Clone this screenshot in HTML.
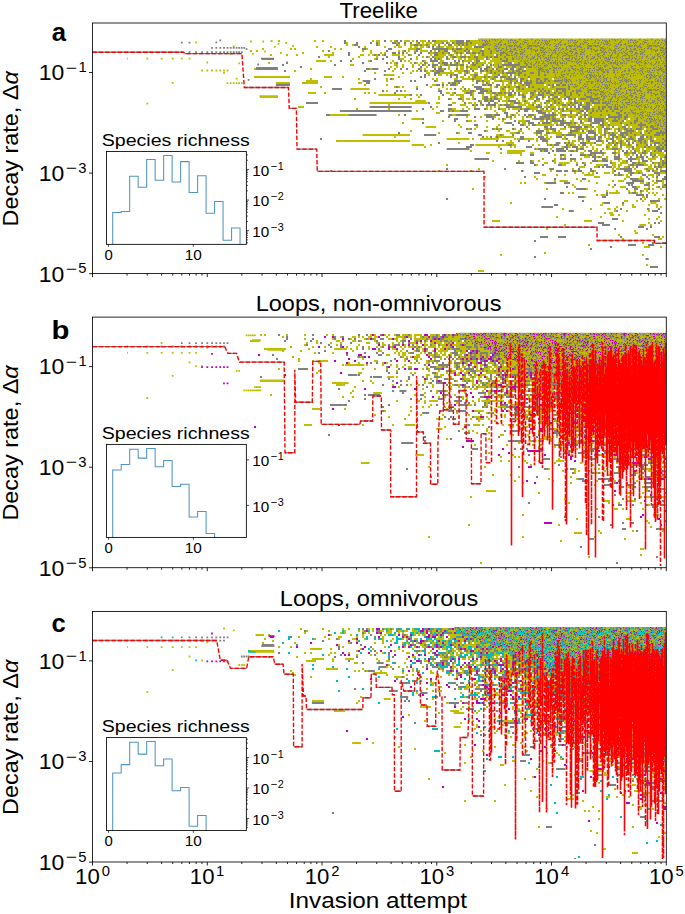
<!DOCTYPE html><html><head><meta charset="utf-8"><style>html,body{margin:0;padding:0;background:#fff}svg{display:block}</style></head><body><svg width="685" height="914" viewBox="0 0 685 914" font-family="Liberation Sans, sans-serif">
<rect width="685" height="914" fill="#fff"/>
<text x="339.50" y="17.90" font-size="22.2" textLength="78.48" lengthAdjust="spacingAndGlyphs">Treelike</text>
<text x="255.67" y="311.30" font-size="22.2" textLength="245.78" lengthAdjust="spacingAndGlyphs">Loops, non-omnivorous</text>
<text x="279.88" y="605.50" font-size="22.2" textLength="198.27" lengthAdjust="spacingAndGlyphs">Loops, omnivorous</text>
<text x="51.85" y="41.40" font-size="25.5" textLength="14.29" lengthAdjust="spacingAndGlyphs" font-weight="bold">a</text>
<text x="51.56" y="339.00" font-size="25.5" textLength="17.94" lengthAdjust="spacingAndGlyphs" font-weight="bold">b</text>
<text x="51.60" y="631.60" font-size="25.5" textLength="14.25" lengthAdjust="spacingAndGlyphs" font-weight="bold">c</text>
<text x="288.86" y="907.70" font-size="22.2" textLength="178.22" lengthAdjust="spacingAndGlyphs">Invasion attempt</text>
<defs><filter id="soft" x="0" y="0" width="1" height="1"><feGaussianBlur stdDeviation="0.45"/></filter><pattern id="pat0" width="60" height="44" patternUnits="userSpaceOnUse" x="0" y="0">
<rect width="60" height="44" fill="#bfbf00"/>
<path d="M0 0h0m4 0h0m2 0h0m1 0h0m3 0h0m6 0h0m2 0h0m2 0h0m1 0h0m3 0h0m1 0h0m10 0h0m5 0h0m3 0h0m4 0h0m-38 1h0m6 0h0m5 0h0m8 0h0m1 0h0m1 0h0m2 0h0m2 0h0m2 0h0m3 0h0m9 0h0m1 0h0m1 0h0m1 0h0m2 0h0m1 0h0m1 0h0m2 0h0m1 0h0m-55 1h0m11 0h0m2 0h0m1 0h0m9 0h0m3 0h0m1 0h0m1 0h0m3 0h0m3 0h0m1 0h0m1 0h0m1 0h0m7 0h0m2 0h0m1 0h0m1 0h0m4 0h0m1 0h0m3 0h0m-59 1h0m1 0h0m1 0h0m5 0h0m12 0h0m7 0h0m11 0h0m3 0h0m1 0h0m7 0h0m-47 1h0m1 0h0m1 0h0m2 0h0m4 0h0m6 0h0m1 0h0m2 0h0m4 0h0m1 0h0m3 0h0m4 0h0m4 0h0m1 0h0m9 0h0m3 0h0m1 0h0m2 0h0m1 0h0m-51 1h0m4 0h0m6 0h0m4 0h0m7 0h0m5 0h0m1 0h0m4 0h0m2 0h0m1 0h0m1 0h0m4 0h0m2 0h0m1 0h0m9 0h0m2 0h0m1 0h0m3 0h0m-57 1h0m1 0h0m2 0h0m5 0h0m3 0h0m2 0h0m1 0h0m1 0h0m3 0h0m2 0h0m5 0h0m5 0h0m6 0h0m8 0h0m11 0h0m1 0h0m1 0h0m-55 1h0m3 0h0m10 0h0m8 0h0m6 0h0m1 0h0m1 0h0m1 0h0m8 0h0m1 0h0m3 0h0m7 0h0m4 0h0m-54 1h0m2 0h0m1 0h0m2 0h0m3 0h0m3 0h0m2 0h0m1 0h0m4 0h0m2 0h0m3 0h0m3 0h0m5 0h0m3 0h0m1 0h0m6 0h0m1 0h0m-39 1h0m8 0h0m3 0h0m3 0h0m4 0h0m3 0h0m1 0h0m5 0h0m4 0h0m1 0h0m1 0h0m3 0h0m1 0h0m16 0h0m2 0h0m-56 1h0m1 0h0m7 0h0m6 0h0m9 0h0m1 0h0m7 0h0m6 0h0m2 0h0m2 0h0m6 0h0m5 0h0m2 0h0m1 0h0m-58 1h0m2 0h0m6 0h0m2 0h0m1 0h0m7 0h0m5 0h0m1 0h0m1 0h0m3 0h0m1 0h0m2 0h0m1 0h0m4 0h0m11 0h0m10 0h0m-54 1h0m7 0h0m7 0h0m5 0h0m7 0h0m7 0h0m3 0h0m3 0h0m4 0h0m1 0h0m5 0h0m2 0h0m4 0h0m1 0h0m-59 1h0m5 0h0m1 0h0m2 0h0m2 0h0m2 0h0m2 0h0m2 0h0m4 0h0m9 0h0m3 0h0m2 0h0m7 0h0m5 0h0m7 0h0m1 0h0m-54 1h0m4 0h0m2 0h0m2 0h0m2 0h0m7 0h0m5 0h0m3 0h0m1 0h0m1 0h0m1 0h0m1 0h0m3 0h0m3 0h0m1 0h0m3 0h0m3 0h0m6 0h0m3 0h0m1 0h0m1 0h0m4 0h0m-50 1h0m1 0h0m1 0h0m13 0h0m4 0h0m5 0h0m4 0h0m3 0h0m12 0h0m5 0h0m2 0h0m-56 1h0m4 0h0m1 0h0m3 0h0m3 0h0m3 0h0m2 0h0m6 0h0m4 0h0m1 0h0m1 0h0m8 0h0m4 0h0m4 0h0m2 0h0m-44 1h0m4 0h0m1 0h0m7 0h0m4 0h0m5 0h0m7 0h0m1 0h0m2 0h0m2 0h0m3 0h0m1 0h0m4 0h0m12 0h0m2 0h0m-55 1h0m7 0h0m1 0h0m2 0h0m1 0h0m1 0h0m2 0h0m3 0h0m2 0h0m4 0h0m10 0h0m2 0h0m3 0h0m4 0h0m3 0h0m3 0h0m5 0h0m3 0h0m-57 1h0m2 0h0m4 0h0m2 0h0m1 0h0m2 0h0m2 0h0m2 0h0m3 0h0m1 0h0m1 0h0m2 0h0m2 0h0m11 0h0m7 0h0m1 0h0m1 0h0m4 0h0m5 0h0m3 0h0m-52 1h0m10 0h0m1 0h0m22 0h0m12 0h0m3 0h0m-54 1h0m4 0h0m1 0h0m2 0h0m5 0h0m6 0h0m4 0h0m8 0h0m4 0h0m1 0h0m4 0h0m2 0h0m3 0h0m9 0h0m5 0h0m-54 1h0m1 0h0m7 0h0m19 0h0m1 0h0m24 0h0m-56 1h0m2 0h0m11 0h0m1 0h0m2 0h0m3 0h0m1 0h0m11 0h0m11 0h0m3 0h0m9 0h0m4 0h0m-58 1h0m1 0h0m8 0h0m1 0h0m4 0h0m1 0h0m1 0h0m2 0h0m2 0h0m5 0h0m3 0h0m4 0h0m1 0h0m2 0h0m5 0h0m1 0h0m2 0h0m4 0h0m2 0h0m1 0h0m3 0h0m1 0h0m5 0h0m-59 1h0m2 0h0m1 0h0m2 0h0m2 0h0m6 0h0m16 0h0m4 0h0m1 0h0m3 0h0m1 0h0m4 0h0m14 0h0m2 0h0m1 0h0m-58 1h0m5 0h0m2 0h0m5 0h0m1 0h0m3 0h0m7 0h0m1 0h0m3 0h0m1 0h0m6 0h0m5 0h0m1 0h0m6 0h0m2 0h0m3 0h0m2 0h0m3 0h0m1 0h0m-56 1h0m1 0h0m1 0h0m3 0h0m7 0h0m8 0h0m2 0h0m5 0h0m10 0h0m3 0h0m3 0h0m2 0h0m2 0h0m-46 1h0m1 0h0m3 0h0m1 0h0m5 0h0m1 0h0m3 0h0m4 0h0m13 0h0m8 0h0m6 0h0m2 0h0m1 0h0m2 0h0m4 0h0m-31 1h0m2 0h0m3 0h0m2 0h0m4 0h0m3 0h0m3 0h0m15 0h0m-56 1h0m5 0h0m8 0h0m6 0h0m2 0h0m1 0h0m3 0h0m14 0h0m6 0h0m2 0h0m1 0h0m1 0h0m3 0h0m-54 1h0m4 0h0m17 0h0m1 0h0m8 0h0m3 0h0m2 0h0m11 0h0m3 0h0m2 0h0m1 0h0m2 0h0m2 0h0m2 0h0m-58 1h0m3 0h0m12 0h0m4 0h0m4 0h0m7 0h0m14 0h0m2 0h0m4 0h0m3 0h0m2 0h0m4 0h0m-56 1h0m4 0h0m7 0h0m2 0h0m4 0h0m2 0h0m4 0h0m20 0h0m1 0h0m3 0h0m1 0h0m3 0h0m5 0h0m-59 1h0m4 0h0m1 0h0m1 0h0m4 0h0m8 0h0m6 0h0m25 0h0m1 0h0m6 0h0m-53 1h0m3 0h0m16 0h0m3 0h0m1 0h0m2 0h0m1 0h0m10 0h0m2 0h0m3 0h0m4 0h0m7 0h0m3 0h0m-58 1h0m4 0h0m2 0h0m4 0h0m9 0h0m1 0h0m1 0h0m3 0h0m2 0h0m1 0h0m3 0h0m6 0h0m4 0h0m17 0h0m1 0h0m-58 1h0m3 0h0m4 0h0m1 0h0m2 0h0m4 0h0m8 0h0m3 0h0m1 0h0m2 0h0m3 0h0m8 0h0m7 0h0m2 0h0m1 0h0m2 0h0m1 0h0m3 0h0m2 0h0m1 0h0m-57 1h0m1 0h0m3 0h0m4 0h0m2 0h0m4 0h0m4 0h0m1 0h0m6 0h0m14 0h0m7 0h0m4 0h0m1 0h0m-40 1h0m2 0h0m3 0h0m6 0h0m8 0h0m8 0h0m5 0h0m7 0h0m6 0h0m-55 1h0m2 0h0m2 0h0m3 0h0m6 0h0m6 0h0m7 0h0m2 0h0m2 0h0m2 0h0m1 0h0m10 0h0m2 0h0m8 0h0m4 0h0m-54 1h0m2 0h0m2 0h0m11 0h0m8 0h0m9 0h0m6 0h0m12 0h0m-54 1h0m4 0h0m2 0h0m12 0h0m1 0h0m10 0h0m3 0h0m2 0h0m1 0h0m8 0h0m1 0h0m1 0h0m8 0h0m4 0h0m-55 1h0m3 0h0m2 0h0m6 0h0m4 0h0m7 0h0m3 0h0m6 0h0m6 0h0m2 0h0m6 0h0m4 0h0m5 0h0m1 0h0" stroke="#808080" stroke-width="1.25" stroke-linecap="square" fill="none" transform="translate(.5 .5)"/>
</pattern>
<pattern id="pat1" width="60" height="44" patternUnits="userSpaceOnUse" x="0" y="0">
<rect width="60" height="44" fill="#bfbf00"/>
<path d="M2 0h0m4 0h0m4 0h0m1 0h0m7 0h0m6 0h0m1 0h0m1 0h0m3 0h0m4 0h0m5 0h0m9 0h0m6 0h0m2 0h0m-55 1h0m5 0h0m1 0h0m1 0h0m6 0h0m3 0h0m11 0h0m3 0h0m3 0h0m8 0h0m11 0h0m5 0h0m-54 1h0m4 0h0m4 0h0m10 0h0m5 0h0m1 0h0m3 0h0m1 0h0m3 0h0m5 0h0m1 0h0m5 0h0m5 0h0m4 0h0m5 0h0m-58 1h0m2 0h0m1 0h0m5 0h0m6 0h0m8 0h0m15 0h0m2 0h0m6 0h0m2 0h0m1 0h0m9 0h0m-55 1h0m2 0h0m4 0h0m10 0h0m16 0h0m3 0h0m2 0h0m6 0h0m6 0h0m1 0h0m3 0h0m-56 1h0m1 0h0m5 0h0m1 0h0m4 0h0m5 0h0m2 0h0m11 0h0m9 0h0m4 0h0m7 0h0m3 0h0m4 0h0m-55 1h0m4 0h0m5 0h0m1 0h0m11 0h0m2 0h0m5 0h0m2 0h0m3 0h0m10 0h0m7 0h0m5 0h0m1 0h0m2 0h0m-56 1h0m4 0h0m2 0h0m2 0h0m8 0h0m3 0h0m3 0h0m4 0h0m1 0h0m5 0h0m1 0h0m12 0h0m1 0h0m1 0h0m2 0h0m2 0h0m1 0h0m-48 1h0m5 0h0m3 0h0m7 0h0m1 0h0m4 0h0m2 0h0m6 0h0m9 0h0m9 0h0m3 0h0m-54 1h0m2 0h0m7 0h0m6 0h0m2 0h0m10 0h0m7 0h0m2 0h0m1 0h0m3 0h0m6 0h0m2 0h0m2 0h0m3 0h0m3 0h0m1 0h0m-58 1h0m4 0h0m7 0h0m5 0h0m2 0h0m12 0h0m2 0h0m9 0h0m17 0h0m-59 1h0m5 0h0m4 0h0m2 0h0m1 0h0m3 0h0m4 0h0m1 0h0m1 0h0m5 0h0m1 0h0m2 0h0m6 0h0m7 0h0m2 0h0m1 0h0m2 0h0m2 0h0m1 0h0m8 0h0m-57 1h0m1 0h0m4 0h0m7 0h0m4 0h0m1 0h0m5 0h0m3 0h0m2 0h0m9 0h0m5 0h0m6 0h0m3 0h0m1 0h0m1 0h0m3 0h0m-53 1h0m1 0h0m5 0h0m1 0h0m3 0h0m3 0h0m13 0h0m6 0h0m1 0h0m2 0h0m16 0h0m-54 1h0m1 0h0m1 0h0m2 0h0m1 0h0m9 0h0m3 0h0m4 0h0m2 0h0m2 0h0m4 0h0m1 0h0m1 0h0m2 0h0m6 0h0m7 0h0m7 0h0m4 0h0m-55 1h0m4 0h0m3 0h0m4 0h0m3 0h0m5 0h0m4 0h0m4 0h0m3 0h0m3 0h0m9 0h0m7 0h0m3 0h0m2 0h0m-54 1h0m10 0h0m5 0h0m1 0h0m1 0h0m6 0h0m2 0h0m7 0h0m2 0h0m2 0h0m1 0h0m2 0h0m2 0h0m3 0h0m8 0h0m4 0h0m-50 1h0m4 0h0m11 0h0m4 0h0m5 0h0m4 0h0m15 0h0m2 0h0m3 0h0m2 0h0m-57 1h0m1 0h0m3 0h0m4 0h0m2 0h0m1 0h0m4 0h0m7 0h0m2 0h0m13 0h0m9 0h0m3 0h0m4 0h0m2 0h0m1 0h0m-56 1h0m4 0h0m4 0h0m2 0h0m4 0h0m13 0h0m1 0h0m3 0h0m1 0h0m8 0h0m6 0h0m6 0h0m-44 1h0m3 0h0m3 0h0m7 0h0m4 0h0m3 0h0m2 0h0m5 0h0m10 0h0m1 0h0m1 0h0m8 0h0m1 0h0m2 0h0m-54 1h0m5 0h0m8 0h0m6 0h0m1 0h0m3 0h0m3 0h0m13 0h0m1 0h0m2 0h0m5 0h0m1 0h0m1 0h0m-53 1h0m9 0h0m1 0h0m2 0h0m6 0h0m1 0h0m1 0h0m12 0h0m1 0h0m1 0h0m2 0h0m5 0h0m6 0h0m3 0h0m1 0h0m1 0h0m4 0h0m-53 1h0m9 0h0m9 0h0m1 0h0m4 0h0m2 0h0m8 0h0m1 0h0m6 0h0m1 0h0m2 0h0m6 0h0m5 0h0m-58 1h0m1 0h0m7 0h0m2 0h0m2 0h0m3 0h0m3 0h0m1 0h0m8 0h0m3 0h0m2 0h0m2 0h0m6 0h0m2 0h0m4 0h0m5 0h0m4 0h0m-55 1h0m1 0h0m3 0h0m2 0h0m2 0h0m2 0h0m3 0h0m1 0h0m8 0h0m1 0h0m3 0h0m3 0h0m1 0h0m9 0h0m5 0h0m4 0h0m6 0h0m3 0h0m1 0h0m-55 1h0m1 0h0m1 0h0m3 0h0m3 0h0m2 0h0m2 0h0m5 0h0m1 0h0m5 0h0m5 0h0m9 0h0m2 0h0m1 0h0m2 0h0m5 0h0m1 0h0m1 0h0m5 0h0m1 0h0m-55 1h0m2 0h0m1 0h0m3 0h0m1 0h0m2 0h0m4 0h0m9 0h0m4 0h0m5 0h0m2 0h0m1 0h0m6 0h0m14 0h0m1 0h0m-56 1h0m5 0h0m2 0h0m1 0h0m1 0h0m1 0h0m10 0h0m2 0h0m1 0h0m4 0h0m7 0h0m2 0h0m1 0h0m12 0h0m-49 1h0m2 0h0m1 0h0m5 0h0m1 0h0m4 0h0m3 0h0m6 0h0m5 0h0m1 0h0m1 0h0m4 0h0m2 0h0m8 0h0m1 0h0m4 0h0m5 0h0m-50 1h0m2 0h0m7 0h0m5 0h0m2 0h0m1 0h0m1 0h0m1 0h0m2 0h0m4 0h0m1 0h0m2 0h0m5 0h0m1 0h0m3 0h0m2 0h0m2 0h0m2 0h0m1 0h0m4 0h0m2 0h0m2 0h0m-51 1h0m1 0h0m4 0h0m5 0h0m10 0h0m13 0h0m1 0h0m3 0h0m2 0h0m1 0h0m1 0h0m3 0h0m2 0h0m4 0h0m-51 1h0m8 0h0m2 0h0m9 0h0m12 0h0m4 0h0m3 0h0m2 0h0m2 0h0m4 0h0m4 0h0m2 0h0m-49 1h0m6 0h0m11 0h0m2 0h0m5 0h0m5 0h0m1 0h0m1 0h0m12 0h0m5 0h0m1 0h0m1 0h0m-58 1h0m8 0h0m11 0h0m2 0h0m1 0h0m8 0h0m1 0h0m2 0h0m4 0h0m2 0h0m1 0h0m3 0h0m1 0h0m2 0h0m4 0h0m2 0h0m2 0h0m1 0h0m2 0h0m-56 1h0m2 0h0m1 0h0m1 0h0m9 0h0m2 0h0m5 0h0m5 0h0m1 0h0m3 0h0m1 0h0m3 0h0m2 0h0m1 0h0m8 0h0m12 0h0m-55 1h0m7 0h0m5 0h0m6 0h0m14 0h0m1 0h0m7 0h0m6 0h0m3 0h0m4 0h0m4 0h0m-54 1h0m6 0h0m2 0h0m11 0h0m5 0h0m1 0h0m2 0h0m6 0h0m1 0h0m3 0h0m5 0h0m3 0h0m2 0h0m2 0h0m2 0h0m-56 1h0m4 0h0m1 0h0m2 0h0m5 0h0m3 0h0m8 0h0m1 0h0m10 0h0m4 0h0m2 0h0m3 0h0m1 0h0m1 0h0m2 0h0m2 0h0m2 0h0m2 0h0m4 0h0m1 0h0m-55 1h0m3 0h0m2 0h0m1 0h0m10 0h0m6 0h0m4 0h0m3 0h0m11 0h0m1 0h0m7 0h0m6 0h0m1 0h0m-53 1h0m1 0h0m1 0h0m6 0h0m1 0h0m4 0h0m4 0h0m1 0h0m5 0h0m1 0h0m10 0h0m4 0h0m7 0h0m5 0h0m1 0h0m-56 1h0m7 0h0m1 0h0m2 0h0m1 0h0m3 0h0m3 0h0m1 0h0m3 0h0m1 0h0m3 0h0m4 0h0m1 0h0m3 0h0m2 0h0m2 0h0m2 0h0m-32 1h0m3 0h0m3 0h0m1 0h0m5 0h0m3 0h0m2 0h0m9 0h0m3 0h0m3 0h0m4 0h0m2 0h0m2 0h0m5 0h0m5 0h0m-56 1h0m6 0h0m5 0h0m2 0h0m1 0h0m4 0h0m2 0h0m1 0h0m16 0h0m3 0h0m1 0h0m4 0h0m5 0h0m5 0h0m1 0h0" stroke="#808080" stroke-width="1.25" stroke-linecap="square" fill="none" transform="translate(.5 .5)"/>
<path d="M0 0h0m5 0h0m3 0h0m6 0h0m14 0h0m4 0h0m5 0h0m14 0h0m5 0h0m2 0h0m-54 1h0m7 0h0m4 0h0m2 0h0m2 0h0m5 0h0m14 0h0m12 0h0m-50 1h0m10 0h0m5 0h0m1 0h0m1 0h0m12 0h0m6 0h0m16 0h0m-38 1h0m4 0h0m1 0h0m6 0h0m2 0h0m3 0h0m1 0h0m6 0h0m6 0h0m11 0h0m2 0h0m-53 1h0m2 0h0m3 0h0m18 0h0m3 0h0m9 0h0m2 0h0m-15 1h0m2 0h0m8 0h0m2 0h0m5 0h0m3 0h0m-42 1h0m5 0h0m5 0h0m4 0h0m19 0h0m3 0h0m5 0h0m-27 1h0m7 0h0m3 0h0m6 0h0m1 0h0m1 0h0m3 0h0m2 0h0m5 0h0m7 0h0m-51 1h0m10 0h0m1 0h0m8 0h0m6 0h0m12 0h0m2 0h0m7 0h0m5 0h0m1 0h0m6 0h0m-55 1h0m4 0h0m7 0h0m9 0h0m8 0h0m1 0h0m14 0h0m8 0h0m2 0h0m-53 1h0m8 0h0m2 0h0m1 0h0m10 0h0m4 0h0m28 0h0m-53 1h0m1 0h0m32 0h0m-32 1h0m1 0h0m5 0h0m17 0h0m2 0h0m3 0h0m15 0h0m7 0h0m3 0h0m-56 1h0m39 0h0m8 0h0m1 0h0m4 0h0m3 0h0m1 0h0m2 0h0m-56 1h0m4 0h0m2 0h0m4 0h0m6 0h0m5 0h0m14 0h0m3 0h0m8 0h0m-48 1h0m9 0h0m1 0h0m3 0h0m1 0h0m22 0h0m3 0h0m2 0h0m-31 1h0m19 0h0m2 0h0m8 0h0m5 0h0m6 0h0m4 0h0m1 0h0m-37 1h0m1 0h0m1 0h0m8 0h0m8 0h0m10 0h0m-29 1h0m8 0h0m3 0h0m2 0h0m1 0h0m8 0h0m6 0h0m2 0h0m4 0h0m-50 1h0m5 0h0m9 0h0m2 0h0m1 0h0m5 0h0m3 0h0m13 0h0m6 0h0m2 0h0m-28 1h0m4 0h0m3 0h0m13 0h0m1 0h0m4 0h0m4 0h0m2 0h0m-39 1h0m3 0h0m5 0h0m19 0h0m-15 1h0m2 0h0m5 0h0m7 0h0m1 0h0m16 0h0m-49 1h0m4 0h0m4 0h0m1 0h0m3 0h0m2 0h0m4 0h0m6 0h0m11 0h0m10 0h0m6 0h0m-40 1h0m4 0h0m3 0h0m-21 1h0m2 0h0m6 0h0m5 0h0m8 0h0m1 0h0m10 0h0m1 0h0m14 0h0m3 0h0m-51 1h0m21 0h0m1 0h0m4 0h0m9 0h0m17 0h0m2 0h0m3 0h0m-58 1h0m23 0h0m8 0h0m3 0h0m11 0h0m1 0h0m1 0h0m-44 1h0m9 0h0m8 0h0m12 0h0m20 0h0m1 0h0m-38 1h0m1 0h0m4 0h0m11 0h0m6 0h0m11 0h0m10 0h0m-58 1h0m5 0h0m2 0h0m1 0h0m18 0h0m18 0h0m9 0h0m-50 1h0m23 0h0m3 0h0m5 0h0m-25 1h0m2 0h0m17 0h0m4 0h0m4 0h0m2 0h0m3 0h0m-41 1h0m3 0h0m11 0h0m26 0h0m3 0h0m3 0h0m1 0h0m7 0h0m-54 1h0m5 0h0m6 0h0m2 0h0m2 0h0m11 0h0m18 0h0m2 0h0m12 0h0m-50 1h0m3 0h0m3 0h0m3 0h0m6 0h0m5 0h0m14 0h0m4 0h0m5 0h0m4 0h0m-56 1h0m7 0h0m8 0h0m8 0h0m2 0h0m21 0h0m-38 1h0m7 0h0m2 0h0m9 0h0m2 0h0m7 0h0m6 0h0m2 0h0m1 0h0m2 0h0m5 0h0m-50 1h0m8 0h0m1 0h0m9 0h0m1 0h0m1 0h0m9 0h0m1 0h0m11 0h0m8 0h0m-49 1h0m3 0h0m1 0h0m5 0h0m4 0h0m1 0h0m1 0h0m10 0h0m4 0h0m5 0h0m10 0h0m3 0h0m7 0h0m4 0h0m-56 1h0m5 0h0m2 0h0m6 0h0m3 0h0m7 0h0m4 0h0m3 0h0m5 0h0m19 0h0m-55 1h0m13 0h0m9 0h0m7 0h0m1 0h0m8 0h0m2 0h0m5 0h0m3 0h0m-47 1h0m12 0h0m1 0h0m1 0h0m4 0h0m2 0h0m23 0h0m9 0h0m-47 1h0m10 0h0m2 0h0m6 0h0m5 0h0m1 0h0m1 0h0m1 0h0m1 0h0m1 0h0m17 0h0m2 0h0m4 0h0" stroke="#bf00bf" stroke-width="1.25" stroke-linecap="square" fill="none" transform="translate(.5 .5)"/>
</pattern>
<pattern id="pat2" width="60" height="44" patternUnits="userSpaceOnUse" x="0" y="0">
<rect width="60" height="44" fill="#bfbf00"/>
<path d="M1 0h0m4 0h0m2 0h0m6 0h0m5 0h0m4 0h0m3 0h0m3 0h0m1 0h0m1 0h0m9 0h0m7 0h0m3 0h0m3 0h0m-49 1h0m12 0h0m2 0h0m5 0h0m9 0h0m12 0h0m4 0h0m1 0h0m3 0h0m2 0h0m1 0h0m1 0h0m2 0h0m-57 1h0m6 0h0m2 0h0m4 0h0m9 0h0m1 0h0m3 0h0m1 0h0m14 0h0m1 0h0m2 0h0m1 0h0m4 0h0m7 0h0m-52 1h0m8 0h0m2 0h0m3 0h0m2 0h0m3 0h0m5 0h0m5 0h0m1 0h0m2 0h0m6 0h0m2 0h0m10 0h0m-52 1h0m1 0h0m1 0h0m3 0h0m2 0h0m10 0h0m1 0h0m10 0h0m4 0h0m1 0h0m2 0h0m4 0h0m1 0h0m3 0h0m2 0h0m14 0h0m-56 1h0m9 0h0m5 0h0m2 0h0m1 0h0m1 0h0m2 0h0m2 0h0m1 0h0m6 0h0m5 0h0m-28 1h0m4 0h0m3 0h0m14 0h0m3 0h0m1 0h0m2 0h0m1 0h0m1 0h0m8 0h0m8 0h0m-54 1h0m4 0h0m1 0h0m2 0h0m1 0h0m1 0h0m4 0h0m5 0h0m12 0h0m1 0h0m10 0h0m4 0h0m12 0h0m-51 1h0m3 0h0m1 0h0m1 0h0m6 0h0m6 0h0m2 0h0m2 0h0m5 0h0m1 0h0m3 0h0m7 0h0m7 0h0m9 0h0m-56 1h0m3 0h0m6 0h0m3 0h0m1 0h0m6 0h0m9 0h0m5 0h0m3 0h0m4 0h0m6 0h0m1 0h0m6 0h0m3 0h0m-47 1h0m15 0h0m9 0h0m5 0h0m3 0h0m1 0h0m3 0h0m2 0h0m7 0h0m-57 1h0m13 0h0m3 0h0m1 0h0m2 0h0m1 0h0m6 0h0m22 0h0m10 0h0m-58 1h0m10 0h0m7 0h0m8 0h0m8 0h0m2 0h0m2 0h0m1 0h0m5 0h0m1 0h0m9 0h0m2 0h0m3 0h0m1 0h0m-58 1h0m4 0h0m5 0h0m10 0h0m4 0h0m4 0h0m17 0h0m9 0h0m1 0h0m3 0h0m-53 1h0m7 0h0m12 0h0m2 0h0m12 0h0m15 0h0m2 0h0m3 0h0m-58 1h0m1 0h0m2 0h0m5 0h0m4 0h0m1 0h0m1 0h0m2 0h0m3 0h0m3 0h0m3 0h0m2 0h0m4 0h0m14 0h0m3 0h0m-45 1h0m6 0h0m2 0h0m1 0h0m8 0h0m3 0h0m8 0h0m4 0h0m15 0h0m3 0h0m1 0h0m1 0h0m-54 1h0m11 0h0m4 0h0m1 0h0m2 0h0m9 0h0m1 0h0m7 0h0m5 0h0m-40 1h0m1 0h0m10 0h0m5 0h0m2 0h0m1 0h0m4 0h0m4 0h0m6 0h0m4 0h0m18 0h0m-52 1h0m2 0h0m2 0h0m1 0h0m1 0h0m5 0h0m8 0h0m1 0h0m7 0h0m4 0h0m2 0h0m7 0h0m5 0h0m6 0h0m2 0h0m-47 1h0m9 0h0m1 0h0m1 0h0m1 0h0m1 0h0m6 0h0m1 0h0m1 0h0m15 0h0m3 0h0m1 0h0m6 0h0m-54 1h0m5 0h0m2 0h0m11 0h0m3 0h0m6 0h0m10 0h0m1 0h0m11 0h0m-46 1h0m5 0h0m8 0h0m3 0h0m4 0h0m1 0h0m2 0h0m5 0h0m7 0h0m1 0h0m1 0h0m2 0h0m5 0h0m5 0h0m4 0h0m1 0h0m-53 1h0m5 0h0m3 0h0m31 0h0m9 0h0m2 0h0m-45 1h0m3 0h0m2 0h0m6 0h0m6 0h0m6 0h0m3 0h0m7 0h0m3 0h0m4 0h0m-50 1h0m8 0h0m1 0h0m3 0h0m4 0h0m13 0h0m7 0h0m7 0h0m-43 1h0m3 0h0m3 0h0m3 0h0m1 0h0m1 0h0m5 0h0m3 0h0m11 0h0m1 0h0m8 0h0m1 0h0m14 0h0m1 0h0m-46 1h0m3 0h0m1 0h0m5 0h0m3 0h0m11 0h0m7 0h0m1 0h0m11 0h0m5 0h0m-57 1h0m4 0h0m4 0h0m3 0h0m1 0h0m3 0h0m8 0h0m9 0h0m24 0h0m-50 1h0m2 0h0m1 0h0m6 0h0m3 0h0m5 0h0m9 0h0m2 0h0m1 0h0m5 0h0m3 0h0m1 0h0m2 0h0m3 0h0m1 0h0m5 0h0m-55 1h0m15 0h0m6 0h0m5 0h0m15 0h0m4 0h0m4 0h0m4 0h0m1 0h0m2 0h0m2 0h0m-55 1h0m1 0h0m6 0h0m1 0h0m1 0h0m1 0h0m5 0h0m4 0h0m6 0h0m3 0h0m6 0h0m1 0h0m13 0h0m2 0h0m5 0h0m1 0h0m-50 1h0m5 0h0m7 0h0m3 0h0m2 0h0m7 0h0m4 0h0m19 0h0m-55 1h0m1 0h0m4 0h0m2 0h0m3 0h0m14 0h0m11 0h0m1 0h0m1 0h0m4 0h0m6 0h0m5 0h0m-44 1h0m5 0h0m11 0h0m4 0h0m1 0h0m1 0h0m7 0h0m10 0h0m10 0h0m-58 1h0m4 0h0m1 0h0m4 0h0m4 0h0m7 0h0m9 0h0m5 0h0m9 0h0m16 0h0m-53 1h0m2 0h0m4 0h0m1 0h0m2 0h0m4 0h0m3 0h0m8 0h0m4 0h0m10 0h0m11 0h0m-54 1h0m2 0h0m3 0h0m1 0h0m6 0h0m11 0h0m1 0h0m5 0h0m1 0h0m3 0h0m9 0h0m8 0h0m-43 1h0m6 0h0m2 0h0m6 0h0m3 0h0m4 0h0m5 0h0m3 0h0m5 0h0m17 0h0m-54 1h0m4 0h0m16 0h0m6 0h0m6 0h0m6 0h0m2 0h0m-41 1h0m6 0h0m1 0h0m16 0h0m1 0h0m2 0h0m3 0h0m6 0h0m-35 1h0m2 0h0m17 0h0m2 0h0m12 0h0m3 0h0m10 0h0m-47 1h0m3 0h0m3 0h0m14 0h0m2 0h0m4 0h0m6 0h0m4 0h0m1 0h0m6 0h0m3 0h0m1 0h0m2 0h0m-48 1h0m6 0h0m9 0h0m2 0h0m3 0h0m4 0h0m3 0h0m1 0h0m4 0h0m3 0h0m5 0h0" stroke="#808080" stroke-width="1.25" stroke-linecap="square" fill="none" transform="translate(.5 .5)"/>
<path d="M4 0h0m15 0h0m5 0h0m16 0h0m10 0h0m-44 1h0m8 0h0m10 0h0m5 0h0m-28 1h0m6 0h0m7 0h0m4 0h0m35 0h0m-46 1h0m3 0h0m9 0h0m4 0h0m14 0h0m1 0h0m13 0h0m-41 1h0m14 0h0m3 0h0m26 0h0m-44 1h0m4 0h0m1 0h0m28 0h0m6 0h0m2 0h0m1 0h0m2 0h0m-51 1h0m3 0h0m6 0h0m8 0h0m8 0h0m4 0h0m8 0h0m1 0h0m4 0h0m-19 1h0m28 0h0m6 0h0m-47 1h0m1 0h0m7 0h0m4 0h0m28 0h0m-50 1h0m7 0h0m1 0h0m3 0h0m1 0h0m3 0h0m8 0h0m16 0h0m7 0h0m-44 1h0m11 0h0m1 0h0m13 0h0m3 0h0m19 0h0m-50 1h0m22 0h0m15 0h0m12 0h0m6 0h0m-36 1h0m6 0h0m3 0h0m23 0h0m4 0h0m-54 1h0m2 0h0m5 0h0m7 0h0m23 0h0m1 0h0m10 0h0m-49 1h0m12 0h0m1 0h0m1 0h0m1 0h0m9 0h0m2 0h0m19 0h0m1 0h0m4 0h0m8 0h0m-48 1h0m9 0h0m13 0h0m1 0h0m7 0h0m16 0h0m2 0h0m-46 1h0m17 0h0m6 0h0m15 0h0m6 0h0m2 0h0m-45 1h0m7 0h0m1 0h0m9 0h0m3 0h0m10 0h0m3 0h0m9 0h0m2 0h0m-51 1h0m8 0h0m6 0h0m14 0h0m12 0h0m1 0h0m-41 1h0m9 0h0m2 0h0m3 0h0m18 0h0m1 0h0m2 0h0m10 0h0m2 0h0m-53 1h0m8 0h0m15 0h0m29 0h0m-47 1h0m2 0h0m6 0h0m4 0h0m8 0h0m2 0h0m13 0h0m13 0h0m1 0h0m-53 1h0m14 0h0m3 0h0m1 0h0m26 0h0m4 0h0m-50 1h0m13 0h0m2 0h0m7 0h0m10 0h0m8 0h0m1 0h0m2 0h0m3 0h0m13 0h0m-55 1h0m15 0h0m6 0h0m5 0h0m19 0h0m9 0h0m-58 1h0m23 0h0m13 0h0m3 0h0m7 0h0m5 0h0m-37 1h0m30 0h0m-44 1h0m17 0h0m3 0h0m9 0h0m2 0h0m7 0h0m1 0h0m9 0h0m3 0h0m-44 1h0m2 0h0m5 0h0m10 0h0m25 0h0m1 0h0m8 0h0m1 0h0m-57 1h0m8 0h0m10 0h0m1 0h0m5 0h0m1 0h0m10 0h0m-34 1h0m4 0h0m11 0h0m1 0h0m9 0h0m1 0h0m2 0h0m7 0h0m-22 1h0m23 0h0m6 0h0m10 0h0m-53 1h0m3 0h0m6 0h0m30 0h0m-28 1h0m8 0h0m2 0h0m3 0h0m3 0h0m21 0h0m2 0h0m3 0h0m-55 1h0m21 0h0m12 0h0m10 0h0m4 0h0m5 0h0m-51 1h0m11 0h0m20 0h0m7 0h0m5 0h0m9 0h0m3 0h0m2 0h0m-55 1h0m6 0h0m1 0h0m11 0h0m14 0h0m1 0h0m2 0h0m8 0h0m-46 1h0m2 0h0m12 0h0m4 0h0m4 0h0m6 0h0m10 0h0m2 0h0m9 0h0m9 0h0m-52 1h0m4 0h0m13 0h0m5 0h0m11 0h0m11 0h0m4 0h0m-36 1h0m1 0h0m1 0h0m10 0h0m23 0h0m3 0h0m1 0h0m-56 1h0m2 0h0m4 0h0m7 0h0m4 0h0m1 0h0m4 0h0m9 0h0m6 0h0m4 0h0m8 0h0m9 0h0m-50 1h0m3 0h0m20 0h0m4 0h0m15 0h0m1 0h0m2 0h0m4 0h0m-58 1h0m5 0h0m13 0h0m10 0h0m30 0h0m-31 1h0m20 0h0m1 0h0m4 0h0m2 0h0" stroke="#bf00bf" stroke-width="1.25" stroke-linecap="square" fill="none" transform="translate(.5 .5)"/>
<path d="M2 0h0m4 0h0m2 0h0m4 0h0m2 0h0m1 0h0m1 0h0m4 0h0m11 0h0m1 0h0m4 0h0m11 0h0m6 0h0m1 0h0m2 0h0m2 0h0m-58 1h0m9 0h0m3 0h0m1 0h0m3 0h0m5 0h0m4 0h0m2 0h0m8 0h0m1 0h0m1 0h0m15 0h0m7 0h0m-49 1h0m1 0h0m12 0h0m11 0h0m2 0h0m1 0h0m2 0h0m3 0h0m5 0h0m3 0h0m1 0h0m3 0h0m2 0h0m-55 1h0m5 0h0m3 0h0m3 0h0m13 0h0m5 0h0m11 0h0m7 0h0m1 0h0m1 0h0m3 0h0m3 0h0m3 0h0m-53 1h0m2 0h0m1 0h0m3 0h0m1 0h0m1 0h0m2 0h0m4 0h0m1 0h0m8 0h0m2 0h0m6 0h0m4 0h0m1 0h0m2 0h0m5 0h0m1 0h0m1 0h0m1 0h0m4 0h0m1 0h0m1 0h0m-58 1h0m5 0h0m1 0h0m1 0h0m15 0h0m2 0h0m4 0h0m6 0h0m6 0h0m1 0h0m5 0h0m6 0h0m6 0h0m-57 1h0m2 0h0m4 0h0m1 0h0m2 0h0m4 0h0m7 0h0m2 0h0m3 0h0m2 0h0m13 0h0m1 0h0m3 0h0m3 0h0m1 0h0m-48 1h0m1 0h0m8 0h0m5 0h0m1 0h0m3 0h0m2 0h0m3 0h0m4 0h0m5 0h0m1 0h0m1 0h0m2 0h0m1 0h0m1 0h0m1 0h0m6 0h0m1 0h0m2 0h0m3 0h0m3 0h0m1 0h0m-53 1h0m11 0h0m8 0h0m4 0h0m2 0h0m1 0h0m5 0h0m7 0h0m1 0h0m5 0h0m2 0h0m2 0h0m3 0h0m1 0h0m-55 1h0m1 0h0m7 0h0m10 0h0m3 0h0m6 0h0m1 0h0m2 0h0m2 0h0m5 0h0m3 0h0m7 0h0m4 0h0m6 0h0m-57 1h0m1 0h0m2 0h0m5 0h0m1 0h0m1 0h0m1 0h0m2 0h0m4 0h0m1 0h0m1 0h0m4 0h0m2 0h0m1 0h0m2 0h0m3 0h0m2 0h0m4 0h0m1 0h0m8 0h0m1 0h0m5 0h0m7 0h0m-57 1h0m3 0h0m5 0h0m1 0h0m4 0h0m3 0h0m7 0h0m3 0h0m3 0h0m1 0h0m3 0h0m1 0h0m1 0h0m5 0h0m1 0h0m3 0h0m1 0h0m4 0h0m2 0h0m6 0h0m-57 1h0m3 0h0m8 0h0m3 0h0m5 0h0m6 0h0m1 0h0m3 0h0m1 0h0m7 0h0m6 0h0m2 0h0m1 0h0m1 0h0m2 0h0m6 0h0m-57 1h0m3 0h0m5 0h0m3 0h0m1 0h0m1 0h0m1 0h0m3 0h0m6 0h0m2 0h0m2 0h0m2 0h0m6 0h0m7 0h0m5 0h0m9 0h0m1 0h0m-51 1h0m3 0h0m1 0h0m12 0h0m6 0h0m1 0h0m4 0h0m7 0h0m4 0h0m1 0h0m7 0h0m-43 1h0m9 0h0m8 0h0m11 0h0m2 0h0m4 0h0m6 0h0m3 0h0m2 0h0m4 0h0m-58 1h0m1 0h0m1 0h0m3 0h0m1 0h0m2 0h0m6 0h0m1 0h0m13 0h0m5 0h0m1 0h0m4 0h0m2 0h0m2 0h0m1 0h0m1 0h0m3 0h0m5 0h0m6 0h0m-55 1h0m1 0h0m1 0h0m1 0h0m9 0h0m12 0h0m3 0h0m7 0h0m1 0h0m1 0h0m4 0h0m2 0h0m1 0h0m2 0h0m1 0h0m3 0h0m5 0h0m-57 1h0m5 0h0m5 0h0m3 0h0m10 0h0m2 0h0m8 0h0m4 0h0m3 0h0m2 0h0m4 0h0m4 0h0m1 0h0m2 0h0m4 0h0m1 0h0m-47 1h0m8 0h0m7 0h0m4 0h0m15 0h0m5 0h0m1 0h0m2 0h0m6 0h0m-56 1h0m4 0h0m5 0h0m1 0h0m20 0h0m2 0h0m1 0h0m11 0h0m7 0h0m-54 1h0m3 0h0m2 0h0m5 0h0m6 0h0m5 0h0m4 0h0m6 0h0m2 0h0m1 0h0m1 0h0m9 0h0m2 0h0m1 0h0m1 0h0m5 0h0m-52 1h0m5 0h0m1 0h0m2 0h0m2 0h0m3 0h0m1 0h0m8 0h0m1 0h0m5 0h0m1 0h0m1 0h0m17 0h0m3 0h0m2 0h0m4 0h0m-55 1h0m1 0h0m1 0h0m16 0h0m3 0h0m2 0h0m3 0h0m5 0h0m1 0h0m2 0h0m2 0h0m9 0h0m-41 1h0m6 0h0m9 0h0m8 0h0m2 0h0m4 0h0m1 0h0m3 0h0m6 0h0m3 0h0m7 0h0m1 0h0m1 0h0m2 0h0m-57 1h0m3 0h0m2 0h0m1 0h0m4 0h0m4 0h0m5 0h0m1 0h0m2 0h0m4 0h0m1 0h0m2 0h0m3 0h0m8 0h0m5 0h0m1 0h0m6 0h0m-51 1h0m2 0h0m3 0h0m1 0h0m7 0h0m5 0h0m1 0h0m1 0h0m2 0h0m14 0h0m6 0h0m3 0h0m1 0h0m4 0h0m4 0h0m-55 1h0m1 0h0m3 0h0m5 0h0m1 0h0m3 0h0m3 0h0m5 0h0m2 0h0m1 0h0m1 0h0m3 0h0m6 0h0m1 0h0m5 0h0m5 0h0m8 0h0m-54 1h0m2 0h0m3 0h0m7 0h0m3 0h0m2 0h0m1 0h0m3 0h0m3 0h0m2 0h0m2 0h0m1 0h0m3 0h0m2 0h0m4 0h0m1 0h0m2 0h0m4 0h0m2 0h0m4 0h0m1 0h0m2 0h0m-55 1h0m4 0h0m3 0h0m6 0h0m4 0h0m5 0h0m9 0h0m5 0h0m6 0h0m3 0h0m2 0h0m9 0h0m1 0h0m2 0h0m-57 1h0m4 0h0m4 0h0m12 0h0m2 0h0m1 0h0m2 0h0m7 0h0m12 0h0m6 0h0m3 0h0m-54 1h0m4 0h0m1 0h0m1 0h0m12 0h0m6 0h0m7 0h0m8 0h0m4 0h0m4 0h0m4 0h0m4 0h0m1 0h0m-57 1h0m6 0h0m1 0h0m1 0h0m2 0h0m2 0h0m4 0h0m1 0h0m12 0h0m6 0h0m5 0h0m2 0h0m1 0h0m3 0h0m8 0h0m4 0h0m-58 1h0m9 0h0m1 0h0m6 0h0m11 0h0m3 0h0m5 0h0m5 0h0m5 0h0m2 0h0m2 0h0m7 0h0m2 0h0m-54 1h0m1 0h0m1 0h0m9 0h0m4 0h0m4 0h0m1 0h0m3 0h0m12 0h0m5 0h0m7 0h0m2 0h0m-46 1h0m3 0h0m5 0h0m1 0h0m9 0h0m1 0h0m11 0h0m5 0h0m5 0h0m3 0h0m-50 1h0m1 0h0m1 0h0m2 0h0m3 0h0m4 0h0m12 0h0m4 0h0m1 0h0m3 0h0m1 0h0m1 0h0m9 0h0m1 0h0m10 0h0m5 0h0m1 0h0m-55 1h0m1 0h0m4 0h0m3 0h0m3 0h0m1 0h0m1 0h0m3 0h0m3 0h0m6 0h0m3 0h0m3 0h0m2 0h0m2 0h0m5 0h0m2 0h0m6 0h0m3 0h0m1 0h0m-55 1h0m8 0h0m6 0h0m3 0h0m2 0h0m1 0h0m5 0h0m4 0h0m1 0h0m13 0h0m5 0h0m4 0h0m2 0h0m1 0h0m2 0h0m-55 1h0m1 0h0m2 0h0m1 0h0m1 0h0m2 0h0m1 0h0m2 0h0m1 0h0m1 0h0m7 0h0m5 0h0m6 0h0m1 0h0m1 0h0m7 0h0m4 0h0m2 0h0m3 0h0m1 0h0m3 0h0m3 0h0m-58 1h0m6 0h0m2 0h0m1 0h0m6 0h0m7 0h0m4 0h0m8 0h0m10 0h0m12 0h0m-54 1h0m6 0h0m3 0h0m6 0h0m1 0h0m1 0h0m5 0h0m18 0h0m2 0h0m2 0h0m1 0h0m1 0h0m1 0h0m6 0h0m-53 1h0m2 0h0m6 0h0m1 0h0m1 0h0m3 0h0m5 0h0m4 0h0m2 0h0m7 0h0m8 0h0m1 0h0m5 0h0m7 0h0m5 0h0m-51 1h0m3 0h0m6 0h0m5 0h0m1 0h0m6 0h0m1 0h0m7 0h0m5 0h0m11 0h0m2 0h0m3 0h0m1 0h0" stroke="#00bfbf" stroke-width="1.25" stroke-linecap="square" fill="none" transform="translate(.5 .5)"/>
</pattern></defs>
<g filter="url(#soft)">
<path d="M478.1 38.6 478.1 41.9 481.9 41.9 482.1 43.9 485.9 43.9 486.1 45.9 489.9 45.9 490.1 47.9 493.9 47.9 494.1 49.9 497.9 49.9 498.1 51.9 503.9 51.9 504.1 53.9 507.9 53.9 508.1 55.9 511.9 55.9 512.1 57.9 515.9 57.9 516.1 59.9 519.9 59.9 520.1 61.9 523.9 61.9 524.1 63.9 527.9 63.9 528.1 65.9 531.9 65.9 532.1 67.9 535.9 67.9 536.1 69.9 539.9 69.9 540.1 71.9 543.9 71.9 544.1 73.9 547.9 73.9 548.1 75.9 551.9 75.9 552.1 77.9 555.9 77.9 556.1 79.9 559.9 79.9 560.1 81.9 563.9 81.9 564.1 83.9 567.9 83.9 568.1 85.9 571.9 85.9 572.1 87.9 575.9 87.9 576.1 89.9 579.9 89.9 580.1 91.9 583.9 91.9 584.1 93.9 589.9 93.9 590.1 95.9 593.9 95.9 594.1 97.9 597.9 97.9 598.1 99.9 601.9 99.9 602.1 101.9 605.9 101.9 606.1 103.9 609.9 103.9 610.1 105.9 613.9 105.9 614.1 107.9 617.9 107.9 618.1 109.9 621.9 109.9 622.1 111.9 625.9 111.9 626.1 113.9 629.9 113.9 630.1 115.9 633.9 115.9 634.1 117.9 637.9 117.9 638.1 119.9 641.9 119.9 642.1 121.9 645.9 121.9 646.1 123.9 649.9 123.9 650.1 125.9 653.9 125.9 654.1 127.9 657.9 127.9 658.1 129.9 661.9 129.9 662.1 131.9 665.9 131.9 666.0 38.6Z" fill="url(#pat0)"/>
<path d="M534.3 149H543.4M539.5 117H548.1M545.7 183H556.2M664.9 187H665.5M555.7 143H560.4M630.9 185H632.9M637.3 173H642.7M505.8 107H520.9M549.2 169H554.0M614.2 229H616.0M645.6 259H648.7M546.9 145H559.2M541.3 207H553.0M546.5 139H548.8M568.8 211H573.7M492.7 65H499.6M499.2 81H514.5M500.9 87H510.0M576.1 189H584.6M628.4 193H634.1M521.0 171H523.5M474.4 159H489.0M645.7 185H649.9M647.0 209H649.5M369.6 107H411.7M342.2 111H411.7M342.2 115H376.6M411.7 119H424.0M424.0 135H436.2M446.7 149H469.5M448.5 115H469.5M362.6 81H370.3M368.0 69H378.4M383.7 75H394.2" stroke="#808080" stroke-width="1.8" fill="none"/>
<path d="M580.1 153H583.7M609.1 193H619.8M639.3 225H646.0M600.6 195H605.7M612.8 167H615.3M561.5 147H570.6M634.8 233H638.1M487.1 93H496.1M641.2 159H642.6M558.8 163H563.2M546.6 133H554.0M600.2 205H602.8M570.4 143H573.1M563.5 163H569.6M557.7 135H566.0M494.8 73H503.2M607.2 209H610.6M609.2 213H613.0M481.7 145H510.0M650.4 203H656.4M516.7 139H534.1M559.5 181H566.1M495.1 137H512.4M507.1 153H521.4M486.3 77H496.6M507.0 107H514.4M533.5 133H537.9M542.0 125H553.7M507.1 151H525.2M475.4 145H487.2M642.0 197H644.9M619.9 187H625.1M579.0 167H585.1M652.5 211H655.2M545.8 131H549.1M480.5 139H499.0M350.4 89H369.6M369.6 103H427.5M342.2 115H348.6M378.4 95H410.0M342.2 141H410.0M362.6 135H410.0M411.7 145H424.0M415.2 101H425.7M425.7 127H436.2M446.7 139H469.5M448.5 111H467.8M385.4 75H394.2M411.7 119H422.2" stroke="#bfbf00" stroke-width="1.8" fill="none"/>
<path d="M198 20h0m2 0h0m8 0h0m6 0h0m14 0h0m1 0h0m2 0h0m-59 1h0m6 0h0m10 0h0m8 0h0m1 0h0m2 0h0m10 0h0m12 0h0m7 0h0m2 0h0m1 0h0m4 0h0m-57 1h0m10 0h0m22 0h0m3 0h0m6 0h0m5 0h0m9 0h0m8 0h0m-22 1h0m19 0h0m2 0h0m-46 1h0m14 0h0m10 0h0m3 0h0m1 0h0m6 0h0m1 0h0m-65 1h0m38 0h0m17 0h0m4 0h0m4 0h0m7 0h0m6 0h0m1 0h0m7 0h0m-74 1h0m25 0h0m2 0h0m9 0h0m14 0h0m6 0h0m3 0h0m1 0h0m3 0h0m4 0h0m10 0h0m-64 1h0m17 0h0m14 0h0m7 0h0m25 0h0m3 0h0m-60 1h0m6 0h0m14 0h0m3 0h0m10 0h0m4 0h0m1 0h0m1 0h0m2 0h0m4 0h0m5 0h0m2 0h0m7 0h0m-119 1h0m3 0h0m52 0h0m11 0h0m18 0h0m2 0h0m1 0h0m3 0h0m-61 1h0m8 0h0m30 0h0m11 0h0m4 0h0m3 0h0m11 0h0m9 0h0m1 0h0m14 0h0m-60 1h0m5 0h0m9 0h0m14 0h0m1 0h0m3 0h0m3 0h0m8 0h0m2 0h0m21 0h0m-92 1h0m49 0h0m1 0h0m6 0h0m1 0h0m2 0h0m1 0h0m3 0h0m7 0h0m4 0h0m10 0h0m3 0h0m1 0h0m2 0h0m1 0h0m-48 1h0m6 0h0m4 0h0m13 0h0m11 0h0m13 0h0m4 0h0m1 0h0m2 0h0m1 0h0m-137 1h0m3 0h0m1 0h0m3 0h0m3 0h0m45 0h0m11 0h0m6 0h0m21 0h0m1 0h0m6 0h0m7 0h0m7 0h0m1 0h0m3 0h0m6 0h0m1 0h0m3 0h0m3 0h0m1 0h0m-78 1h0m10 0h0m18 0h0m6 0h0m1 0h0m1 0h0m2 0h0m10 0h0m1 0h0m3 0h0m7 0h0m2 0h0m2 0h0m4 0h0m2 0h0m5 0h0m3 0h0m3 0h0m-45 1h0m2 0h0m1 0h0m13 0h0m14 0h0m4 0h0m3 0h0m1 0h0m2 0h0m8 0h0m4 0h0m-44 1h0m3 0h0m4 0h0m6 0h0m11 0h0m10 0h0m-34 1h0m3 0h0m14 0h0m8 0h0m2 0h0m-57 1h0m39 0h0m20 0h0m1 0h0m2 0h0m4 0h0m7 0h0m1 0h0m3 0h0m-67 1h0m22 0h0m2 0h0m1 0h0m10 0h0m1 0h0m9 0h0m8 0h0m7 0h0m3 0h0m4 0h0m6 0h0m1 0h0m-96 1h0m1 0h0m44 0h0m1 0h0m9 0h0m5 0h0m17 0h0m3 0h0m7 0h0m10 0h0m-140 1h0m3 0h0m1 0h0m69 0h0m4 0h0m1 0h0m8 0h0m1 0h0m14 0h0m4 0h0m3 0h0m1 0h0m25 0h0m2 0h0m5 0h0m-44 1h0m3 0h0m8 0h0m6 0h0m4 0h0m6 0h0m-98 1h0m3 0h0m1 0h0m38 0h0m24 0h0m6 0h0m1 0h0m20 0h0m19 0h0m2 0h0m1 0h0m3 0h0m-86 1h0m2 0h0m32 0h0m3 0h0m1 0h0m6 0h0m1 0h0m2 0h0m11 0h0m11 0h0m3 0h0m4 0h0m7 0h0m7 0h0m-68 1h0m7 0h0m6 0h0m1 0h0m6 0h0m1 0h0m6 0h0m1 0h0m3 0h0m3 0h0m1 0h0m2 0h0m8 0h0m4 0h0m2 0h0m8 0h0m3 0h0m3 0h0m-80 1h0m43 0h0m2 0h0m4 0h0m7 0h0m8 0h0m2 0h0m4 0h0m7 0h0m3 0h0m4 0h0m3 0h0m-50 1h0m1 0h0m31 0h0m3 0h0m6 0h0m1 0h0m10 0h0m1 0h0m-71 1h0m6 0h0m7 0h0m7 0h0m1 0h0m2 0h0m1 0h0m21 0h0m7 0h0m3 0h0m8 0h0m3 0h0m1 0h0m4 0h0m2 0h0m1 0h0m-54 1h0m10 0h0m1 0h0m2 0h0m5 0h0m34 0h0m3 0h0m-146 1h0m2 0h0m1 0h0m58 0h0m18 0h0m27 0h0m1 0h0m17 0h0m8 0h0m2 0h0m1 0h0m9 0h0m1 0h0m1 0h0m2 0h0m1 0h0m-77 1h0m11 0h0m2 0h0m5 0h0m2 0h0m1 0h0m4 0h0m2 0h0m1 0h0m3 0h0m10 0h0m15 0h0m3 0h0m6 0h0m4 0h0m-40 1h0m1 0h0m2 0h0m1 0h0m10 0h0m1 0h0m16 0h0m4 0h0m3 0h0m1 0h0m6 0h0m-88 1h0m14 0h0m12 0h0m13 0h0m11 0h0m3 0h0m7 0h0m8 0h0m10 0h0m3 0h0m1 0h0m3 0h0m3 0h0m8 0h0m-137 1h0m51 0h0m4 0h0m6 0h0m1 0h0m27 0h0m4 0h0m7 0h0m3 0h0m1 0h0m7 0h0m9 0h0m1 0h0m7 0h0m-46 1h0m17 0h0m3 0h0m4 0h0m32 0h0m4 0h0m-149 1h0m1 0h0m3 0h0m1 0h0m2 0h0m32 0h0m42 0h0m3 0h0m1 0h0m14 0h0m2 0h0m1 0h0m7 0h0m3 0h0m7 0h0m10 0h0m1 0h0m7 0h0m9 0h0m1 0h0m3 0h0m-70 1h0m2 0h0m1 0h0m7 0h0m10 0h0m4 0h0m3 0h0m4 0h0m2 0h0m9 0h0m10 0h0m9 0h0m1 0h0m1 0h0m2 0h0m2 0h0m2 0h0m-84 1h0m18 0h0m6 0h0m15 0h0m3 0h0m3 0h0m1 0h0m2 0h0m1 0h0m4 0h0m13 0h0m1 0h0m2 0h0m1 0h0m3 0h0m11 0h0m6 0h0m-91 1h0m6 0h0m1 0h0m23 0h0m7 0h0m14 0h0m1 0h0m3 0h0m17 0h0m1 0h0m6 0h0m1 0h0m10 0h0m-106 1h0m43 0h0m10 0h0m1 0h0m4 0h0m2 0h0m11 0h0m3 0h0m11 0h0m3 0h0m11 0h0m7 0h0m3 0h0m-82 1h0m18 0h0m4 0h0m6 0h0m1 0h0m13 0h0m1 0h0m3 0h0m3 0h0m8 0h0m6 0h0m3 0h0m15 0h0m2 0h0m1 0h0m-50 1h0m1 0h0m2 0h0m11 0h0m1 0h0m3 0h0m6 0h0m15 0h0m1 0h0m13 0h0m-92 1h0m1 0h0m13 0h0m1 0h0m9 0h0m18 0h0m14 0h0m4 0h0m9 0h0m1 0h0m6 0h0m4 0h0m7 0h0m7 0h0m-85 1h0m28 0h0m7 0h0m8 0h0m2 0h0m1 0h0m3 0h0m3 0h0m1 0h0m7 0h0m13 0h0m1 0h0m7 0h0m2 0h0m-126 1h0m29 0h0m6 0h0m1 0h0m24 0h0m11 0h0m3 0h0m1 0h0m6 0h0m10 0h0m1 0h0m3 0h0m1 0h0m2 0h0m7 0h0m7 0h0m1 0h0m3 0h0m13 0h0m1 0h0m3 0h0m-92 1h0m45 0h0m1 0h0m7 0h0m9 0h0m4 0h0m1 0h0m3 0h0m3 0h0m4 0h0m10 0h0m4 0h0m-70 1h0m10 0h0m7 0h0m11 0h0m4 0h0m6 0h0m1 0h0m6 0h0m14 0h0m3 0h0m-163 1h0m100 0h0m10 0h0m3 0h0m10 0h0m7 0h0m1 0h0m3 0h0m1 0h0m2 0h0m8 0h0m10 0h0m4 0h0m2 0h0m4 0h0m-77 1h0m3 0h0m20 0h0m1 0h0m1 0h0m21 0h0m4 0h0m2 0h0m17 0h0m2 0h0m6 0h0m7 0h0m-113 1h0m63 0h0m10 0h0m14 0h0m4 0h0m4 0h0m2 0h0m4 0h0m7 0h0m4 0h0m-96 1h0m1 0h0m47 0h0m1 0h0m7 0h0m27 0h0m5 0h0m2 0h0m2 0h0m-93 1h0m1 0h0m28 0h0m20 0h0m1 0h0m3 0h0m1 0h0m34 0h0m6 0h0m1 0h0m-58 1h0m1 0h0m6 0h0m1 0h0m10 0h0m17 0h0m1 0h0m2 0h0m7 0h0m14 0h0m1 0h0m-61 1h0m1 0h0m7 0h0m2 0h0m2 0h0m3 0h0m1 0h0m2 0h0m7 0h0m18 0h0m4 0h0m10 0h0m3 0h0m-56 1h0m21 0h0m2 0h0m1 0h0m3 0h0m7 0h0m4 0h0m3 0h0m6 0h0m1 0h0m3 0h0m-60 1h0m25 0h0m2 0h0m2 0h0m2 0h0m29 0h0m-29 1h0m3 0h0m8 0h0m2 0h0m11 0h0m3 0h0m-43 1h0m1 0h0m6 0h0m10 0h0m4 0h0m1 0h0m6 0h0m7 0h0m6 0h0m-45 1h0m21 0h0m1 0h0m3 0h0m14 0h0m6 0h0m1 0h0m-64 1h0m3 0h0m4 0h0m41 0h0m10 0h0m1 0h0m14 0h0m-64 1h0m13 0h0m8 0h0m4 0h0m9 0h0m1 0h0m1 0h0m13 0h0m4 0h0m3 0h0m8 0h0m-30 1h0m3 0h0m1 0h0m13 0h0m10 0h0m1 0h0m-106 1h0m66 0h0m22 0h0m2 0h0m1 0h0m1 0h0m9 0h0m1 0h0m3 0h0m-50 1h0m1 0h0m3 0h0m4 0h0m3 0h0m7 0h0m11 0h0m6 0h0m1 0h0m10 0h0m3 0h0m3 0h0m1 0h0m-64 1h0m31 0h0m17 0h0m13 0h0m1 0h0m-18 1h0m4 0h0m6 0h0m1 0h0m7 0h0m-67 1h0m61 0h0m-32 1h0m25 0h0m8 0h0m7 0h0m-13 1h0m1 0h0m2 0h0m7 0h0m1 0h0m-47 1h0m31 0h0m1 0h0m10 0h0m-17 1h0m7 0h0m9 0h0m-40 1h0m35 0h0m1 0h0m10 0h0m3 0h0m-41 1h0m27 0h0m2 1h0m-40 1h0m1 0h0m37 1h0m1 0h0m2 0h0m-32 1h0m3 0h0m-69 1h0m97 0h0m-29 1h0m34 0h0m1 0h0m2 0h0m1 0h0m-25 1h0m7 0h0m-33 1h0m51 2h0m-2 1h0m1 0h0m2 1h0m-24 3h0m1 0h0m-6 2h0m28 0h0m-27 1h0m1 0h0m17 1h0m-50 5h0m3 0h0m7 0h0m1 0h0m47 0h0m1 0h0m-62 2h0m59 1h0m6 0h0m-17 1h0m2 0h0m7 0h0m1 0h0m-30 2h0m-28 4h0m60 5h0" stroke="#808080" stroke-width="1.05" stroke-linecap="square" fill="none" transform="translate(1 1) scale(2)"/>
<path d="M139 20h0m47 0h0m11 0h0m7 0h0m7 0h0m7 0h0m3 0h0m1 0h0m3 0h0m10 0h0m1 0h0m2 0h0m-49 1h0m22 0h0m2 0h0m1 0h0m3 0h0m1 0h0m2 0h0m4 0h0m8 0h0m2 0h0m2 0h0m2 0h0m1 0h0m-50 1h0m10 0h0m3 0h0m4 0h0m3 0h0m3 0h0m4 0h0m1 0h0m10 0h0m3 0h0m4 0h0m3 0h0m3 0h0m-43 1h0m3 0h0m5 0h0m2 0h0m1 0h0m3 0h0m7 0h0m3 0h0m4 0h0m3 0h0m4 0h0m10 0h0m1 0h0m1 0h0m-113 1h0m14 0h0m25 0h0m13 0h0m21 0h0m1 0h0m2 0h0m18 0h0m6 0h0m1 0h0m3 0h0m1 0h0m2 0h0m1 0h0m3 0h0m1 0h0m2 0h0m1 0h0m-85 1h0m20 0h0m4 0h0m14 0h0m11 0h0m2 0h0m1 0h0m4 0h0m3 0h0m6 0h0m4 0h0m3 0h0m4 0h0m7 0h0m3 0h0m-81 1h0m19 0h0m18 0h0m13 0h0m3 0h0m1 0h0m3 0h0m4 0h0m13 0h0m4 0h0m3 0h0m1 0h0m-113 1h0m13 0h0m14 0h0m1 0h0m3 0h0m14 0h0m4 0h0m2 0h0m5 0h0m6 0h0m1 0h0m3 0h0m4 0h0m10 0h0m6 0h0m1 0h0m6 0h0m4 0h0m3 0h0m1 0h0m3 0h0m3 0h0m1 0h0m2 0h0m1 0h0m3 0h0m3 0h0m-88 1h0m15 0h0m9 0h0m23 0h0m3 0h0m3 0h0m1 0h0m2 0h0m8 0h0m7 0h0m4 0h0m2 0h0m1 0h0m7 0h0m2 0h0m2 0h0m2 0h0m-35 1h0m4 0h0m2 0h0m4 0h0m4 0h0m3 0h0m3 0h0m1 0h0m3 0h0m3 0h0m1 0h0m3 0h0m3 0h0m1 0h0m2 0h0m-98 1h0m1 0h0m2 0h0m22 0h0m20 0h0m17 0h0m11 0h0m10 0h0m4 0h0m3 0h0m1 0h0m7 0h0m2 0h0m-125 1h0m63 0h0m11 0h0m21 0h0m2 0h0m8 0h0m3 0h0m3 0h0m4 0h0m1 0h0m2 0h0m1 0h0m7 0h0m-85 1h0m31 0h0m3 0h0m3 0h0m8 0h0m4 0h0m9 0h0m7 0h0m7 0h0m1 0h0m13 0h0m1 0h0m-67 1h0m3 0h0m3 0h0m5 0h0m13 0h0m5 0h0m6 0h0m7 0h0m3 0h0m7 0h0m1 0h0m3 0h0m3 0h0m1 0h0m3 0h0m-103 1h0m42 0h0m24 0h0m10 0h0m5 0h0m2 0h0m7 0h0m4 0h0m1 0h0m13 0h0m3 0h0m1 0h0m-120 1h0m49 0h0m10 0h0m7 0h0m4 0h0m10 0h0m1 0h0m2 0h0m1 0h0m3 0h0m13 0h0m8 0h0m5 0h0m3 0h0m3 0h0m-53 1h0m7 0h0m3 0h0m1 0h0m2 0h0m4 0h0m4 0h0m3 0h0m3 0h0m4 0h0m4 0h0m10 0h0m3 0h0m1 0h0m2 0h0m4 0h0m3 0h0m-78 1h0m21 0h0m21 0h0m1 0h0m6 0h0m1 0h0m3 0h0m7 0h0m4 0h0m3 0h0m1 0h0m2 0h0m1 0h0m3 0h0m1 0h0m2 0h0m-143 1h0m2 0h0m1 0h0m1 0h0m2 0h0m1 0h0m3 0h0m3 0h0m1 0h0m3 0h0m18 0h0m3 0h0m66 0h0m5 0h0m2 0h0m1 0h0m4 0h0m10 0h0m6 0h0m1 0h0m3 0h0m3 0h0m1 0h0m3 0h0m3 0h0m1 0h0m-95 1h0m17 0h0m20 0h0m11 0h0m6 0h0m1 0h0m3 0h0m3 0h0m7 0h0m11 0h0m4 0h0m3 0h0m6 0h0m4 0h0m-122 1h0m2 0h0m1 0h0m84 0h0m4 0h0m3 0h0m1 0h0m3 0h0m3 0h0m3 0h0m4 0h0m1 0h0m2 0h0m5 0h0m2 0h0m4 0h0m-137 1h0m1 0h0m2 0h0m1 0h0m10 0h0m1 0h0m2 0h0m1 0h0m24 0h0m41 0h0m4 0h0m3 0h0m18 0h0m13 0h0m7 0h0m1 0h0m6 0h0m1 0h0m2 0h0m1 0h0m4 0h0m-99 1h0m11 0h0m23 0h0m1 0h0m34 0h0m4 0h0m4 0h0m1 0h0m2 0h0m4 0h0m4 0h0m3 0h0m7 0h0m3 0h0m-84 1h0m48 0h0m4 0h0m4 0h0m2 0h0m4 0h0m1 0h0m3 0h0m3 0h0m1 0h0m2 0h0m1 0h0m3 0h0m3 0h0m1 0h0m3 0h0m3 0h0m-60 1h0m17 0h0m1 0h0m2 0h0m5 0h0m6 0h0m4 0h0m3 0h0m1 0h0m2 0h0m1 0h0m1 0h0m2 0h0m4 0h0m2 0h0m9 0h0m2 0h0m-94 1h0m38 0h0m1 0h0m18 0h0m2 0h0m7 0h0m1 0h0m3 0h0m3 0h0m7 0h0m4 0h0m3 0h0m3 0h0m1 0h0m3 0h0m-133 1h0m3 0h0m25 0h0m41 0h0m1 0h0m2 0h0m22 0h0m3 0h0m10 0h0m1 0h0m10 0h0m3 0h0m3 0h0m8 0h0m3 0h0m-81 1h0m17 0h0m1 0h0m3 0h0m12 0h0m6 0h0m3 0h0m7 0h0m5 0h0m3 0h0m3 0h0m4 0h0m6 0h0m1 0h0m7 0h0m7 0h0m-163 1h0m1 0h0m1 0h0m2 0h0m1 0h0m3 0h0m93 0h0m5 0h0m9 0h0m1 0h0m4 0h0m2 0h0m1 0h0m3 0h0m10 0h0m1 0h0m9 0h0m4 0h0m1 0h0m6 0h0m1 0h0m2 0h0m1 0h0m-92 1h0m32 0h0m2 0h0m1 0h0m7 0h0m3 0h0m10 0h0m4 0h0m4 0h0m4 0h0m11 0h0m3 0h0m14 0h0m-54 1h0m4 0h0m7 0h0m10 0h0m7 0h0m1 0h0m6 0h0m3 0h0m1 0h0m6 0h0m4 0h0m3 0h0m1 0h0m7 0h0m-89 1h0m7 0h0m17 0h0m18 0h0m3 0h0m4 0h0m3 0h0m1 0h0m2 0h0m1 0h0m3 0h0m4 0h0m2 0h0m2 0h0m2 0h0m1 0h0m2 0h0m1 0h0m5 0h0m6 0h0m-101 1h0m37 0h0m1 0h0m17 0h0m7 0h0m3 0h0m1 0h0m10 0h0m3 0h0m3 0h0m4 0h0m3 0h0m4 0h0m4 0h0m4 0h0m2 0h0m1 0h0m3 0h0m3 0h0m-154 1h0m1 0h0m82 0h0m4 0h0m10 0h0m17 0h0m1 0h0m7 0h0m3 0h0m4 0h0m3 0h0m14 0h0m4 0h0m3 0h0m3 0h0m-112 1h0m33 0h0m23 0h0m4 0h0m3 0h0m1 0h0m3 0h0m4 0h0m2 0h0m1 0h0m7 0h0m10 0h0m1 0h0m14 0h0m2 0h0m1 0h0m3 0h0m-98 1h0m17 0h0m27 0h0m14 0h0m7 0h0m1 0h0m3 0h0m3 0h0m3 0h0m1 0h0m3 0h0m1 0h0m6 0h0m1 0h0m2 0h0m4 0h0m3 0h0m1 0h0m3 0h0m-89 1h0m29 0h0m10 0h0m19 0h0m2 0h0m11 0h0m4 0h0m3 0h0m1 0h0m2 0h0m4 0h0m7 0h0m-144 1h0m1 0h0m2 0h0m29 0h0m27 0h0m1 0h0m7 0h0m21 0h0m2 0h0m14 0h0m7 0h0m7 0h0m1 0h0m10 0h0m3 0h0m3 0h0m1 0h0m3 0h0m1 0h0m7 0h0m-50 1h0m13 0h0m3 0h0m1 0h0m3 0h0m3 0h0m2 0h0m5 0h0m3 0h0m1 0h0m3 0h0m1 0h0m14 0h0m-67 1h0m3 0h0m14 0h0m24 0h0m1 0h0m13 0h0m1 0h0m3 0h0m3 0h0m4 0h0m-81 1h0m3 0h0m14 0h0m10 0h0m1 0h0m9 0h0m4 0h0m7 0h0m3 0h0m1 0h0m6 0h0m1 0h0m9 0h0m7 0h0m1 0h0m3 0h0m1 0h0m2 0h0m4 0h0m-119 1h0m60 0h0m14 0h0m3 0h0m8 0h0m2 0h0m14 0h0m1 0h0m3 0h0m1 0h0m2 0h0m4 0h0m1 0h0m2 0h0m-87 1h0m20 0h0m21 0h0m4 0h0m2 0h0m7 0h0m4 0h0m4 0h0m3 0h0m11 0h0m3 0h0m4 0h0m3 0h0m3 0h0m-88 1h0m18 0h0m46 0h0m4 0h0m2 0h0m4 0h0m13 0h0m1 0h0m1 0h0m2 0h0m-87 1h0m3 0h0m10 0h0m10 0h0m7 0h0m5 0h0m3 0h0m10 0h0m3 0h0m7 0h0m1 0h0m6 0h0m1 0h0m7 0h0m3 0h0m4 0h0m2 0h0m1 0h0m6 0h0m1 0h0m-119 1h0m38 0h0m6 0h0m4 0h0m6 0h0m1 0h0m13 0h0m3 0h0m21 0h0m15 0h0m7 0h0m3 0h0m4 0h0m1 0h0m2 0h0m-74 1h0m1 0h0m11 0h0m9 0h0m1 0h0m3 0h0m4 0h0m3 0h0m1 0h0m2 0h0m1 0h0m14 0h0m3 0h0m10 0h0m1 0h0m3 0h0m3 0h0m1 0h0m-78 1h0m3 0h0m17 0h0m4 0h0m6 0h0m4 0h0m7 0h0m11 0h0m9 0h0m5 0h0m2 0h0m4 0h0m3 0h0m1 0h0m6 0h0m-133 1h0m46 0h0m7 0h0m3 0h0m22 0h0m7 0h0m14 0h0m6 0h0m5 0h0m2 0h0m1 0h0m4 0h0m2 0h0m1 0h0m7 0h0m3 0h0m3 0h0m1 0h0m-95 1h0m27 0h0m10 0h0m1 0h0m7 0h0m23 0h0m4 0h0m4 0h0m10 0h0m4 0h0m2 0h0m1 0h0m3 0h0m-164 1h0m87 0h0m31 0h0m21 0h0m4 0h0m10 0h0m7 0h0m1 0h0m-75 1h0m1 0h0m31 0h0m7 0h0m3 0h0m11 0h0m2 0h0m14 0h0m7 0h0m-115 1h0m41 0h0m10 0h0m8 0h0m2 0h0m8 0h0m3 0h0m8 0h0m3 0h0m6 0h0m1 0h0m3 0h0m3 0h0m1 0h0m3 0h0m4 0h0m2 0h0m1 0h0m7 0h0m-80 1h0m6 0h0m21 0h0m8 0h0m6 0h0m1 0h0m13 0h0m4 0h0m7 0h0m3 0h0m1 0h0m2 0h0m4 0h0m1 0h0m6 0h0m-64 1h0m7 0h0m14 0h0m7 0h0m7 0h0m6 0h0m1 0h0m4 0h0m3 0h0m6 0h0m1 0h0m3 0h0m-56 1h0m13 0h0m8 0h0m15 0h0m2 0h0m14 0h0m1 0h0m-81 1h0m7 0h0m10 0h0m6 0h0m25 0h0m17 0h0m7 0h0m4 0h0m7 0h0m2 0h0m1 0h0m-47 1h0m11 0h0m3 0h0m11 0h0m6 0h0m19 0h0m-50 1h0m10 0h0m1 0h0m7 0h0m3 0h0m10 0h0m14 0h0m3 0h0m1 0h0m-54 1h0m13 0h0m28 0h0m1 0h0m6 0h0m1 0h0m6 0h0m-73 1h0m7 0h0m11 0h0m10 0h0m18 0h0m6 0h0m1 0h0m7 0h0m6 0h0m7 0h0m-60 1h0m20 0h0m14 0h0m1 0h0m3 0h0m3 0h0m7 0h0m7 0h0m3 0h0m-62 1h0m13 0h0m1 0h0m17 0h0m2 0h0m5 0h0m1 0h0m2 0h0m1 0h0m4 0h0m3 0h0m6 0h0m4 0h0m3 0h0m-33 1h0m1 0h0m14 0h0m13 0h0m3 0h0m4 0h0m-46 1h0m23 0h0m8 0h0m7 0h0m1 0h0m5 0h0m-111 1h0m56 0h0m31 0h0m14 0h0m3 0h0m4 0h0m-40 1h0m4 0h0m3 0h0m10 0h0m14 0h0m14 0h0m-60 1h0m22 0h0m1 0h0m13 0h0m3 0h0m14 0h0m1 0h0m2 0h0m-29 1h0m14 0h0m1 0h0m6 0h0m-52 1h0m20 0h0m24 0h0m8 0h0m-43 1h0m4 0h0m2 0h0m7 0h0m4 0h0m17 0h0m15 0h0m-64 1h0m10 0h0m48 0h0m1 0h0m7 0h0m-42 1h0m45 0h0m-44 1h0m25 0h0m6 0h0m1 0h0m9 0h0m4 0h0m-59 1h0m49 0h0m4 0h0m-23 1h0m11 0h0m3 0h0m6 0h0m-39 1h0m34 0h0m2 0h0m4 0h0m2 0h0m-28 1h0m-6 1h0m20 2h0m6 0h0m3 0h0m-66 1h0m61 1h0m8 0h0m-16 1h0m8 0h0m14 0h0m-49 1h0m14 0h0m12 1h0m6 0h0m11 0h0m-22 1h0m3 1h0m17 0h0m-22 1h0m29 0h0m-5 1h0m-78 1h0m3 0h0m45 0h0m1 0h0m-13 2h0m-9 2h0m44 1h0m9 2h0m4 2h0m-9 2h0m-27 1h0m29 1h0m1 0h0m6 0h0m-58 3h0m-22 1h0m-11 8h0" stroke="#bfbf00" stroke-width="1.05" stroke-linecap="square" fill="none" transform="translate(1 1) scale(2)"/>
<path d="M172 20h0m20 0h0m24 0h0m1 0h0m13 0h0m3 0h0m1 0h0m-49 1h0m17 0h0m3 0h0m18 0h0m3 0h0m3 0h0m4 0h0m-56 1h0m21 0h0m9 0h0m1 0h0m17 0h0m4 0h0m2 0h0m11 0h0m-63 1h0m35 0h0m2 0h0m21 0h0m2 0h0m2 0h0m-60 1h0m1 0h0m13 0h0m14 0h0m7 0h0m1 0h0m2 0h0m1 0h0m3 0h0m3 0h0m4 0h0m3 0h0m11 0h0m-51 1h0m15 0h0m7 0h0m7 0h0m10 0h0m13 0h0m-49 1h0m1 0h0m10 0h0m7 0h0m3 0h0m1 0h0m3 0h0m7 0h0m8 0h0m3 0h0m6 0h0m5 0h0m-76 1h0m15 0h0m3 0h0m17 0h0m8 0h0m2 0h0m22 0h0m7 0h0m-89 1h0m64 0h0m4 0h0m10 0h0m10 0h0m1 0h0m-117 1h0m1 0h0m2 0h0m1 0h0m56 0h0m14 0h0m10 0h0m3 0h0m20 0h0m5 0h0m7 0h0m3 0h0m3 0h0m-81 1h0m10 0h0m31 0h0m1 0h0m10 0h0m4 0h0m20 0h0m1 0h0m-109 1h0m38 0h0m31 0h0m7 0h0m4 0h0m11 0h0m20 0h0m1 0h0m-114 1h0m70 0h0m3 0h0m4 0h0m4 0h0m3 0h0m3 0h0m1 0h0m2 0h0m5 0h0m9 0h0m7 0h0m1 0h0m3 0h0m3 0h0m4 0h0m-113 1h0m89 0h0m4 0h0m6 0h0m1 0h0m6 0h0m4 0h0m-131 1h0m1 0h0m3 0h0m1 0h0m2 0h0m1 0h0m66 0h0m6 0h0m8 0h0m2 0h0m1 0h0m20 0h0m8 0h0m7 0h0m-113 1h0m70 0h0m7 0h0m2 0h0m11 0h0m1 0h0m3 0h0m4 0h0m18 0h0m3 0h0m8 0h0m-51 1h0m27 0h0m8 0h0m3 0h0m3 0h0m1 0h0m6 0h0m-54 1h0m5 0h0m9 0h0m1 0h0m10 0h0m18 0h0m7 0h0m7 0h0m3 0h0m-62 1h0m2 0h0m25 0h0m7 0h0m3 0h0m1 0h0m3 0h0m3 0h0m3 0h0m7 0h0m-77 1h0m48 0h0m1 0h0m10 0h0m7 0h0m3 0h0m4 0h0m13 0h0m-66 1h0m10 0h0m11 0h0m10 0h0m1 0h0m16 0h0m5 0h0m3 0h0m7 0h0m4 0h0m3 0h0m-53 1h0m2 0h0m1 0h0m28 0h0m2 0h0m5 0h0m2 0h0m1 0h0m3 0h0m1 0h0m2 0h0m-133 1h0m1 0h0m2 0h0m1 0h0m77 0h0m2 0h0m4 0h0m17 0h0m2 0h0m17 0h0m2 0h0m1 0h0m14 0h0m1 0h0m3 0h0m-84 1h0m40 0h0m1 0h0m13 0h0m7 0h0m7 0h0m10 0h0m8 0h0m-117 1h0m1 0h0m59 0h0m13 0h0m1 0h0m10 0h0m10 0h0m8 0h0m2 0h0m8 0h0m3 0h0m-91 1h0m28 0h0m1 0h0m14 0h0m6 0h0m1 0h0m10 0h0m21 0h0m6 0h0m4 0h0m4 0h0m3 0h0m-92 1h0m38 0h0m1 0h0m3 0h0m7 0h0m3 0h0m1 0h0m2 0h0m1 0h0m6 0h0m7 0h0m7 0h0m1 0h0m3 0h0m3 0h0m8 0h0m-78 1h0m11 0h0m14 0h0m14 0h0m2 0h0m4 0h0m1 0h0m3 0h0m7 0h0m4 0h0m6 0h0m-29 1h0m14 0h0m1 0h0m3 0h0m3 0h0m3 0h0m7 0h0m15 0h0m-64 1h0m13 0h0m1 0h0m3 0h0m22 0h0m14 0h0m2 0h0m1 0h0m7 0h0m4 0h0m-57 1h0m3 0h0m1 0h0m2 0h0m1 0h0m3 0h0m7 0h0m11 0h0m6 0h0m1 0h0m3 0h0m10 0h0m8 0h0m-141 1h0m3 0h0m1 0h0m82 0h0m4 0h0m3 0h0m10 0h0m1 0h0m14 0h0m7 0h0m11 0h0m3 0h0m1 0h0m2 0h0m-72 1h0m13 0h0m4 0h0m3 0h0m3 0h0m4 0h0m3 0h0m1 0h0m14 0h0m6 0h0m7 0h0m4 0h0m3 0h0m4 0h0m10 0h0m-88 1h0m38 0h0m3 0h0m3 0h0m1 0h0m10 0h0m4 0h0m13 0h0m4 0h0m3 0h0m7 0h0m1 0h0m2 0h0m1 0h0m-81 1h0m14 0h0m1 0h0m3 0h0m7 0h0m2 0h0m1 0h0m8 0h0m2 0h0m1 0h0m10 0h0m3 0h0m5 0h0m2 0h0m5 0h0m6 0h0m7 0h0m4 0h0m3 0h0m-88 1h0m4 0h0m2 0h0m4 0h0m3 0h0m29 0h0m6 0h0m1 0h0m2 0h0m1 0h0m13 0h0m8 0h0m3 0h0m4 0h0m3 0h0m3 0h0m4 0h0m-57 1h0m17 0h0m1 0h0m14 0h0m4 0h0m3 0h0m3 0h0m14 0h0m-144 1h0m1 0h0m3 0h0m74 0h0m2 0h0m1 0h0m3 0h0m4 0h0m3 0h0m10 0h0m1 0h0m6 0h0m1 0h0m2 0h0m1 0h0m4 0h0m7 0h0m16 0h0m-80 1h0m13 0h0m7 0h0m10 0h0m1 0h0m16 0h0m1 0h0m3 0h0m15 0h0m2 0h0m15 0h0m2 0h0m4 0h0m-86 1h0m24 0h0m17 0h0m1 0h0m2 0h0m1 0h0m17 0h0m10 0h0m1 0h0m3 0h0m4 0h0m2 0h0m-74 1h0m28 0h0m10 0h0m3 0h0m1 0h0m3 0h0m1 0h0m9 0h0m4 0h0m1 0h0m2 0h0m1 0h0m3 0h0m7 0h0m3 0h0m7 0h0m-65 1h0m2 0h0m4 0h0m7 0h0m6 0h0m1 0h0m1 0h0m6 0h0m1 0h0m2 0h0m1 0h0m3 0h0m3 0h0m7 0h0m1 0h0m3 0h0m14 0h0m-78 1h0m24 0h0m7 0h0m1 0h0m9 0h0m1 0h0m6 0h0m1 0h0m14 0h0m13 0h0m7 0h0m-57 1h0m19 0h0m3 0h0m3 0h0m1 0h0m3 0h0m1 0h0m8 0h0m5 0h0m14 0h0m3 0h0m3 0h0m-91 1h0m11 0h0m3 0h0m1 0h0m6 0h0m4 0h0m13 0h0m1 0h0m2 0h0m1 0h0m4 0h0m7 0h0m2 0h0m14 0h0m8 0h0m3 0h0m3 0h0m1 0h0m7 0h0m2 0h0m-60 1h0m1 0h0m2 0h0m15 0h0m10 0h0m13 0h0m4 0h0m1 0h0m16 0h0m-72 1h0m10 0h0m1 0h0m16 0h0m11 0h0m6 0h0m4 0h0m4 0h0m3 0h0m7 0h0m4 0h0m6 0h0m1 0h0m-92 1h0m11 0h0m6 0h0m25 0h0m2 0h0m1 0h0m3 0h0m3 0h0m7 0h0m8 0h0m6 0h0m10 0h0m7 0h0m1 0h0m-88 1h0m4 0h0m3 0h0m12 0h0m9 0h0m1 0h0m9 0h0m1 0h0m10 0h0m4 0h0m1 0h0m2 0h0m11 0h0m3 0h0m1 0h0m3 0h0m6 0h0m4 0h0m-64 1h0m10 0h0m1 0h0m17 0h0m4 0h0m3 0h0m3 0h0m7 0h0m8 0h0m2 0h0m4 0h0m11 0h0m-72 1h0m5 0h0m35 0h0m2 0h0m2 0h0m3 0h0m4 0h0m3 0h0m7 0h0m2 0h0m4 0h0m-42 1h0m6 0h0m1 0h0m6 0h0m7 0h0m1 0h0m3 0h0m14 0h0m6 0h0m1 0h0m-75 1h0m1 0h0m30 0h0m7 0h0m15 0h0m3 0h0m4 0h0m16 0h0m2 0h0m-99 1h0m31 0h0m1 0h0m17 0h0m4 0h0m17 0h0m7 0h0m6 0h0m8 0h0m7 0h0m-81 1h0m23 0h0m7 0h0m1 0h0m2 0h0m5 0h0m2 0h0m1 0h0m17 0h0m20 0h0m1 0h0m-57 1h0m1 0h0m3 0h0m3 0h0m2 0h0m6 0h0m7 0h0m6 0h0m11 0h0m11 0h0m7 0h0m3 0h0m-36 1h0m3 0h0m1 0h0m2 0h0m4 0h0m1 0h0m6 0h0m3 0h0m1 0h0m-51 1h0m14 0h0m1 0h0m4 0h0m6 0h0m4 0h0m2 0h0m12 0h0m9 0h0m2 0h0m7 0h0m-30 1h0m1 0h0m10 0h0m7 0h0m3 0h0m3 0h0m5 0h0m6 0h0m-50 1h0m3 0h0m1 0h0m17 0h0m4 0h0m2 0h0m1 0h0m4 0h0m2 0h0m1 0h0m13 0h0m-65 1h0m31 0h0m3 0h0m3 0h0m1 0h0m10 0h0m10 0h0m8 0h0m-72 1h0m1 0h0m6 0h0m25 0h0m14 0h0m13 0h0m1 0h0m7 0h0m3 0h0m3 0h0m-61 1h0m8 0h0m21 0h0m15 0h0m3 0h0m1 0h0m2 0h0m1 0h0m7 0h0m-30 1h0m4 0h0m11 0h0m13 0h0m3 0h0m-78 1h0m43 0h0m15 0h0m2 0h0m11 0h0m-158 1h0m115 0h0m3 0h0m4 0h0m1 0h0m2 0h0m5 0h0m2 0h0m15 0h0m3 0h0m11 0h0m2 0h0m4 0h0m-64 1h0m1 0h0m40 0h0m7 0h0m1 0h0m10 0h0m3 0h0m-23 1h0m2 0h0m1 0h0m18 1h0m4 0h0m-55 1h0m15 0h0m23 0h0m2 0h0m1 0h0m14 0h0m-16 1h0m1 0h0m3 0h0m10 0h0m-47 1h0m1 0h0m31 0h0m1 0h0m6 1h0m10 0h0m-16 1h0m1 0h0m14 0h0m-39 1h0m1 0h0m20 0h0m4 0h0m7 0h0m-3 1h0m-18 1h0m14 0h0m-14 1h0m17 0h0m3 0h0m-33 1h0m1 0h0m10 0h0m1 0h0m21 0h0m-51 1h0m55 1h0m-25 1h0m1 0h0m-26 1h0m33 2h0m-2 1h0m18 0h0m-18 4h0m-9 2h0m1 0h0m27 0h0m-26 1h0m3 0h0m15 1h0m2 0h0m4 0h0m-2 1h0m-52 4h0m1 0h0m7 0h0m3 0h0m28 0h0m17 0h0m4 3h0m-17 1h0m2 0h0m10 0h0m-21 1h0m20 10h0m1 0h0m2 0h0" stroke="#808080" stroke-width="1.05" stroke-linecap="square" fill="none" transform="translate(1 1) scale(2)"/>
<path d="M157 20h0m4 0h0m27 0h0m1 0h0m6 0h0m7 0h0m1 0h0m3 0h0m4 0h0m2 0h0m7 0h0m1 0h0m3 0h0m3 0h0m1 0h0m10 0h0m-64 1h0m25 0h0m10 0h0m7 0h0m4 0h0m8 0h0m10 0h0m3 0h0m-67 1h0m3 0h0m29 0h0m6 0h0m3 0h0m8 0h0m6 0h0m4 0h0m3 0h0m1 0h0m3 0h0m-81 1h0m7 0h0m17 0h0m10 0h0m7 0h0m11 0h0m3 0h0m7 0h0m3 0h0m1 0h0m2 0h0m4 0h0m3 0h0m1 0h0m1 0h0m-88 1h0m20 0h0m39 0h0m4 0h0m14 0h0m3 0h0m7 0h0m3 0h0m3 0h0m-115 1h0m3 0h0m73 0h0m3 0h0m3 0h0m4 0h0m10 0h0m7 0h0m1 0h0m2 0h0m5 0h0m2 0h0m1 0h0m3 0h0m1 0h0m3 0h0m-95 1h0m39 0h0m2 0h0m23 0h0m7 0h0m7 0h0m2 0h0m4 0h0m3 0h0m4 0h0m1 0h0m3 0h0m3 0h0m-106 1h0m21 0h0m1 0h0m16 0h0m7 0h0m8 0h0m3 0h0m20 0h0m1 0h0m4 0h0m2 0h0m4 0h0m7 0h0m3 0h0m4 0h0m7 0h0m-49 1h0m6 0h0m11 0h0m2 0h0m4 0h0m4 0h0m4 0h0m3 0h0m4 0h0m4 0h0m2 0h0m4 0h0m4 0h0m-78 1h0m11 0h0m13 0h0m1 0h0m7 0h0m10 0h0m11 0h0m3 0h0m3 0h0m1 0h0m3 0h0m7 0h0m3 0h0m3 0h0m-94 1h0m3 0h0m4 0h0m31 0h0m6 0h0m10 0h0m8 0h0m13 0h0m1 0h0m1 0h0m2 0h0m8 0h0m2 0h0m1 0h0m6 0h0m1 0h0m1 0h0m2 0h0m-63 1h0m10 0h0m5 0h0m3 0h0m3 0h0m4 0h0m7 0h0m10 0h0m3 0h0m1 0h0m3 0h0m3 0h0m1 0h0m9 0h0m1 0h0m3 0h0m-85 1h0m21 0h0m1 0h0m3 0h0m20 0h0m8 0h0m6 0h0m3 0h0m1 0h0m4 0h0m7 0h0m10 0h0m-47 1h0m4 0h0m11 0h0m3 0h0m3 0h0m1 0h0m1 0h0m2 0h0m7 0h0m8 0h0m6 0h0m4 0h0m-136 1h0m58 0h0m25 0h0m2 0h0m12 0h0m6 0h0m3 0h0m4 0h0m7 0h0m7 0h0m7 0h0m3 0h0m3 0h0m1 0h0m-57 1h0m7 0h0m10 0h0m4 0h0m13 0h0m2 0h0m2 0h0m2 0h0m2 0h0m4 0h0m3 0h0m7 0h0m1 0h0m2 0h0m1 0h0m-81 1h0m14 0h0m4 0h0m9 0h0m7 0h0m1 0h0m3 0h0m4 0h0m3 0h0m6 0h0m5 0h0m3 0h0m3 0h0m1 0h0m2 0h0m11 0h0m4 0h0m3 0h0m-75 1h0m24 0h0m1 0h0m3 0h0m3 0h0m21 0h0m1 0h0m3 0h0m1 0h0m6 0h0m7 0h0m1 0h0m5 0h0m2 0h0m-145 1h0m4 0h0m3 0h0m1 0h0m2 0h0m1 0h0m3 0h0m1 0h0m20 0h0m1 0h0m7 0h0m28 0h0m31 0h0m4 0h0m6 0h0m1 0h0m14 0h0m6 0h0m1 0h0m3 0h0m3 0h0m1 0h0m2 0h0m1 0h0m3 0h0m-120 1h0m38 0h0m25 0h0m10 0h0m3 0h0m1 0h0m3 0h0m3 0h0m1 0h0m3 0h0m1 0h0m2 0h0m5 0h0m2 0h0m11 0h0m3 0h0m1 0h0m3 0h0m4 0h0m3 0h0m-123 1h0m3 0h0m1 0h0m35 0h0m25 0h0m18 0h0m6 0h0m1 0h0m6 0h0m3 0h0m1 0h0m3 0h0m10 0h0m1 0h0m6 0h0m3 0h0m-136 1h0m3 0h0m1 0h0m7 0h0m3 0h0m3 0h0m1 0h0m21 0h0m62 0h0m3 0h0m7 0h0m3 0h0m4 0h0m14 0h0m3 0h0m3 0h0m1 0h0m-56 1h0m5 0h0m8 0h0m7 0h0m10 0h0m1 0h0m3 0h0m8 0h0m2 0h0m1 0h0m1 0h0m2 0h0m4 0h0m-115 1h0m37 0h0m4 0h0m7 0h0m7 0h0m6 0h0m10 0h0m14 0h0m5 0h0m3 0h0m3 0h0m4 0h0m7 0h0m3 0h0m3 0h0m4 0h0m3 0h0m1 0h0m2 0h0m-64 1h0m4 0h0m7 0h0m4 0h0m10 0h0m8 0h0m2 0h0m1 0h0m3 0h0m4 0h0m3 0h0m7 0h0m1 0h0m2 0h0m2 0h0m6 0h0m3 0h0m-84 1h0m31 0h0m1 0h0m3 0h0m7 0h0m7 0h0m3 0h0m4 0h0m3 0h0m1 0h0m2 0h0m1 0h0m3 0h0m1 0h0m2 0h0m4 0h0m4 0h0m6 0h0m-130 1h0m1 0h0m6 0h0m22 0h0m3 0h0m45 0h0m4 0h0m7 0h0m10 0h0m10 0h0m4 0h0m3 0h0m6 0h0m5 0h0m2 0h0m1 0h0m3 0h0m3 0h0m1 0h0m-63 1h0m2 0h0m1 0h0m5 0h0m9 0h0m4 0h0m2 0h0m1 0h0m4 0h0m4 0h0m7 0h0m6 0h0m1 0h0m3 0h0m3 0h0m1 0h0m2 0h0m1 0h0m3 0h0m1 0h0m2 0h0m1 0h0m3 0h0m-161 1h0m3 0h0m1 0h0m65 0h0m7 0h0m10 0h0m11 0h0m11 0h0m7 0h0m6 0h0m1 0h0m17 0h0m10 0h0m3 0h0m1 0h0m3 0h0m3 0h0m4 0h0m-119 1h0m28 0h0m14 0h0m6 0h0m11 0h0m10 0h0m3 0h0m1 0h0m3 0h0m8 0h0m3 0h0m1 0h0m6 0h0m3 0h0m1 0h0m3 0h0m8 0h0m3 0h0m4 0h0m-62 1h0m21 0h0m1 0h0m6 0h0m4 0h0m13 0h0m4 0h0m4 0h0m4 0h0m2 0h0m1 0h0m3 0h0m3 0h0m1 0h0m-109 1h0m23 0h0m7 0h0m7 0h0m1 0h0m7 0h0m3 0h0m11 0h0m7 0h0m7 0h0m11 0h0m13 0h0m6 0h0m8 0h0m-70 1h0m7 0h0m3 0h0m11 0h0m4 0h0m6 0h0m1 0h0m2 0h0m1 0h0m3 0h0m10 0h0m1 0h0m6 0h0m7 0h0m7 0h0m1 0h0m2 0h0m-153 1h0m69 0h0m25 0h0m2 0h0m4 0h0m14 0h0m3 0h0m1 0h0m6 0h0m3 0h0m1 0h0m4 0h0m2 0h0m14 0h0m1 0h0m-120 1h0m38 0h0m10 0h0m5 0h0m3 0h0m9 0h0m2 0h0m6 0h0m1 0h0m4 0h0m3 0h0m7 0h0m4 0h0m7 0h0m3 0h0m4 0h0m3 0h0m3 0h0m1 0h0m4 0h0m2 0h0m1 0h0m6 0h0m-57 1h0m4 0h0m20 0h0m1 0h0m3 0h0m3 0h0m4 0h0m4 0h0m3 0h0m10 0h0m3 0h0m5 0h0m2 0h0m-91 1h0m56 0h0m6 0h0m8 0h0m8 0h0m3 0h0m2 0h0m1 0h0m1 0h0m2 0h0m1 0h0m1 0h0m3 0h0m-145 1h0m1 0h0m3 0h0m73 0h0m4 0h0m13 0h0m8 0h0m13 0h0m3 0h0m1 0h0m3 0h0m3 0h0m1 0h0m3 0h0m1 0h0m2 0h0m1 0h0m3 0h0m4 0h0m3 0h0m3 0h0m1 0h0m-79 1h0m7 0h0m7 0h0m7 0h0m3 0h0m4 0h0m4 0h0m10 0h0m7 0h0m4 0h0m10 0h0m3 0h0m1 0h0m11 0h0m3 0h0m1 0h0m-60 1h0m6 0h0m11 0h0m3 0h0m3 0h0m1 0h0m7 0h0m6 0h0m1 0h0m9 0h0m4 0h0m4 0h0m3 0h0m3 0h0m1 0h0m-96 1h0m14 0h0m8 0h0m16 0h0m1 0h0m10 0h0m34 0h0m1 0h0m10 0h0m4 0h0m-67 1h0m10 0h0m15 0h0m14 0h0m4 0h0m10 0h0m3 0h0m3 0h0m1 0h0m6 0h0m1 0h0m2 0h0m1 0h0m-60 1h0m2 0h0m4 0h0m1 0h0m2 0h0m8 0h0m6 0h0m1 0h0m3 0h0m3 0h0m1 0h0m6 0h0m3 0h0m1 0h0m3 0h0m1 0h0m2 0h0m1 0h0m4 0h0m2 0h0m1 0h0m6 0h0m1 0h0m-86 1h0m5 0h0m41 0h0m11 0h0m4 0h0m4 0h0m6 0h0m1 0h0m4 0h0m2 0h0m6 0h0m2 0h0m-75 1h0m25 0h0m6 0h0m1 0h0m6 0h0m3 0h0m1 0h0m4 0h0m2 0h0m8 0h0m3 0h0m3 0h0m10 0h0m4 0h0m-71 1h0m25 0h0m10 0h0m4 0h0m6 0h0m1 0h0m3 0h0m4 0h0m3 0h0m7 0h0m3 0h0m4 0h0m4 0h0m-109 1h0m10 0h0m28 0h0m4 0h0m14 0h0m3 0h0m1 0h0m7 0h0m3 0h0m3 0h0m7 0h0m1 0h0m3 0h0m4 0h0m7 0h0m2 0h0m1 0h0m6 0h0m4 0h0m-78 1h0m21 0h0m3 0h0m7 0h0m18 0h0m3 0h0m3 0h0m8 0h0m3 0h0m3 0h0m1 0h0m3 0h0m3 0h0m1 0h0m6 0h0m-76 1h0m17 0h0m14 0h0m8 0h0m9 0h0m22 0h0m2 0h0m1 0h0m3 0h0m-92 1h0m17 0h0m11 0h0m14 0h0m18 0h0m3 0h0m6 0h0m1 0h0m3 0h0m4 0h0m6 0h0m1 0h0m6 0h0m-161 1h0m1 0h0m98 0h0m16 0h0m3 0h0m2 0h0m2 0h0m2 0h0m8 0h0m8 0h0m5 0h0m2 0h0m2 0h0m5 0h0m4 0h0m3 0h0m1 0h0m-102 1h0m24 0h0m3 0h0m17 0h0m10 0h0m11 0h0m1 0h0m6 0h0m4 0h0m6 0h0m1 0h0m6 0h0m1 0h0m2 0h0m4 0h0m1 0h0m6 0h0m-92 1h0m17 0h0m12 0h0m17 0h0m3 0h0m10 0h0m1 0h0m3 0h0m10 0h0m7 0h0m11 0h0m-119 1h0m45 0h0m36 0h0m3 0h0m10 0h0m1 0h0m6 0h0m1 0h0m6 0h0m3 0h0m4 0h0m3 0h0m-32 1h0m3 0h0m3 0h0m1 0h0m13 0h0m1 0h0m2 0h0m4 0h0m1 0h0m6 0h0m-97 1h0m52 0h0m10 0h0m1 0h0m17 0h0m3 0h0m1 0h0m2 0h0m5 0h0m2 0h0m-84 1h0m21 0h0m37 0h0m7 0h0m5 0h0m6 0h0m3 0h0m4 0h0m3 0h0m1 0h0m-71 1h0m17 0h0m24 0h0m11 0h0m2 0h0m2 0h0m6 0h0m4 0h0m3 0h0m1 0h0m1 0h0m-51 1h0m14 0h0m4 0h0m21 0h0m9 0h0m-57 1h0m32 0h0m7 0h0m14 0h0m3 0h0m-81 1h0m23 0h0m16 0h0m14 0h0m1 0h0m9 0h0m21 0h0m-57 1h0m4 0h0m11 0h0m7 0h0m16 0h0m1 0h0m6 0h0m3 0h0m1 0h0m6 0h0m-105 1h0m75 0h0m2 0h0m22 0h0m3 0h0m7 0h0m-25 1h0m2 0h0m4 0h0m3 0h0m8 0h0m7 0h0m-92 1h0m67 0h0m2 0h0m14 0h0m4 0h0m-91 1h0m53 0h0m9 0h0m21 0h0m1 0h0m9 0h0m-32 1h0m6 0h0m1 0h0m3 0h0m8 0h0m3 0h0m3 0h0m10 0h0m1 0h0m-60 1h0m7 0h0m4 0h0m10 0h0m1 0h0m3 0h0m17 0h0m11 0h0m-82 1h0m25 0h0m30 0h0m1 0h0m28 0h0m-7 1h0m2 0h0m7 0h0m-46 1h0m24 0h0m3 0h0m1 0h0m21 0h0m-71 1h0m38 0h0m25 0h0m4 0h0m4 0h0m-27 1h0m22 0h0m-20 1h0m18 0h0m-88 1h0m57 0h0m30 0h0m7 0h0m-33 1h0m11 0h0m13 0h0m-35 1h0m29 0h0m13 0h0m-1 1h0m4 0h0m-9 2h0m7 0h0m3 0h0m-19 1h0m-12 1h0m10 1h0m17 0h0m-11 1h0m11 0h0m-21 1h0m-1 3h0m3 0h0m-31 1h0m50 1h0m-81 1h0m1 0h0m44 0h0m1 0h0m18 0h0m19 0h0m-6 1h0m1 1h0m-16 5h0m22 1h0m-20 1h0m18 0h0m-7 4h0m-1 4h0m2 5h0m-83 3h0m1 0h0" stroke="#bfbf00" stroke-width="1.05" stroke-linecap="square" fill="none" transform="translate(1 1) scale(2)"/>
<path d="M254.0 76.8H290.0M259.4 96.2H277.8M277.8 82.8H290.0" stroke="#bfbf00" stroke-width="1.8" fill="none"/>
<path d="M256.0 68.0H277.8M261.0 58.7H274.0M277.8 84.6H290.0" stroke="#808080" stroke-width="1.8" fill="none"/>
<path d="M127.0 58.6h0M147.3 58.6h0M161.6 58.6h0M172.7 58.6h0M181.8 58.6h0M189.5 58.6h0M196.1 42.3h0M207.3 62.5h0M202.0 70.5h0M207.3 70.5h0M212.0 70.5h0M216.3 70.5h0M220.3 70.5h0M224.0 70.5h0M227.5 70.5h0M227.5 83.2h0M230.7 83.2h0M233.7 83.2h0M236.6 83.2h0M239.2 83.2h0M241.8 83.2h0M172.7 82.9h0M147.3 103.6h0M224.0 72.9h0M236.6 78.7h0M239.2 63.4h0M230.7 53.8h0M233.7 46.4h0M250.9 41.5h0M252.9 53.8h0M265.0 51.5h0M263.2 41.5h0M271.6 41.0h0M274.7 46.9h0M278.5 43.8h0M280.8 53.0h0M286.2 43.0h0M293.0 46.0h0" stroke="#bfbf00" stroke-width="1.8" stroke-linecap="square" fill="none"/>
<path d="M181.8 42.7h0M189.5 42.7h0M127.0 52.2h0M147.3 52.2h0M161.6 52.2h0M172.7 52.2h0M181.8 52.2h0M189.5 52.2h0M196.1 52.2h0M202.0 52.2h0M207.3 52.2h0M212.0 52.2h0M216.3 52.2h0M220.3 52.2h0M224.0 52.2h0M227.5 52.2h0M230.7 52.2h0M233.7 52.2h0M236.6 52.2h0M239.2 52.2h0M241.8 52.2h0M212.0 47.8h0M216.3 47.8h0M220.3 47.8h0M224.0 47.8h0M227.5 47.8h0M230.7 47.8h0M233.7 47.8h0M236.6 47.8h0M239.2 47.8h0M241.8 47.8h0M244.2 47.8h0M216.3 42.3h0M220.3 40.3h0M246.6 49.2h0M248.6 79.8h0M258.2 64.5h0M287.0 62.5h0" stroke="#808080" stroke-width="1.8" stroke-linecap="square" fill="none"/>
<path d="M456.1 332.7 456.1 335.9 459.9 335.9 460.1 337.9 463.9 337.9 464.1 339.9 467.9 339.9 468.1 341.9 471.9 341.9 472.1 343.9 475.9 343.9 476.1 345.9 481.9 345.9 482.1 347.9 485.9 347.9 486.1 349.9 489.9 349.9 490.1 351.9 495.9 351.9 496.1 353.9 499.9 353.9 500.1 355.9 503.9 355.9 504.1 357.9 509.9 357.9 510.1 359.9 513.9 359.9 514.1 361.9 517.9 361.9 518.1 363.9 523.9 363.9 524.1 365.9 527.9 365.9 528.1 367.9 531.9 367.9 532.1 369.9 537.9 369.9 538.1 371.9 541.9 371.9 542.1 373.9 545.9 373.9 546.1 375.9 551.9 375.9 552.1 377.9 555.9 377.9 556.1 379.9 559.9 379.9 560.1 381.9 565.9 381.9 566.1 383.9 569.9 383.9 570.1 385.9 573.9 385.9 574.1 387.9 577.9 387.9 578.1 389.9 583.9 389.9 584.1 391.9 587.9 391.9 588.1 393.9 591.9 393.9 592.1 395.9 597.9 395.9 598.1 397.9 601.9 397.9 602.1 399.9 605.9 399.9 606.1 401.9 609.9 401.9 610.1 403.9 615.9 403.9 616.1 405.9 619.9 405.9 620.1 407.9 623.9 407.9 624.1 409.9 629.9 409.9 630.1 411.9 633.9 411.9 634.1 413.9 637.9 413.9 638.1 415.9 641.9 415.9 642.1 417.9 647.9 417.9 648.1 419.9 651.9 419.9 652.1 421.9 655.9 421.9 656.1 423.9 659.9 423.9 660.1 425.9 663.9 425.9 664.1 427.9 665.9 427.9 666.0 332.7Z" fill="url(#pat1)"/>
<path d="M656.2 489H665.5M649.7 483H655.4M502.0 381H524.9M649.5 497H658.4M542.5 421H548.3M598.0 465H600.3M483.9 403H490.1M534.0 407H542.3M342.2 405H346.9M348.6 375H357.4M367.9 395H380.2M401.2 443H413.4M373.1 377H381.9M357.4 357H366.1M399.4 391H406.4M422.2 413H429.2" stroke="#808080" stroke-width="1.8" fill="none"/>
<path d="M659.4 473H662.5M527.1 451H539.3" stroke="#bf00bf" stroke-width="1.8" fill="none"/>
<path d="M569.7 439H573.8M506.5 385H516.3M639.7 503H641.8M542.6 437H551.0M528.3 441H536.5M471.8 411H483.8M487.1 391H503.2M594.4 447H596.9M481.5 401H503.2M652.9 515H658.8M592.1 473H600.6M655.4 475H658.0M656.9 467H659.7M634.5 473H638.4M527.2 435H529.3M345.0 365H359.0M342.2 383H348.6M342.2 385H345.1M342.2 349H346.9M373.1 393H381.9M404.7 425H415.2M387.2 377H394.2M353.9 365H364.4M360.9 463H369.6M415.2 455H424.0M429.2 401H438.0M436.2 419H443.2M436.2 429H442.5M473.0 425H480.0" stroke="#bfbf00" stroke-width="1.8" fill="none"/>
<path d="M179 167h0m20 0h0m25 0h0m3 0h0m-84 1h0m59 0h0m14 0h0m4 0h0m3 0h0m3 0h0m-70 1h0m21 0h0m6 0h0m3 0h0m4 0h0m1 0h0m14 0h0m13 0h0m3 0h0m10 0h0m-52 1h0m9 0h0m24 0h0m8 0h0m-45 1h0m14 0h0m35 0h0m9 0h0m-80 1h0m17 0h0m24 0h0m3 0h0m1 0h0m17 0h0m17 0h0m-67 1h0m31 0h0m11 0h0m18 0h0m10 0h0m3 0h0m-57 1h0m8 0h0m24 0h0m11 0h0m2 0h0m1 0h0m7 0h0m-72 1h0m46 0h0m19 0h0m10 0h0m-78 1h0m32 0h0m14 0h0m9 0h0m1 0h0m13 0h0m8 0h0m6 0h0m1 0h0m2 0h0m1 0h0m-110 1h0m53 0h0m28 0h0m10 0h0m8 0h0m2 0h0m10 0h0m1 0h0m1 0h0m-32 1h0m2 0h0m18 0h0m3 0h0m7 0h0m-109 1h0m59 0h0m25 0h0m6 0h0m8 0h0m6 0h0m4 0h0m4 0h0m3 0h0m-45 1h0m6 0h0m3 0h0m1 0h0m13 0h0m7 0h0m7 0h0m-60 1h0m3 0h0m28 0h0m11 0h0m20 0h0m4 0h0m-39 1h0m7 0h0m4 0h0m24 0h0m3 0h0m8 0h0m-65 1h0m22 0h0m3 0h0m3 0h0m1 0h0m6 0h0m1 0h0m13 0h0m1 0h0m6 0h0m-99 1h0m1 0h0m48 0h0m14 0h0m4 0h0m3 0h0m13 0h0m1 0h0m1 0h0m6 0h0m19 0h0m2 0h0m-39 1h0m1 0h0m2 0h0m11 0h0m4 0h0m6 0h0m14 0h0m3 0h0m1 0h0m3 0h0m-74 1h0m4 0h0m20 0h0m32 0h0m2 0h0m8 0h0m4 0h0m2 0h0m-87 1h0m53 0h0m3 0h0m10 0h0m7 0h0m4 0h0m4 0h0m10 0h0m-140 1h0m55 0h0m32 0h0m2 0h0m32 0h0m24 0h0m-81 1h0m10 0h0m19 0h0m2 0h0m40 0h0m3 0h0m7 0h0m-75 1h0m18 0h0m14 0h0m3 0h0m11 0h0m6 0h0m11 0h0m-44 1h0m1 0h0m13 0h0m8 0h0m6 0h0m8 0h0m7 0h0m10 0h0m1 0h0m2 0h0m1 0h0m1 0h0m4 0h0m-78 1h0m20 0h0m4 0h0m3 0h0m11 0h0m14 0h0m2 0h0m7 0h0m5 0h0m9 0h0m1 0h0m3 0h0m-51 1h0m1 0h0m4 0h0m2 0h0m4 0h0m1 0h0m2 0h0m1 0h0m4 0h0m10 0h0m7 0h0m7 0h0m7 0h0m-112 1h0m84 0h0m3 0h0m11 0h0m9 0h0m5 0h0m2 0h0m-87 1h0m23 0h0m1 0h0m10 0h0m21 0h0m4 0h0m6 0h0m25 0h0m-85 1h0m39 0h0m2 0h0m19 0h0m6 0h0m18 0h0m4 0h0m-78 1h0m10 0h0m1 0h0m27 0h0m3 0h0m4 0h0m7 0h0m11 0h0m7 0h0m6 0h0m4 0h0m3 0h0m-64 1h0m1 0h0m9 0h0m1 0h0m6 0h0m1 0h0m6 0h0m1 0h0m17 0h0m5 0h0m2 0h0m7 0h0m1 0h0m3 0h0m-108 1h0m23 0h0m5 0h0m9 0h0m1 0h0m41 0h0m17 0h0m15 0h0m6 0h0m-71 1h0m1 0h0m47 0h0m4 0h0m1 0h0m3 0h0m3 0h0m1 0h0m3 0h0m-59 1h0m2 0h0m25 0h0m1 0h0m3 0h0m4 0h0m16 0h0m4 0h0m7 0h0m1 0h0m2 0h0m-132 1h0m2 0h0m1 0h0m62 0h0m3 0h0m4 0h0m14 0h0m6 0h0m1 0h0m10 0h0m4 0h0m13 0h0m7 0h0m1 0h0m7 0h0m2 0h0m4 0h0m-115 1h0m51 0h0m1 0h0m10 0h0m4 0h0m4 0h0m2 0h0m1 0h0m1 0h0m6 0h0m3 0h0m1 0h0m9 0h0m1 0h0m11 0h0m-71 1h0m27 0h0m18 0h0m27 0h0m7 0h0m-80 1h0m2 0h0m4 0h0m28 0h0m11 0h0m2 0h0m8 0h0m4 0h0m3 0h0m10 0h0m2 0h0m6 0h0m4 0h0m3 0h0m2 0h0m-80 1h0m11 0h0m11 0h0m2 0h0m1 0h0m10 0h0m1 0h0m2 0h0m29 0h0m2 0h0m4 0h0m-50 1h0m7 0h0m10 0h0m4 0h0m7 0h0m7 0h0m10 0h0m1 0h0m16 0h0m-96 1h0m16 0h0m25 0h0m21 0h0m17 0h0m3 0h0m4 0h0m4 0h0m-88 1h0m2 0h0m1 0h0m13 0h0m17 0h0m1 0h0m35 0h0m3 0h0m14 0h0m13 0h0m-59 1h0m1 0h0m28 0h0m9 0h0m5 0h0m10 0h0m7 0h0m-57 1h0m3 0h0m13 0h0m1 0h0m11 0h0m2 0h0m8 0h0m6 0h0m4 0h0m-81 1h0m38 0h0m7 0h0m3 0h0m8 0h0m2 0h0m1 0h0m1 0h0m19 0h0m2 0h0m4 0h0m2 0h0m-77 1h0m38 0h0m4 0h0m13 0h0m15 0h0m16 0h0m-54 1h0m1 0h0m7 0h0m20 0h0m7 0h0m4 0h0m7 0h0m7 0h0m3 0h0m-80 1h0m3 0h0m1 0h0m3 0h0m18 0h0m3 0h0m25 0h0m3 0h0m3 0h0m1 0h0m3 0h0m3 0h0m4 0h0m7 0h0m3 0h0m-99 1h0m1 0h0m44 0h0m1 0h0m24 0h0m3 0h0m14 0h0m3 0h0m7 0h0m-52 1h0m11 0h0m3 0h0m10 0h0m3 0h0m4 0h0m-60 1h0m49 0h0m3 0h0m4 0h0m3 0h0m4 0h0m9 0h0m8 0h0m-58 1h0m1 0h0m10 0h0m4 0h0m7 0h0m14 0h0m8 0h0m-103 1h0m42 0h0m3 0h0m1 0h0m13 0h0m15 0h0m3 0h0m14 0h0m13 0h0m1 0h0m6 0h0m1 0h0m6 0h0m-43 1h0m1 0h0m2 0h0m1 0h0m31 0h0m10 0h0m-55 1h0m3 0h0m4 0h0m3 0h0m4 0h0m10 0h0m11 0h0m16 0h0m-4 1h0m-88 1h0m2 0h0m19 0h0m3 0h0m3 0h0m32 0h0m2 0h0m15 0h0m1 0h0m1 0h0m9 0h0m1 0h0m2 0h0m1 0h0m-57 1h0m14 0h0m7 0h0m3 0h0m10 0h0m1 0h0m7 0h0m3 0h0m-33 1h0m7 0h0m3 0h0m1 0h0m10 0h0m7 0h0m-46 1h0m35 0h0m1 0h0m6 0h0m-26 1h0m11 0h0m3 0h0m1 0h0m17 0h0m3 0h0m10 0h0m3 0h0m-56 1h0m1 0h0m21 0h0m1 0h0m2 0h0m11 0h0m4 0h0m-3 1h0m1 0h0m0 1h0m4 0h0m2 0h0m6 0h0m2 0h0m2 0h0m-14 1h0m6 0h0m1 0h0m2 0h0m1 0h0m6 0h0m-19 1h0m1 0h0m6 0h0m4 0h0m12 0h0m-47 1h0m1 0h0m38 0h0m6 0h0m-36 1h0m28 0h0m6 0h0m4 0h0m-24 1h0m13 0h0m-5 1h0m1 0h0m14 0h0m-116 1h0m108 0h0m3 0h0m-36 1h0m1 0h0m10 0h0m3 0h0m1 0h0m20 0h0m1 0h0m-34 1h0m1 0h0m16 0h0m18 0h0m-20 1h0m6 0h0m4 0h0m6 0h0m1 0h0m-20 1h0m11 0h0m-4 1h0m6 0h0m8 0h0m-9 1h0m16 2h0m-25 1h0m20 1h0m3 0h0m-19 1h0m17 0h0m-15 1h0m2 0h0m-51 1h0m59 1h0m3 0h0m0 1h0m2 0h0m-46 5h0m17 0h0m33 2h0m-16 1h0m-11 1h0m6 2h0m17 0h0m2 0h0m-35 5h0m-5 4h0m38 5h0m-20 3h0" stroke="#808080" stroke-width="1.05" stroke-linecap="square" fill="none" transform="translate(1 1) scale(2)"/>
<path d="M212 167h0m1 0h0m13 0h0m-64 1h0m4 0h0m23 0h0m21 2h0m7 1h0m9 0h0m-25 1h0m3 0h0m7 0h0m14 0h0m-31 1h0m3 0h0m9 1h0m6 0h0m5 0h0m-5 1h0m21 0h0m-60 1h0m62 0h0m3 0h0m-109 1h0m50 0h0m34 0h0m20 0h0m-51 1h0m24 0h0m35 0h0m-26 1h0m16 0h0m4 0h0m3 0h0m7 0h0m4 0h0m-72 1h0m21 0h0m6 0h0m38 0h0m1 0h0m3 0h0m-54 1h0m48 0h0m-46 2h0m56 0h0m9 0h0m-57 1h0m54 0h0m-5 1h0m-81 1h0m93 0h0m5 0h0m-37 1h0m8 0h0m10 0h0m4 0h0m14 0h0m-2 1h0m-53 1h0m57 0h0m-31 1h0m21 0h0m1 0h0m13 0h0m-22 1h0m28 0h0m-17 1h0m10 0h0m-75 1h0m59 0h0m3 0h0m-77 1h0m25 0h0m66 0h0m11 0h0m-37 1h0m7 0h0m10 0h0m14 1h0m-18 1h0m13 0h0m15 0h0m-72 1h0m28 0h0m7 0h0m18 0h0m28 0h0m-29 1h0m14 0h0m19 1h0m-49 1h0m-25 1h0m55 0h0m14 0h0m7 0h0m-14 1h0m10 0h0m3 0h0m4 0h0m3 0h0m-143 1h0m93 0h0m39 0h0m-47 1h0m56 0h0m9 1h0m-49 1h0m14 0h0m7 0h0m6 0h0m18 0h0m-73 1h0m2 0h0m33 0h0m14 0h0m3 0h0m-22 1h0m30 0h0m10 0h0m11 0h0m-55 1h0m27 0h0m7 0h0m-12 1h0m1 0h0m37 0h0m1 0h0m-71 1h0m52 0h0m18 0h0m-54 1h0m21 0h0m10 0h0m4 0h0m7 0h0m11 0h0m-54 1h0m35 0h0m14 0h0m6 0h0m-55 1h0m20 0h0m5 0h0m2 0h0m1 0h0m12 1h0m6 0h0m8 0h0m-44 2h0m39 0h0m6 0h0m5 1h0m-97 1h0m63 0h0m24 0h0m-36 1h0m20 0h0m15 0h0m-1 1h0m-33 1h0m38 0h0m-53 1h0m56 1h0m3 0h0m-75 1h0m18 1h0m35 0h0m15 1h0m4 0h0m-1 1h0m4 0h0m3 0h0m-62 2h0m46 0h0m2 0h0m-54 2h0m1 0h0m46 2h0m18 3h0m2 0h0m-10 1h0m1 0h0m3 0h0m4 0h0m-62 2h0m54 16h0m-1 1h0m9 1h0m-57 2h0m3 0h0m55 1h0" stroke="#bf00bf" stroke-width="1.05" stroke-linecap="square" fill="none" transform="translate(1 1) scale(2)"/>
<path d="M130 167h0m13 0h0m42 0h0m7 0h0m10 0h0m1 0h0m6 0h0m1 0h0m6 0h0m1 0h0m2 0h0m4 0h0m-82 1h0m29 0h0m6 0h0m1 0h0m4 0h0m3 0h0m1 0h0m2 0h0m11 0h0m1 0h0m2 0h0m4 0h0m5 0h0m2 0h0m7 0h0m5 0h0m3 0h0m2 0h0m-77 1h0m14 0h0m18 0h0m3 0h0m7 0h0m3 0h0m1 0h0m3 0h0m6 0h0m1 0h0m3 0h0m3 0h0m1 0h0m7 0h0m3 0h0m3 0h0m1 0h0m-103 1h0m1 0h0m2 0h0m29 0h0m10 0h0m3 0h0m36 0h0m2 0h0m4 0h0m3 0h0m1 0h0m1 0h0m6 0h0m2 0h0m1 0h0m1 0h0m2 0h0m-72 1h0m7 0h0m23 0h0m8 0h0m3 0h0m7 0h0m4 0h0m2 0h0m4 0h0m3 0h0m1 0h0m3 0h0m7 0h0m4 0h0m-82 1h0m39 0h0m17 0h0m13 0h0m1 0h0m6 0h0m1 0h0m6 0h0m1 0h0m-80 1h0m6 0h0m11 0h0m17 0h0m10 0h0m4 0h0m4 0h0m6 0h0m1 0h0m6 0h0m1 0h0m6 0h0m1 0h0m2 0h0m1 0h0m4 0h0m3 0h0m-106 1h0m1 0h0m2 0h0m1 0h0m3 0h0m14 0h0m13 0h0m1 0h0m7 0h0m3 0h0m18 0h0m13 0h0m11 0h0m3 0h0m7 0h0m3 0h0m4 0h0m3 0h0m1 0h0m-100 1h0m35 0h0m22 0h0m18 0h0m3 0h0m1 0h0m3 0h0m6 0h0m11 0h0m1 0h0m3 0h0m-78 1h0m31 0h0m4 0h0m3 0h0m14 0h0m4 0h0m3 0h0m6 0h0m1 0h0m7 0h0m-46 1h0m6 0h0m3 0h0m7 0h0m5 0h0m2 0h0m2 0h0m6 0h0m6 0h0m4 0h0m5 0h0m2 0h0m-95 1h0m57 0h0m6 0h0m7 0h0m4 0h0m3 0h0m4 0h0m3 0h0m3 0h0m1 0h0m10 0h0m4 0h0m3 0h0m-102 1h0m58 0h0m1 0h0m21 0h0m3 0h0m7 0h0m4 0h0m-82 1h0m1 0h0m53 0h0m10 0h0m7 0h0m3 0h0m1 0h0m13 0h0m1 0h0m2 0h0m1 0h0m3 0h0m-82 1h0m5 0h0m30 0h0m4 0h0m11 0h0m6 0h0m3 0h0m4 0h0m7 0h0m10 0h0m1 0h0m2 0h0m1 0h0m-77 1h0m2 0h0m8 0h0m7 0h0m4 0h0m25 0h0m2 0h0m4 0h0m4 0h0m3 0h0m6 0h0m2 0h0m6 0h0m3 0h0m4 0h0m-63 1h0m3 0h0m3 0h0m1 0h0m13 0h0m4 0h0m9 0h0m1 0h0m4 0h0m2 0h0m7 0h0m7 0h0m1 0h0m3 0h0m4 0h0m3 0h0m-82 1h0m33 0h0m16 0h0m14 0h0m4 0h0m3 0h0m1 0h0m2 0h0m4 0h0m-99 1h0m60 0h0m7 0h0m1 0h0m3 0h0m3 0h0m1 0h0m6 0h0m4 0h0m4 0h0m6 0h0m1 0h0m2 0h0m1 0h0m4 0h0m-82 1h0m25 0h0m2 0h0m11 0h0m7 0h0m4 0h0m3 0h0m4 0h0m7 0h0m2 0h0m1 0h0m3 0h0m4 0h0m3 0h0m3 0h0m8 0h0m3 0h0m-57 1h0m1 0h0m3 0h0m1 0h0m3 0h0m7 0h0m1 0h0m9 0h0m4 0h0m8 0h0m9 0h0m4 0h0m3 0h0m-53 1h0m7 0h0m17 0h0m3 0h0m7 0h0m7 0h0m1 0h0m2 0h0m1 0h0m3 0h0m1 0h0m2 0h0m4 0h0m1 0h0m2 0h0m1 0h0m-57 1h0m18 0h0m3 0h0m8 0h0m6 0h0m7 0h0m4 0h0m3 0h0m3 0h0m4 0h0m-141 1h0m1 0h0m1 0h0m2 0h0m1 0h0m3 0h0m1 0h0m2 0h0m87 0h0m3 0h0m4 0h0m1 0h0m3 0h0m6 0h0m4 0h0m4 0h0m13 0h0m1 0h0m3 0h0m4 0h0m2 0h0m1 0h0m-110 1h0m1 0h0m44 0h0m12 0h0m16 0h0m4 0h0m4 0h0m4 0h0m2 0h0m4 0h0m8 0h0m3 0h0m-101 1h0m2 0h0m26 0h0m9 0h0m4 0h0m7 0h0m10 0h0m11 0h0m7 0h0m3 0h0m1 0h0m6 0h0m7 0h0m4 0h0m3 0h0m7 0h0m-98 1h0m48 0h0m4 0h0m10 0h0m3 0h0m4 0h0m3 0h0m3 0h0m1 0h0m10 0h0m3 0h0m4 0h0m6 0h0m1 0h0m3 0h0m3 0h0m2 0h0m-74 1h0m14 0h0m7 0h0m3 0h0m3 0h0m4 0h0m17 0h0m1 0h0m10 0h0m4 0h0m3 0h0m3 0h0m8 0h0m-65 1h0m7 0h0m11 0h0m3 0h0m7 0h0m3 0h0m3 0h0m5 0h0m3 0h0m3 0h0m3 0h0m4 0h0m3 0h0m1 0h0m3 0h0m3 0h0m4 0h0m-57 1h0m12 0h0m10 0h0m14 0h0m1 0h0m2 0h0m4 0h0m4 0h0m3 0h0m4 0h0m2 0h0m5 0h0m-158 1h0m72 0h0m35 0h0m4 0h0m4 0h0m3 0h0m3 0h0m10 0h0m1 0h0m3 0h0m6 0h0m1 0h0m3 0h0m3 0h0m1 0h0m6 0h0m5 0h0m-124 1h0m41 0h0m7 0h0m12 0h0m2 0h0m15 0h0m3 0h0m11 0h0m11 0h0m2 0h0m8 0h0m13 0h0m2 0h0m-65 1h0m11 0h0m14 0h0m4 0h0m2 0h0m1 0h0m7 0h0m3 0h0m10 0h0m1 0h0m3 0h0m3 0h0m4 0h0m4 0h0m-102 1h0m38 0h0m3 0h0m6 0h0m4 0h0m1 0h0m9 0h0m7 0h0m7 0h0m1 0h0m9 0h0m2 0h0m9 0h0m1 0h0m2 0h0m1 0h0m4 0h0m-74 1h0m15 0h0m12 0h0m11 0h0m10 0h0m4 0h0m4 0h0m4 0h0m2 0h0m1 0h0m7 0h0m3 0h0m3 0h0m-70 1h0m21 0h0m2 0h0m1 0h0m3 0h0m14 0h0m3 0h0m8 0h0m13 0h0m8 0h0m-102 1h0m6 0h0m11 0h0m20 0h0m8 0h0m18 0h0m14 0h0m4 0h0m6 0h0m1 0h0m7 0h0m3 0h0m4 0h0m-151 1h0m2 0h0m1 0h0m114 0h0m1 0h0m7 0h0m2 0h0m7 0h0m1 0h0m3 0h0m1 0h0m6 0h0m4 0h0m3 0h0m-116 1h0m28 0h0m27 0h0m1 0h0m6 0h0m11 0h0m6 0h0m1 0h0m3 0h0m15 0h0m4 0h0m6 0h0m-38 1h0m2 0h0m1 0h0m4 0h0m9 0h0m1 0h0m10 0h0m3 0h0m1 0h0m6 0h0m4 0h0m4 0h0m2 0h0m4 0h0m1 0h0m-127 1h0m17 0h0m17 0h0m29 0h0m2 0h0m11 0h0m7 0h0m3 0h0m3 0h0m4 0h0m10 0h0m5 0h0m2 0h0m1 0h0m6 0h0m1 0h0m3 0h0m3 0h0m4 0h0m-77 1h0m1 0h0m4 0h0m9 0h0m18 0h0m11 0h0m9 0h0m5 0h0m3 0h0m7 0h0m6 0h0m4 0h0m3 0h0m1 0h0m-117 1h0m38 0h0m1 0h0m3 0h0m14 0h0m6 0h0m1 0h0m17 0h0m4 0h0m3 0h0m3 0h0m8 0h0m2 0h0m1 0h0m3 0h0m7 0h0m1 0h0m2 0h0m1 0h0m-78 1h0m11 0h0m9 0h0m11 0h0m4 0h0m4 0h0m6 0h0m2 0h0m9 0h0m14 0h0m5 0h0m2 0h0m4 0h0m3 0h0m-63 1h0m10 0h0m3 0h0m1 0h0m7 0h0m20 0h0m7 0h0m4 0h0m6 0h0m1 0h0m2 0h0m-167 1h0m27 0h0m15 0h0m37 0h0m8 0h0m10 0h0m3 0h0m4 0h0m3 0h0m4 0h0m6 0h0m4 0h0m17 0h0m4 0h0m7 0h0m1 0h0m7 0h0m13 0h0m4 0h0m-66 1h0m27 0h0m4 0h0m3 0h0m4 0h0m10 0h0m6 0h0m1 0h0m6 0h0m4 0h0m4 0h0m-100 1h0m12 0h0m34 0h0m3 0h0m1 0h0m6 0h0m1 0h0m2 0h0m4 0h0m1 0h0m7 0h0m10 0h0m9 0h0m2 0h0m3 0h0m-131 1h0m39 0h0m9 0h0m20 0h0m9 0h0m9 0h0m20 0h0m3 0h0m15 0h0m2 0h0m4 0h0m1 0h0m2 0h0m-84 1h0m25 0h0m16 0h0m17 0h0m5 0h0m2 0h0m4 0h0m4 0h0m10 0h0m4 0h0m-81 1h0m35 0h0m3 0h0m7 0h0m11 0h0m4 0h0m3 0h0m3 0h0m1 0h0m6 0h0m1 0h0m2 0h0m1 0h0m3 0h0m1 0h0m-55 1h0m12 0h0m6 0h0m3 0h0m25 0h0m10 0h0m-109 1h0m21 0h0m28 0h0m3 0h0m32 0h0m4 0h0m3 0h0m3 0h0m7 0h0m4 0h0m4 0h0m-63 1h0m6 0h0m17 0h0m15 0h0m2 0h0m18 0h0m-68 1h0m22 0h0m7 0h0m7 0h0m16 0h0m1 0h0m3 0h0m3 0h0m3 0h0m4 0h0m3 0h0m1 0h0m-92 1h0m29 0h0m4 0h0m11 0h0m14 0h0m20 0h0m4 0h0m3 0h0m3 0h0m4 0h0m3 0h0m-63 1h0m10 0h0m13 0h0m1 0h0m14 0h0m6 0h0m1 0h0m2 0h0m1 0h0m3 0h0m7 0h0m3 0h0m1 0h0m-51 1h0m8 0h0m18 0h0m10 0h0m4 0h0m2 0h0m9 0h0m-48 1h0m12 0h0m16 0h0m8 0h0m2 0h0m1 0h0m3 0h0m3 0h0m-84 1h0m63 0h0m4 0h0m2 0h0m4 0h0m3 0h0m4 0h0m4 0h0m-43 1h0m8 0h0m7 0h0m13 0h0m10 0h0m-73 1h0m9 0h0m52 0h0m10 0h0m8 0h0m3 0h0m-53 1h0m19 0h0m28 0h0m2 0h0m-74 1h0m8 0h0m7 0h0m9 0h0m1 0h0m45 0h0m6 0h0m-67 1h0m14 0h0m31 0h0m4 0h0m15 0h0m4 0h0m-30 1h0m10 0h0m4 0h0m10 0h0m4 0h0m3 0h0m-4 1h0m3 0h0m-32 1h0m4 0h0m6 0h0m1 0h0m13 0h0m1 0h0m-43 1h0m6 0h0m38 0h0m-38 1h0m45 0h0m-77 1h0m38 0h0m27 0h0m-61 1h0m26 0h0m34 0h0m7 0h0m3 0h0m1 0h0m1 0h0m-57 1h0m14 0h0m33 0h0m5 0h0m-69 1h0m50 0h0m-46 1h0m24 0h0m12 1h0m24 1h0m2 1h0m7 0h0m-87 1h0m2 0h0m1 0h0m77 0h0m-8 1h0m6 0h0m-7 2h0m6 0h0m3 0h0m1 0h0m7 0h0m-27 2h0m11 0h0m2 0h0m-8 1h0m-2 3h0m-46 3h0m66 1h0m-39 1h0m36 2h0m1 2h0m-26 2h0m17 0h0m15 0h0m-44 1h0m1 0h0m2 0h0m-29 2h0m51 1h0m-32 1h0m41 4h0m-81 7h0" stroke="#bfbf00" stroke-width="1.05" stroke-linecap="square" fill="none" transform="translate(1 1) scale(2)"/>
<path d="M139 167h0m17 0h0m27 0h0m7 0h0m8 0h0m6 0h0m14 0h0m3 0h0m-54 1h0m4 0h0m40 0h0m6 0h0m1 0h0m4 0h0m-79 1h0m24 0h0m7 0h0m39 0h0m3 0h0m4 0h0m10 0h0m-88 1h0m13 0h0m46 0h0m1 0h0m6 0h0m14 0h0m1 0h0m2 0h0m4 0h0m3 0h0m-72 1h0m41 0h0m3 0h0m-40 1h0m35 0h0m7 0h0m13 0h0m11 0h0m7 0h0m-67 1h0m11 0h0m10 0h0m18 0h0m24 0h0m1 0h0m3 0h0m3 0h0m-32 1h0m20 0h0m1 0h0m9 0h0m4 0h0m-39 1h0m6 0h0m21 0h0m5 0h0m4 0h0m-57 1h0m6 0h0m18 0h0m11 0h0m9 0h0m1 0h0m7 0h0m3 0h0m3 0h0m1 0h0m-68 1h0m17 0h0m38 0h0m4 0h0m8 0h0m3 0h0m-43 1h0m18 0h0m7 0h0m4 0h0m3 0h0m3 0h0m1 0h0m7 0h0m3 0h0m3 0h0m-46 1h0m21 0h0m2 0h0m4 0h0m7 0h0m4 0h0m7 0h0m-53 1h0m24 0h0m14 0h0m1 0h0m6 0h0m1 0h0m6 0h0m4 0h0m-30 1h0m7 0h0m1 0h0m3 0h0m6 0h0m4 0h0m-22 1h0m1 0h0m1 0h0m2 0h0m4 0h0m3 0h0m4 0h0m8 0h0m-27 1h0m1 0h0m2 0h0m4 0h0m11 0h0m20 0h0m3 0h0m-108 1h0m3 0h0m1 0h0m51 0h0m1 0h0m13 0h0m1 0h0m9 0h0m1 0h0m3 0h0m4 0h0m21 0h0m6 0h0m1 0h0m1 0h0m-72 1h0m32 0h0m10 0h0m1 0h0m7 0h0m24 0h0m-51 1h0m1 0h0m20 0h0m-63 1h0m32 0h0m42 0h0m9 0h0m1 0h0m6 0h0m-60 1h0m7 0h0m7 0h0m18 0h0m9 0h0m5 0h0m3 0h0m6 0h0m8 0h0m3 0h0m-57 1h0m9 0h0m9 0h0m14 0h0m7 0h0m7 0h0m11 0h0m3 0h0m-77 1h0m20 0h0m4 0h0m7 0h0m6 0h0m1 0h0m6 0h0m4 0h0m20 0h0m8 0h0m3 0h0m4 0h0m-71 1h0m7 0h0m3 0h0m3 0h0m1 0h0m20 0h0m1 0h0m3 0h0m25 0h0m7 0h0m2 0h0m2 0h0m-91 1h0m9 0h0m11 0h0m17 0h0m3 0h0m1 0h0m10 0h0m3 0h0m8 0h0m7 0h0m3 0h0m3 0h0m8 0h0m2 0h0m1 0h0m4 0h0m3 0h0m-71 1h0m20 0h0m1 0h0m7 0h0m3 0h0m3 0h0m7 0h0m1 0h0m3 0h0m3 0h0m1 0h0m9 0h0m-23 1h0m14 0h0m2 0h0m4 0h0m10 0h0m4 0h0m4 0h0m-71 1h0m6 0h0m1 0h0m7 0h0m2 0h0m15 0h0m4 0h0m16 0h0m15 0h0m9 0h0m-51 1h0m2 0h0m4 0h0m2 0h0m5 0h0m14 0h0m7 0h0m3 0h0m11 0h0m3 0h0m-108 1h0m28 0h0m13 0h0m31 0h0m1 0h0m2 0h0m5 0h0m3 0h0m13 0h0m1 0h0m3 0h0m-57 1h0m3 0h0m1 0h0m13 0h0m1 0h0m6 0h0m1 0h0m3 0h0m3 0h0m10 0h0m12 0h0m7 0h0m3 0h0m1 0h0m3 0h0m-84 1h0m13 0h0m22 0h0m17 0h0m10 0h0m7 0h0m3 0h0m4 0h0m3 0h0m8 0h0m3 0h0m-124 1h0m53 0h0m3 0h0m3 0h0m35 0h0m3 0h0m4 0h0m18 0h0m6 0h0m-38 1h0m1 0h0m6 0h0m7 0h0m7 0h0m-116 1h0m3 0h0m1 0h0m24 0h0m24 0h0m7 0h0m6 0h0m1 0h0m10 0h0m8 0h0m2 0h0m1 0h0m6 0h0m1 0h0m16 0h0m15 0h0m4 0h0m2 0h0m1 0h0m6 0h0m-63 1h0m13 0h0m1 0h0m1 0h0m6 0h0m4 0h0m3 0h0m1 0h0m9 0h0m2 0h0m10 0h0m6 0h0m4 0h0m4 0h0m-48 1h0m1 0h0m11 0h0m2 0h0m14 0h0m15 0h0m2 0h0m1 0h0m-112 1h0m34 0h0m3 0h0m1 0h0m2 0h0m1 0h0m38 0h0m10 0h0m7 0h0m2 0h0m17 0h0m4 0h0m-71 1h0m6 0h0m1 0h0m13 0h0m1 0h0m10 0h0m17 0h0m8 0h0m2 0h0m1 0h0m-41 1h0m1 0h0m3 0h0m1 0h0m2 0h0m32 0h0m4 0h0m6 0h0m11 0h0m-92 1h0m11 0h0m1 0h0m34 0h0m18 0h0m20 0h0m7 0h0m4 0h0m-82 1h0m1 0h0m17 0h0m3 0h0m15 0h0m3 0h0m13 0h0m1 0h0m14 0h0m3 0h0m4 0h0m7 0h0m2 0h0m-55 1h0m21 0h0m13 0h0m1 0h0m7 0h0m3 0h0m4 0h0m3 0h0m-49 1h0m2 0h0m1 0h0m10 0h0m17 0h0m3 0h0m18 0h0m3 0h0m-67 1h0m18 0h0m9 0h0m1 0h0m1 0h0m6 0h0m17 0h0m14 0h0m4 0h0m1 0h0m-44 1h0m1 0h0m20 0h0m1 0h0m3 0h0m3 0h0m4 0h0m-40 1h0m3 0h0m21 0h0m1 0h0m3 0h0m4 0h0m6 0h0m3 0h0m11 0h0m-98 1h0m28 0h0m1 0h0m20 0h0m1 0h0m6 0h0m3 0h0m4 0h0m15 0h0m-75 1h0m45 0h0m6 0h0m1 0h0m7 0h0m4 0h0m24 0h0m13 0h0m-168 1h0m105 0h0m35 0h0m7 0h0m4 0h0m6 0h0m11 0h0m-120 1h0m56 0h0m32 0h0m2 0h0m12 0h0m6 0h0m-95 1h0m58 0h0m1 0h0m10 0h0m1 0h0m11 0h0m2 0h0m4 0h0m8 0h0m-65 1h0m1 0h0m3 0h0m1 0h0m6 0h0m1 0h0m3 0h0m14 0h0m3 0h0m1 0h0m2 0h0m7 0h0m1 0h0m6 0h0m1 0h0m10 0h0m10 0h0m4 0h0m-43 1h0m3 0h0m3 0h0m7 0h0m14 0h0m-35 1h0m1 0h0m6 0h0m3 0h0m11 0h0m1 0h0m2 0h0m1 0h0m4 0h0m10 0h0m6 0h0m-29 1h0m25 0h0m2 0h0m-84 1h0m57 0h0m2 0h0m21 0h0m1 0h0m7 0h0m4 0h0m3 0h0m-47 1h0m7 0h0m1 0h0m3 0h0m6 0h0m1 0h0m11 0h0m16 0h0m-47 1h0m1 0h0m6 0h0m1 0h0m3 0h0m8 0h0m2 0h0m21 0h0m1 0h0m5 0h0m-34 1h0m1 0h0m7 0h0m16 0h0m1 0h0m-29 1h0m20 0h0m1 0h0m2 0h0m-45 1h0m3 0h0m22 0h0m11 0h0m2 0h0m1 0h0m4 0h0m16 0h0m-22 1h0m3 0h0m1 0h0m3 1h0m10 0h0m-46 1h0m34 0h0m1 0h0m3 0h0m3 0h0m3 0h0m4 0h0m-68 1h0m49 0h0m3 0h0m4 0h0m6 0h0m-118 1h0m69 0h0m1 0h0m1 0h0m9 0h0m4 0h0m34 0h0m9 1h0m1 0h0m-45 1h0m10 0h0m3 0h0m8 0h0m2 0h0m8 0h0m9 0h0m-11 1h0m13 0h0m-60 1h0m56 0h0m1 0h0m-36 1h0m10 0h0m1 0h0m2 0h0m1 0h0m3 0h0m17 0h0m1 0h0m-33 1h0m13 0h0m1 0h0m24 0h0m-21 1h0m14 0h0m-20 1h0m1 0h0m10 0h0m1 0h0m2 0h0m-6 1h0m12 0h0m1 0h0m1 0h0m0 2h0m-2 3h0m6 0h0m1 0h0m-12 1h0m-3 1h0m17 0h0m-22 2h0m1 0h0m6 0h0m14 0h0m1 0h0m1 0h0m-5 1h0m-16 8h0m4 0h0m-3 3h0m17 0h0m2 0h0m-13 1h0m-24 4h0m2 0h0" stroke="#808080" stroke-width="1.05" stroke-linecap="square" fill="none" transform="translate(1 1) scale(2)"/>
<path d="M186 167h0m5 0h0m31 0h0m-19 1h0m11 0h0m7 0h0m-50 1h0m14 0h0m11 0h0m21 0h0m2 0h0m-15 1h0m11 0h0m-7 1h0m-19 1h0m34 0h0m8 0h0m-72 1h0m12 0h0m55 0h0m-40 1h0m1 0h0m7 0h0m4 0h0m24 0h0m-5 1h0m19 0h0m2 0h0m9 1h0m-67 1h0m66 0h0m-62 1h0m30 0h0m31 0h0m-71 1h0m59 0h0m7 0h0m4 0h0m-77 1h0m81 0h0m-75 1h0m10 0h0m48 0h0m4 0h0m4 0h0m10 0h0m4 0h0m-39 1h0m20 0h0m8 0h0m-5 1h0m-30 1h0m1 0h0m13 0h0m19 0h0m9 0h0m0 1h0m4 0h0m6 0h0m-32 1h0m3 0h0m4 0h0m6 0h0m25 0h0m-123 1h0m85 0h0m24 0h0m11 0h0m3 0h0m-23 1h0m14 0h0m7 0h0m10 0h0m-43 1h0m21 0h0m-32 1h0m43 0h0m-64 1h0m24 0h0m16 0h0m30 0h0m6 0h0m-43 1h0m18 0h0m1 0h0m9 0h0m-63 1h0m55 0h0m6 0h0m0 1h0m14 0h0m14 0h0m-42 1h0m6 0h0m4 0h0m31 0h0m4 0h0m-68 1h0m15 0h0m18 0h0m2 0h0m25 0h0m-47 1h0m35 0h0m4 0h0m-36 1h0m6 0h0m1 0h0m2 0h0m31 0h0m5 0h0m3 0h0m9 0h0m-30 1h0m3 0h0m17 0h0m-1 1h0m-32 1h0m21 0h0m22 0h0m-23 1h0m10 0h0m25 0h0m-47 1h0m15 0h0m22 0h0m3 0h0m6 0h0m-12 1h0m15 0h0m-71 1h0m17 0h0m15 0h0m20 0h0m14 0h0m7 0h0m-26 1h0m22 0h0m-40 1h0m14 0h0m3 0h0m25 0h0m2 0h0m-69 1h0m52 0h0m7 0h0m18 0h0m-41 1h0m39 0h0m-24 1h0m34 0h0m-77 1h0m27 0h0m11 0h0m21 0h0m6 0h0m14 0h0m-158 1h0m114 0h0m19 0h0m10 0h0m6 0h0m5 0h0m-196 1h0m105 0h0m27 0h0m36 0h0m2 0h0m28 0h0m-60 1h0m17 0h0m14 0h0m21 0h0m-21 1h0m24 0h0m-44 1h0m53 1h0m-43 1h0m6 0h0m-5 1h0m32 0h0m3 0h0m3 0h0m-91 1h0m1 0h0m1 0h0m90 0h0m-20 1h0m3 0h0m15 0h0m-11 1h0m7 0h0m11 0h0m-100 1h0m74 0h0m13 0h0m-67 1h0m47 0h0m10 0h0m7 0h0m-16 1h0m-1 1h0m-49 1h0m35 0h0m24 0h0m10 0h0m-33 1h0m32 0h0m-32 1h0m39 0h0m-37 1h0m25 0h0m5 1h0m2 0h0m-2 4h0m-12 2h0m27 1h0m-12 1h0m4 0h0m6 0h0m1 0h0m-68 1h0m45 1h0m-1 4h0m18 2h0m-3 3h0m-16 2h0m26 3h0m-59 6h0m1 0h0" stroke="#bf00bf" stroke-width="1.05" stroke-linecap="square" fill="none" transform="translate(1 1) scale(2)"/>
<path d="M132 167h0m20 0h0m11 0h0m3 0h0m21 0h0m7 0h0m3 0h0m4 0h0m4 0h0m2 0h0m1 0h0m7 0h0m10 0h0m-46 1h0m9 0h0m5 0h0m7 0h0m4 0h0m3 0h0m6 0h0m2 0h0m10 0h0m3 0h0m-53 1h0m7 0h0m13 0h0m7 0h0m7 0h0m1 0h0m2 0h0m11 0h0m1 0h0m2 0h0m1 0h0m-102 1h0m3 0h0m41 0h0m7 0h0m1 0h0m3 0h0m7 0h0m11 0h0m2 0h0m19 0h0m2 0h0m12 0h0m-80 1h0m17 0h0m13 0h0m1 0h0m7 0h0m14 0h0m2 0h0m8 0h0m3 0h0m4 0h0m3 0h0m3 0h0m1 0h0m2 0h0m1 0h0m3 0h0m-67 1h0m11 0h0m13 0h0m4 0h0m6 0h0m10 0h0m1 0h0m3 0h0m1 0h0m3 0h0m4 0h0m2 0h0m1 0h0m6 0h0m1 0h0m-89 1h0m33 0h0m6 0h0m4 0h0m7 0h0m7 0h0m3 0h0m1 0h0m4 0h0m2 0h0m4 0h0m1 0h0m2 0h0m4 0h0m1 0h0m6 0h0m-98 1h0m3 0h0m3 0h0m1 0h0m2 0h0m1 0h0m27 0h0m1 0h0m14 0h0m13 0h0m4 0h0m10 0h0m7 0h0m3 0h0m4 0h0m6 0h0m1 0h0m3 0h0m1 0h0m3 0h0m-89 1h0m39 0h0m1 0h0m10 0h0m7 0h0m4 0h0m2 0h0m8 0h0m1 0h0m6 0h0m3 0h0m1 0h0m10 0h0m1 0h0m-86 1h0m42 0h0m3 0h0m8 0h0m2 0h0m8 0h0m10 0h0m14 0h0m-50 1h0m7 0h0m7 0h0m7 0h0m4 0h0m2 0h0m1 0h0m3 0h0m4 0h0m7 0h0m2 0h0m4 0h0m2 0h0m-64 1h0m21 0h0m4 0h0m2 0h0m1 0h0m23 0h0m7 0h0m1 0h0m3 0h0m8 0h0m-69 1h0m21 0h0m8 0h0m7 0h0m3 0h0m14 0h0m13 0h0m4 0h0m1 0h0m2 0h0m-105 1h0m7 0h0m3 0h0m1 0h0m3 0h0m24 0h0m1 0h0m14 0h0m11 0h0m3 0h0m11 0h0m3 0h0m7 0h0m17 0h0m1 0h0m-96 1h0m32 0h0m2 0h0m12 0h0m2 0h0m7 0h0m4 0h0m7 0h0m11 0h0m9 0h0m1 0h0m4 0h0m2 0h0m4 0h0m-85 1h0m24 0h0m43 0h0m3 0h0m10 0h0m2 0h0m2 0h0m1 0h0m3 0h0m1 0h0m-47 1h0m6 0h0m1 0h0m7 0h0m13 0h0m4 0h0m3 0h0m1 0h0m3 0h0m4 0h0m3 0h0m3 0h0m1 0h0m-123 1h0m48 0h0m6 0h0m18 0h0m14 0h0m4 0h0m9 0h0m4 0h0m1 0h0m3 0h0m4 0h0m3 0h0m6 0h0m2 0h0m-63 1h0m16 0h0m17 0h0m7 0h0m1 0h0m3 0h0m3 0h0m1 0h0m4 0h0m2 0h0m4 0h0m4 0h0m3 0h0m3 0h0m-108 1h0m21 0h0m44 0h0m3 0h0m7 0h0m11 0h0m3 0h0m1 0h0m7 0h0m2 0h0m1 0h0m3 0h0m1 0h0m7 0h0m-49 1h0m4 0h0m10 0h0m3 0h0m3 0h0m1 0h0m13 0h0m1 0h0m6 0h0m7 0h0m1 0h0m2 0h0m1 0h0m-74 1h0m27 0h0m6 0h0m1 0h0m3 0h0m4 0h0m4 0h0m6 0h0m11 0h0m14 0h0m-56 1h0m6 0h0m2 0h0m6 0h0m2 0h0m5 0h0m4 0h0m10 0h0m7 0h0m2 0h0m1 0h0m9 0h0m2 0h0m2 0h0m1 0h0m-144 1h0m3 0h0m1 0h0m3 0h0m41 0h0m4 0h0m18 0h0m9 0h0m21 0h0m14 0h0m1 0h0m6 0h0m1 0h0m2 0h0m4 0h0m4 0h0m3 0h0m1 0h0m9 0h0m-112 1h0m3 0h0m1 0h0m16 0h0m28 0h0m11 0h0m11 0h0m6 0h0m8 0h0m7 0h0m2 0h0m1 0h0m3 0h0m1 0h0m3 0h0m3 0h0m-101 1h0m60 0h0m7 0h0m3 0h0m4 0h0m3 0h0m10 0h0m11 0h0m3 0h0m3 0h0m7 0h0m3 0h0m-84 1h0m17 0h0m8 0h0m9 0h0m7 0h0m1 0h0m3 0h0m4 0h0m20 0h0m1 0h0m3 0h0m3 0h0m3 0h0m1 0h0m3 0h0m4 0h0m-49 1h0m14 0h0m14 0h0m4 0h0m3 0h0m3 0h0m4 0h0m-103 1h0m42 0h0m13 0h0m1 0h0m24 0h0m4 0h0m3 0h0m4 0h0m3 0h0m3 0h0m1 0h0m2 0h0m4 0h0m3 0h0m4 0h0m4 0h0m-116 1h0m37 0h0m6 0h0m6 0h0m35 0h0m1 0h0m12 0h0m5 0h0m4 0h0m2 0h0m1 0h0m7 0h0m-64 1h0m17 0h0m4 0h0m3 0h0m3 0h0m1 0h0m9 0h0m5 0h0m2 0h0m14 0h0m1 0h0m3 0h0m3 0h0m1 0h0m-117 1h0m46 0h0m27 0h0m1 0h0m10 0h0m4 0h0m3 0h0m1 0h0m2 0h0m12 0h0m9 0h0m-60 1h0m8 0h0m11 0h0m9 0h0m8 0h0m6 0h0m1 0h0m7 0h0m9 0h0m1 0h0m3 0h0m3 0h0m-88 1h0m3 0h0m36 0h0m3 0h0m3 0h0m8 0h0m3 0h0m13 0h0m1 0h0m7 0h0m3 0h0m3 0h0m4 0h0m4 0h0m-88 1h0m11 0h0m14 0h0m11 0h0m6 0h0m4 0h0m3 0h0m1 0h0m10 0h0m6 0h0m7 0h0m1 0h0m3 0h0m3 0h0m4 0h0m3 0h0m1 0h0m2 0h0m1 0h0m-88 1h0m20 0h0m8 0h0m13 0h0m17 0h0m4 0h0m6 0h0m1 0h0m6 0h0m4 0h0m7 0h0m-87 1h0m10 0h0m21 0h0m4 0h0m2 0h0m1 0h0m8 0h0m10 0h0m6 0h0m1 0h0m3 0h0m7 0h0m3 0h0m4 0h0m14 0h0m-151 1h0m15 0h0m51 0h0m4 0h0m20 0h0m17 0h0m4 0h0m1 0h0m6 0h0m7 0h0m4 0h0m3 0h0m4 0h0m6 0h0m10 0h0m1 0h0m-105 1h0m34 0h0m24 0h0m1 0h0m2 0h0m1 0h0m3 0h0m4 0h0m3 0h0m4 0h0m14 0h0m4 0h0m2 0h0m4 0h0m7 0h0m2 0h0m-86 1h0m15 0h0m2 0h0m14 0h0m11 0h0m3 0h0m1 0h0m6 0h0m1 0h0m9 0h0m4 0h0m7 0h0m7 0h0m3 0h0m1 0h0m3 0h0m-105 1h0m24 0h0m6 0h0m7 0h0m10 0h0m7 0h0m4 0h0m1 0h0m3 0h0m6 0h0m8 0h0m3 0h0m3 0h0m1 0h0m10 0h0m7 0h0m3 0h0m1 0h0m-120 1h0m35 0h0m8 0h0m24 0h0m1 0h0m3 0h0m20 0h0m1 0h0m10 0h0m4 0h0m2 0h0m1 0h0m3 0h0m4 0h0m4 0h0m-79 1h0m4 0h0m24 0h0m7 0h0m11 0h0m13 0h0m3 0h0m1 0h0m3 0h0m3 0h0m7 0h0m7 0h0m4 0h0m-75 1h0m30 0h0m2 0h0m2 0h0m13 0h0m4 0h0m14 0h0m7 0h0m2 0h0m1 0h0m-51 1h0m7 0h0m14 0h0m1 0h0m3 0h0m7 0h0m3 0h0m3 0h0m1 0h0m6 0h0m1 0h0m7 0h0m-172 1h0m1 0h0m2 0h0m77 0h0m32 0h0m3 0h0m13 0h0m4 0h0m1 0h0m4 0h0m2 0h0m4 0h0m6 0h0m4 0h0m1 0h0m3 0h0m1 0h0m4 0h0m2 0h0m4 0h0m9 0h0m-107 1h0m34 0h0m7 0h0m10 0h0m7 0h0m1 0h0m2 0h0m4 0h0m1 0h0m2 0h0m1 0h0m7 0h0m3 0h0m11 0h0m6 0h0m1 0h0m2 0h0m1 0h0m4 0h0m2 0h0m1 0h0m-58 1h0m7 0h0m11 0h0m17 0h0m3 0h0m1 0h0m4 0h0m10 0h0m6 0h0m1 0h0m-95 1h0m33 0h0m10 0h0m7 0h0m3 0h0m11 0h0m9 0h0m1 0h0m3 0h0m3 0h0m1 0h0m6 0h0m1 0h0m6 0h0m1 0h0m-93 1h0m42 0h0m10 0h0m14 0h0m4 0h0m3 0h0m4 0h0m7 0h0m3 0h0m1 0h0m2 0h0m1 0h0m-78 1h0m5 0h0m27 0h0m7 0h0m6 0h0m22 0h0m1 0h0m3 0h0m-58 1h0m14 0h0m4 0h0m11 0h0m3 0h0m17 0h0m3 0h0m1 0h0m13 0h0m1 0h0m-64 1h0m3 0h0m3 0h0m11 0h0m14 0h0m3 0h0m3 0h0m14 0h0m8 0h0m5 0h0m-51 1h0m8 0h0m3 0h0m3 0h0m17 0h0m10 0h0m1 0h0m6 0h0m-49 1h0m17 0h0m6 0h0m8 0h0m4 0h0m2 0h0m1 0h0m6 0h0m4 0h0m4 0h0m-78 1h0m33 0h0m28 0h0m10 0h0m3 0h0m-50 1h0m3 0h0m14 0h0m1 0h0m16 0h0m4 0h0m7 0h0m6 0h0m-59 1h0m13 0h0m4 0h0m-1 1h0m21 0h0m7 0h0m10 0h0m4 0h0m4 0h0m-37 1h0m10 0h0m25 0h0m-73 1h0m35 0h0m3 0h0m4 0h0m14 0h0m3 0h0m-58 1h0m35 0h0m10 0h0m5 0h0m6 0h0m1 0h0m9 0h0m1 0h0m3 0h0m3 0h0m1 0h0m-70 1h0m45 0h0m-56 1h0m30 0h0m1 0h0m23 0h0m14 0h0m7 0h0m1 0h0m2 0h0m-38 1h0m25 0h0m13 0h0m1 0h0m3 0h0m-67 1h0m27 0h0m4 0h0m18 0h0m2 0h0m-102 1h0m28 0h0m84 0h0m1 0h0m-53 1h0m13 0h0m10 0h0m25 0h0m3 0h0m-36 1h0m13 0h0m7 0h0m11 0h0m4 0h0m3 0h0m-81 2h0m58 0h0m22 0h0m6 0h0m-11 1h0m4 0h0m3 0h0m-12 1h0m-40 1h0m22 0h0m20 0h0m4 0h0m-8 3h0m2 0h0m-72 2h0m3 0h0m22 1h0m44 0h0m1 0h0m2 0h0m12 1h0m1 0h0m-94 1h0m93 0h0m4 0h0m-50 1h0m20 1h0m1 0h0m11 0h0m2 0h0m-32 1h0m20 0h0m20 1h0m4 0h0m4 0h0m-34 2h0m10 0h0m3 0h0m10 0h0m-8 5h0m1 0h0m9 1h0m-89 2h0m45 0h0m10 4h0m11 0h0m-86 2h0m83 0h0m23 6h0m0 3h0m-26 1h0" stroke="#bfbf00" stroke-width="1.05" stroke-linecap="square" fill="none" transform="translate(1 1) scale(2)"/>
<path d="M252.0 340.2H260.8M259.9 380.5H284.7M267.2 349.9H284.7" stroke="#bfbf00" stroke-width="1.8" fill="none"/>
<path d="M127.0 352.9h0M147.3 352.9h0M161.6 352.9h0M172.7 352.9h0M181.8 352.9h0M189.5 352.9h0M196.1 352.9h0M161.6 343.0h0M189.5 362.3h0M196.1 366.2h0M202.0 366.2h0M172.7 375.8h0M147.3 398.0h0M207.3 347.8h0M244.2 390.4h0M246.6 390.4h0M248.8 390.4h0M250.9 390.4h0M252.9 390.4h0M254.9 390.4h0M256.8 390.4h0M258.6 390.4h0M260.3 390.4h0M254.9 387.2h0M256.8 387.2h0M258.6 387.2h0M260.3 387.2h0M236.6 370.9h0M239.2 370.9h0M246.6 335.3h0M248.8 335.3h0M250.9 335.3h0M252.9 335.3h0M254.9 335.3h0" stroke="#bfbf00" stroke-width="1.8" stroke-linecap="square" fill="none"/>
<path d="M181.8 343.1h0M189.5 343.1h0M196.1 343.1h0M202.0 343.1h0M207.3 343.1h0M212.0 343.1h0M216.3 343.1h0M220.3 343.1h0M224.0 343.1h0M227.5 343.1h0M127.0 346.5h0M147.3 346.5h0M161.6 346.5h0M172.7 346.5h0M181.8 346.5h0M189.5 346.5h0M196.1 346.5h0M202.0 346.5h0M207.3 346.5h0M212.0 346.5h0M216.3 346.5h0M220.3 346.5h0M224.0 346.5h0" stroke="#808080" stroke-width="1.8" stroke-linecap="square" fill="none"/>
<path d="M202.0 367.2h0M207.3 367.2h0M212.0 367.2h0M216.3 367.2h0M220.3 367.2h0M224.0 367.2h0M227.5 367.2h0M212.0 353.9h0M224.0 383.4h0M227.5 383.4h0" stroke="#bf00bf" stroke-width="1.8" stroke-linecap="square" fill="none"/>
<path d="M454.1 627.0 454.1 629.9 459.9 629.9 460.1 631.9 463.9 631.9 464.1 633.9 467.9 633.9 468.1 635.9 471.9 635.9 472.1 637.9 475.9 637.9 476.1 639.9 479.9 639.9 480.1 641.9 485.9 641.9 486.1 643.9 489.9 643.9 490.1 645.9 493.9 645.9 494.1 647.9 499.9 647.9 500.1 649.9 503.9 649.9 504.1 651.9 507.9 651.9 508.1 653.9 513.9 653.9 514.1 655.9 517.9 655.9 518.1 657.9 521.9 657.9 522.1 659.9 527.9 659.9 528.1 661.9 531.9 661.9 532.1 663.9 535.9 663.9 536.1 665.9 541.9 665.9 542.1 667.9 545.9 667.9 546.1 669.9 549.9 669.9 550.1 671.9 555.9 671.9 556.1 673.9 559.9 673.9 560.1 675.9 563.9 675.9 564.1 677.9 569.9 677.9 570.1 679.9 573.9 679.9 574.1 681.9 577.9 681.9 578.1 683.9 581.9 683.9 582.1 685.9 587.9 685.9 588.1 687.9 591.9 687.9 592.1 689.9 595.9 689.9 596.1 691.9 601.9 691.9 602.1 693.9 605.9 693.9 606.1 695.9 609.9 695.9 610.1 697.9 613.9 697.9 614.1 699.9 619.9 699.9 620.1 701.9 623.9 701.9 624.1 703.9 627.9 703.9 628.1 705.9 631.9 705.9 632.1 707.9 637.9 707.9 638.1 709.9 641.9 709.9 642.1 711.9 645.9 711.9 646.1 713.9 649.9 713.9 650.1 715.9 655.9 715.9 656.1 717.9 659.9 717.9 660.1 719.9 663.9 719.9 664.1 721.9 665.9 721.9 666.0 627.0Z" fill="url(#pat2)"/>
<path d="M647.5 781H649.4M556.1 769H565.4M474.8 689H483.6M503.7 723H520.7M523.5 717H526.7M364.4 671H374.9M378.4 667H387.2M376.6 663H383.7M448.5 703H459.0M388.9 691H397.7M399.4 683H408.2M401.2 697H408.2M420.4 693H427.5" stroke="#808080" stroke-width="1.8" fill="none"/>
<path d="M627.4 747H633.9M490.0 703H495.3M564.6 711H570.9M486.8 693H491.6" stroke="#bf00bf" stroke-width="1.8" fill="none"/>
<path d="M572.5 733H579.2M496.7 721H506.7M615.9 751H619.1M524.3 715H536.6M656.9 801H661.8" stroke="#00bfbf" stroke-width="1.8" fill="none"/>
<path d="M537.6 727H540.3M593.5 741H604.5M546.1 737H550.9M589.4 771H601.6M641.9 773H643.9M642.1 755H645.7M637.3 783H642.3M554.3 717H561.8M568.3 719H572.2M503.8 721H519.0M499.0 701H505.7M342.2 711H345.1M373.1 673H387.2M345.1 659H353.9M352.1 743H360.9M450.2 711H459.0M453.7 727H460.7M383.7 699H390.7M394.2 677H404.7M422.2 707H431.0M453.7 713H464.2" stroke="#bfbf00" stroke-width="1.8" fill="none"/>
<path d="M183 314h0m8 0h0m34 0h0m-73 1h0m30 0h0m16 0h0m17 0h0m13 0h0m-47 1h0m8 0h0m21 0h0m13 0h0m1 0h0m6 0h0m-29 1h0m1 0h0m14 0h0m17 0h0m-88 1h0m42 0h0m42 0h0m-61 1h0m21 0h0m-28 1h0m42 0h0m2 0h0m7 0h0m1 0h0m11 0h0m-27 1h0m45 0h0m-109 1h0m1 0h0m2 0h0m12 0h0m59 0h0m10 0h0m5 0h0m9 0h0m7 0h0m1 0h0m-54 1h0m24 0h0m4 0h0m6 0h0m8 0h0m-71 1h0m3 0h0m1 0h0m9 0h0m43 0h0m17 0h0m11 0h0m4 0h0m-57 1h0m21 0h0m17 0h0m7 0h0m7 0h0m3 0h0m-26 1h0m1 0h0m7 0h0m6 0h0m7 0h0m4 0h0m-71 1h0m47 0h0m2 0h0m1 0h0m3 0h0m17 0h0m1 0h0m-19 1h0m3 0h0m4 0h0m2 0h0m12 0h0m-26 1h0m35 0h0m4 0h0m3 0h0m-85 1h0m36 0h0m10 0h0m3 0h0m4 0h0m17 0h0m4 0h0m6 0h0m4 0h0m4 0h0m-65 1h0m10 0h0m12 0h0m2 0h0m2 0h0m30 0h0m1 0h0m10 0h0m1 0h0m-50 1h0m16 0h0m14 0h0m1 0h0m7 0h0m14 0h0m-54 1h0m3 0h0m1 0h0m27 0h0m8 0h0m-33 1h0m1 0h0m14 0h0m13 0h0m8 0h0m3 0h0m3 0h0m8 0h0m-61 1h0m17 0h0m7 0h0m3 0h0m1 0h0m3 0h0m6 0h0m7 0h0m8 0h0m-32 1h0m2 0h0m1 0h0m1 0h0m2 0h0m25 0h0m-22 1h0m10 0h0m1 0h0m3 0h0m7 0h0m13 0h0m-70 1h0m41 0h0m1 0h0m7 0h0m3 0h0m6 0h0m-61 1h0m51 0h0m1 0h0m20 0h0m10 0h0m-9 1h0m12 0h0m-59 1h0m2 0h0m1 0h0m3 0h0m4 0h0m23 0h0m25 0h0m3 0h0m-57 1h0m11 0h0m3 0h0m4 0h0m14 0h0m3 0h0m-33 1h0m1 0h0m1 0h0m20 0h0m1 0h0m2 0h0m1 0h0m24 0h0m4 0h0m3 0h0m-60 1h0m14 0h0m3 0h0m24 0h0m11 0h0m10 0h0m-49 1h0m3 0h0m10 0h0m8 0h0m17 0h0m2 0h0m5 0h0m1 0h0m2 0h0m5 0h0m-51 1h0m28 0h0m21 0h0m-82 1h0m60 0h0m25 0h0m2 0h0m-59 1h0m28 0h0m7 0h0m28 0h0m-55 1h0m28 0h0m24 0h0m1 0h0m3 0h0m3 0h0m1 0h0m-52 1h0m21 0h0m2 0h0m1 0h0m20 0h0m7 0h0m-147 1h0m1 0h0m3 0h0m72 0h0m18 0h0m6 0h0m11 0h0m1 0h0m13 0h0m3 0h0m7 0h0m4 0h0m4 0h0m-34 1h0m35 0h0m8 0h0m1 0h0m-44 1h0m1 0h0m7 0h0m2 0h0m1 0h0m35 0h0m-79 1h0m1 0h0m37 0h0m1 0h0m31 0h0m8 0h0m6 0h0m-69 1h0m13 0h0m39 0h0m2 0h0m1 0h0m11 0h0m3 0h0m-50 1h0m3 0h0m20 0h0m1 0h0m20 0h0m-30 1h0m2 0h0m8 0h0m10 0h0m18 0h0m2 0h0m-39 1h0m20 0h0m11 0h0m4 0h0m-72 1h0m11 0h0m29 0h0m18 0h0m7 0h0m12 0h0m1 0h0m-64 1h0m35 0h0m1 0h0m26 0h0m1 0h0m-22 1h0m28 0h0m-53 1h0m11 0h0m23 0h0m7 0h0m-60 1h0m17 0h0m8 0h0m2 0h0m15 0h0m3 0h0m24 0h0m1 0h0m-60 1h0m3 0h0m60 0h0m-47 1h0m14 0h0m13 0h0m1 0h0m4 0h0m13 0h0m-71 1h0m25 0h0m6 0h0m19 0h0m6 0h0m10 0h0m1 0h0m8 0h0m-89 1h0m31 0h0m35 0h0m14 0h0m6 0h0m-8 1h0m10 0h0m-51 1h0m6 0h0m1 0h0m3 0h0m24 0h0m1 0h0m3 0h0m10 0h0m-60 1h0m10 0h0m34 0h0m4 0h0m-28 1h0m3 0h0m-15 1h0m4 0h0m3 0h0m42 0h0m3 0h0m-26 1h0m28 0h0m-28 1h0m3 0h0m1 0h0m6 0h0m1 0h0m17 0h0m-23 1h0m1 0h0m2 0h0m18 0h0m-35 1h0m1 0h0m13 0h0m1 0h0m2 0h0m1 0h0m13 0h0m1 0h0m-61 1h0m38 0h0m3 0h0m1 0h0m-9 1h0m22 0h0m1 0h0m-30 1h0m35 0h0m-64 1h0m30 0h0m11 0h0m1 0h0m2 0h0m2 0h0m21 0h0m2 0h0m-8 1h0m1 0h0m6 0h0m1 0h0m-6 2h0m1 0h0m-3 2h0m-24 2h0m1 0h0m13 0h0m10 0h0m-5 3h0m4 0h0m3 0h0m7 0h0m1 0h0m-27 2h0m3 0h0m17 0h0m1 2h0m1 0h0m-3 3h0m-2 1h0m1 0h0m5 2h0m3 0h0m1 0h0m-10 8h0m1 0h0m-47 5h0m56 7h0m-34 2h0m-10 7h0" stroke="#808080" stroke-width="1.05" stroke-linecap="square" fill="none" transform="translate(1 1) scale(2)"/>
<path d="M211 314h0m3 0h0m-31 1h0m28 0h0m7 0h0m4 0h0m-34 1h0m25 0h0m14 0h0m-22 1h0m-70 1h0m66 0h0m13 0h0m17 0h0m-53 1h0m49 0h0m6 0h0m2 0h0m-61 1h0m36 0h0m9 0h0m-64 1h0m66 0h0m-3 1h0m7 0h0m4 0h0m-47 1h0m38 0h0m-30 2h0m28 0h0m17 0h0m1 0h0m-65 1h0m46 0h0m23 0h0m-68 1h0m2 0h0m32 0h0m3 0h0m3 0h0m-8 1h0m10 1h0m22 0h0m2 0h0m12 0h0m-41 1h0m38 0h0m-26 1h0m11 0h0m16 0h0m9 0h0m-64 1h0m25 0h0m3 0h0m28 0h0m1 0h0m6 0h0m-26 1h0m4 0h0m3 0h0m32 0h0m-56 1h0m38 0h0m11 0h0m10 0h0m-68 1h0m21 0h0m3 0h0m10 0h0m5 0h0m7 0h0m24 0h0m-36 1h0m15 0h0m14 0h0m6 0h0m-64 1h0m21 0h0m35 0h0m-50 2h0m13 0h0m8 0h0m16 0h0m1 0h0m-12 1h0m10 0h0m14 0h0m8 0h0m-60 1h0m73 0h0m-12 1h0m10 0h0m-60 1h0m18 0h0m1 0h0m2 0h0m22 0h0m6 0h0m8 0h0m-37 1h0m7 0h0m3 0h0m18 0h0m20 1h0m-18 1h0m7 0h0m7 0h0m-41 1h0m4 0h0m4 0h0m16 0h0m29 0h0m-4 1h0m3 0h0m-57 1h0m14 0h0m21 0h0m10 0h0m8 0h0m-57 1h0m25 0h0m3 0h0m32 0h0m10 0h0m-68 1h0m1 0h0m58 0h0m8 0h0m3 0h0m-53 1h0m21 0h0m-5 1h0m1 0h0m2 0h0m12 0h0m6 0h0m-40 1h0m35 0h0m11 0h0m-43 1h0m-7 1h0m27 0h0m6 0h0m35 0h0m-45 1h0m38 0h0m1 0h0m3 0h0m7 0h0m-23 1h0m17 0h0m-84 1h0m6 0h0m25 0h0m26 0h0m37 0h0m1 0h0m-88 1h0m31 0h0m3 0h0m1 0h0m13 0h0m42 0h0m-71 1h0m34 0h0m29 0h0m11 0h0m-33 1h0m15 0h0m-75 1h0m38 0h0m24 0h0m11 0h0m-40 1h0m19 0h0m41 0h0m-43 1h0m4 0h0m-19 1h0m21 0h0m2 0h0m11 0h0m6 0h0m12 0h0m4 0h0m-12 1h0m8 0h0m6 0h0m-43 1h0m3 0h0m-109 1h0m123 0h0m16 1h0m4 0h0m-26 1h0m18 0h0m1 0h0m-82 1h0m72 0h0m5 0h0m9 0h0m-18 1h0m15 0h0m7 0h0m3 0h0m-19 1h0m17 1h0m-32 1h0m-53 1h0m68 0h0m-46 2h0m24 0h0m24 0h0m3 0h0m9 1h0m-17 1h0m7 0h0m-33 1h0m3 1h0m13 1h0m3 0h0m17 0h0m14 1h0m-10 2h0m5 0h0m-60 1h0m28 0h0m35 1h0m-9 2h0m1 0h0m-31 4h0m21 0h0m-2 1h0m20 0h0m-10 1h0m5 1h0m-5 1h0m11 4h0" stroke="#bf00bf" stroke-width="1.05" stroke-linecap="square" fill="none" transform="translate(1 1) scale(2)"/>
<path d="M193 314h0m5 0h0m2 0h0m4 0h0m3 0h0m1 0h0m7 0h0m3 0h0m-47 1h0m22 0h0m36 0h0m-62 1h0m4 0h0m35 0h0m11 0h0m2 0h0m-25 1h0m12 0h0m-23 1h0m15 0h0m7 0h0m23 0h0m-84 1h0m55 0h0m11 0h0m3 0h0m1 0h0m3 0h0m9 0h0m8 0h0m-28 1h0m10 0h0m11 0h0m7 0h0m-93 1h0m57 0h0m6 0h0m11 0h0m3 0h0m7 0h0m7 0h0m-18 1h0m7 0h0m-22 1h0m18 0h0m6 0h0m1 0h0m6 0h0m4 0h0m6 0h0m4 0h0m-60 1h0m39 0h0m2 0h0m12 0h0m-113 1h0m83 0h0m4 0h0m-67 1h0m48 0h0m20 0h0m7 0h0m1 0h0m6 0h0m22 0h0m3 0h0m-90 1h0m49 0h0m20 0h0m3 0h0m11 0h0m7 0h0m4 0h0m-61 1h0m21 0h0m3 0h0m14 0h0m4 0h0m3 0h0m6 0h0m8 0h0m3 0h0m-49 1h0m2 0h0m6 0h0m9 0h0m1 0h0m21 0h0m7 0h0m4 1h0m-42 1h0m14 0h0m15 0h0m17 0h0m2 0h0m-107 1h0m49 0h0m23 0h0m1 0h0m7 0h0m7 0h0m16 0h0m-39 1h0m3 0h0m42 0h0m-109 1h0m33 0h0m48 0h0m31 0h0m3 0h0m-70 1h0m45 0h0m7 0h0m10 0h0m3 0h0m-55 1h0m13 0h0m10 0h0m8 0h0m4 0h0m6 0h0m-26 1h0m7 0h0m29 0h0m2 0h0m8 0h0m3 0h0m4 0h0m-39 1h0m23 0h0m2 0h0m3 0h0m10 0h0m-46 1h0m7 0h0m3 0h0m25 0h0m6 0h0m10 0h0m-115 1h0m38 0h0m4 0h0m24 0h0m6 0h0m15 0h0m2 0h0m-38 1h0m43 0h0m7 0h0m6 0h0m3 0h0m-63 1h0m28 0h0m2 0h0m7 0h0m28 0h0m3 0h0m4 0h0m1 0h0m2 0h0m-58 1h0m19 0h0m4 0h0m1 0h0m18 0h0m9 0h0m-102 1h0m4 0h0m45 0h0m18 0h0m7 0h0m14 0h0m6 0h0m10 0h0m7 0h0m-123 1h0m39 0h0m51 0h0m5 0h0m3 0h0m3 0h0m12 0h0m2 0h0m-24 1h0m3 0h0m13 0h0m1 0h0m6 0h0m14 0h0m1 0h0m-92 1h0m31 0h0m4 0h0m3 0h0m17 0h0m14 0h0m17 0h0m-76 1h0m14 0h0m3 0h0m45 0h0m4 0h0m3 0h0m1 0h0m-27 1h0m1 0h0m3 0h0m20 0h0m11 0h0m-24 1h0m2 0h0m9 0h0m2 0h0m8 0h0m4 0h0m-106 1h0m51 0h0m4 0h0m4 0h0m7 0h0m6 0h0m17 0h0m25 0h0m-61 1h0m18 0h0m3 0h0m21 0h0m11 0h0m11 0h0m7 0h0m-26 1h0m18 0h0m-65 1h0m24 0h0m15 0h0m3 0h0m4 0h0m7 0h0m3 0h0m13 0h0m-72 1h0m24 0h0m31 0h0m14 0h0m7 0h0m-47 1h0m21 0h0m7 0h0m3 0h0m7 0h0m4 0h0m4 0h0m3 0h0m4 0h0m2 0h0m1 0h0m-14 1h0m10 0h0m-29 1h0m3 0h0m11 0h0m3 0h0m17 0h0m1 0h0m-65 1h0m7 0h0m12 0h0m2 0h0m1 0h0m18 0h0m6 0h0m9 0h0m-40 1h0m2 0h0m4 0h0m1 0h0m9 0h0m25 0h0m-22 1h0m27 0h0m4 0h0m-53 1h0m18 0h0m7 0h0m4 0h0m2 0h0m15 0h0m3 0h0m4 0h0m-82 1h0m28 0h0m18 0h0m6 0h0m7 0h0m4 0h0m-89 1h0m1 0h0m52 0h0m32 0h0m3 0h0m4 0h0m11 0h0m6 0h0m1 0h0m-82 1h0m10 0h0m28 0h0m35 0h0m-79 1h0m30 0h0m8 0h0m4 0h0m30 0h0m10 0h0m4 0h0m-34 1h0m21 0h0m18 0h0m-26 1h0m4 0h0m25 0h0m-47 1h0m11 0h0m18 0h0m17 0h0m-2 1h0m3 0h0m-42 1h0m18 0h0m21 0h0m3 0h0m-32 1h0m-34 1h0m17 0h0m40 0h0m-25 1h0m24 0h0m3 0h0m1 0h0m6 0h0m-115 1h0m2 0h0m94 0h0m1 0h0m6 0h0m-20 1h0m3 0h0m18 1h0m1 0h0m-15 1h0m-22 1h0m21 0h0m14 0h0m7 0h0m-5 1h0m1 0h0m-11 1h0m17 0h0m-2 1h0m-3 1h0m-3 1h0m-4 1h0m8 0h0m-11 1h0m3 0h0m2 1h0m-29 1h0m1 0h0m35 3h0m-51 1h0m14 4h0m14 3h0m-26 2h0m47 3h0m-46 2h0m45 4h0m5 10h0m-5 1h0m-34 7h0" stroke="#00bfbf" stroke-width="1.05" stroke-linecap="square" fill="none" transform="translate(1 1) scale(2)"/>
<path d="M184 314h0m2 0h0m8 0h0m27 0h0m1 0h0m-43 1h0m7 0h0m4 0h0m4 0h0m6 0h0m7 0h0m1 0h0m6 0h0m3 0h0m4 0h0m4 0h0m-53 1h0m10 0h0m13 0h0m4 0h0m10 0h0m3 0h0m4 0h0m4 0h0m6 0h0m-98 1h0m3 0h0m50 0h0m9 0h0m22 0h0m3 0h0m4 0h0m6 0h0m1 0h0m1 0h0m2 0h0m-80 1h0m13 0h0m7 0h0m1 0h0m21 0h0m13 0h0m11 0h0m6 0h0m4 0h0m7 0h0m3 0h0m-78 1h0m7 0h0m18 0h0m14 0h0m7 0h0m17 0h0m4 0h0m6 0h0m1 0h0m6 0h0m-101 1h0m42 0h0m17 0h0m25 0h0m3 0h0m7 0h0m3 0h0m4 0h0m-106 1h0m56 0h0m4 0h0m10 0h0m7 0h0m3 0h0m11 0h0m6 0h0m1 0h0m6 0h0m3 0h0m1 0h0m-70 1h0m35 0h0m7 0h0m2 0h0m15 0h0m4 0h0m3 0h0m1 0h0m6 0h0m1 0h0m-72 1h0m21 0h0m10 0h0m10 0h0m4 0h0m17 0h0m4 0h0m4 0h0m-86 1h0m1 0h0m3 0h0m1 0h0m20 0h0m6 0h0m33 0h0m2 0h0m12 0h0m9 0h0m4 0h0m2 0h0m-120 1h0m2 0h0m1 0h0m1 0h0m2 0h0m1 0h0m62 0h0m4 0h0m14 0h0m14 0h0m9 0h0m5 0h0m2 0h0m1 0h0m3 0h0m1 0h0m-85 1h0m2 0h0m7 0h0m14 0h0m15 0h0m20 0h0m8 0h0m2 0h0m1 0h0m10 0h0m3 0h0m5 0h0m-88 1h0m14 0h0m7 0h0m35 0h0m6 0h0m21 0h0m1 0h0m6 0h0m-106 1h0m59 0h0m14 0h0m14 0h0m3 0h0m4 0h0m4 0h0m4 0h0m2 0h0m-95 1h0m1 0h0m3 0h0m27 0h0m15 0h0m18 0h0m1 0h0m2 0h0m7 0h0m1 0h0m2 0h0m8 0h0m1 0h0m2 0h0m4 0h0m11 0h0m-106 1h0m3 0h0m32 0h0m23 0h0m1 0h0m3 0h0m21 0h0m3 0h0m1 0h0m10 0h0m4 0h0m6 0h0m-84 1h0m45 0h0m14 0h0m4 0h0m6 0h0m-52 1h0m28 0h0m13 0h0m3 0h0m1 0h0m3 0h0m10 0h0m8 0h0m3 0h0m3 0h0m-71 1h0m4 0h0m4 0h0m16 0h0m7 0h0m1 0h0m6 0h0m7 0h0m7 0h0m1 0h0m6 0h0m1 0h0m6 0h0m1 0h0m-99 1h0m1 0h0m2 0h0m1 0h0m1 0h0m13 0h0m20 0h0m5 0h0m14 0h0m6 0h0m4 0h0m14 0h0m4 0h0m9 0h0m7 0h0m-119 1h0m32 0h0m6 0h0m7 0h0m25 0h0m6 0h0m10 0h0m5 0h0m6 0h0m14 0h0m3 0h0m8 0h0m6 0h0m-85 1h0m42 0h0m1 0h0m14 0h0m4 0h0m6 0h0m1 0h0m4 0h0m3 0h0m3 0h0m4 0h0m4 0h0m2 0h0m1 0h0m-130 1h0m56 0h0m3 0h0m18 0h0m10 0h0m6 0h0m1 0h0m13 0h0m1 0h0m2 0h0m11 0h0m1 0h0m9 0h0m-123 1h0m73 0h0m14 0h0m2 0h0m13 0h0m7 0h0m3 0h0m4 0h0m3 0h0m1 0h0m-40 1h0m28 0h0m3 0h0m10 0h0m1 0h0m4 0h0m3 0h0m-26 1h0m3 0h0m8 0h0m3 0h0m3 0h0m4 0h0m3 0h0m4 0h0m-70 1h0m21 0h0m14 0h0m3 0h0m1 0h0m3 0h0m3 0h0m3 0h0m4 0h0m3 0h0m1 0h0m7 0h0m-12 1h0m3 0h0m6 0h0m1 0h0m4 0h0m-61 1h0m14 0h0m1 0h0m3 0h0m1 0h0m16 0h0m5 0h0m3 0h0m3 0h0m4 0h0m2 0h0m5 0h0m11 0h0m2 0h0m1 0h0m-78 1h0m20 0h0m21 0h0m24 0h0m4 0h0m4 0h0m7 0h0m-51 1h0m8 0h0m13 0h0m8 0h0m3 0h0m15 0h0m6 0h0m1 0h0m-88 1h0m27 0h0m3 0h0m1 0h0m17 0h0m10 0h0m1 0h0m13 0h0m4 0h0m3 0h0m3 0h0m5 0h0m-47 1h0m10 0h0m4 0h0m16 0h0m1 0h0m3 0h0m-102 1h0m61 0h0m23 0h0m5 0h0m6 0h0m4 0h0m14 0h0m9 0h0m1 0h0m-67 1h0m2 0h0m8 0h0m3 0h0m3 0h0m1 0h0m10 0h0m7 0h0m4 0h0m2 0h0m4 0h0m1 0h0m7 0h0m2 0h0m-133 1h0m1 0h0m3 0h0m18 0h0m51 0h0m13 0h0m23 0h0m18 0h0m3 0h0m3 0h0m4 0h0m11 0h0m-127 1h0m45 0h0m24 0h0m28 0h0m11 0h0m3 0h0m4 0h0m9 0h0m4 0h0m3 0h0m-56 1h0m6 0h0m1 0h0m1 0h0m3 0h0m3 0h0m1 0h0m6 0h0m7 0h0m1 0h0m6 0h0m1 0h0m2 0h0m2 0h0m6 0h0m3 0h0m1 0h0m2 0h0m2 0h0m-76 1h0m5 0h0m7 0h0m13 0h0m10 0h0m10 0h0m4 0h0m3 0h0m8 0h0m4 0h0m2 0h0m1 0h0m3 0h0m3 0h0m4 0h0m3 0h0m4 0h0m-85 1h0m28 0h0m11 0h0m6 0h0m3 0h0m12 0h0m9 0h0m8 0h0m6 0h0m1 0h0m1 0h0m-146 1h0m1 0h0m88 0h0m7 0h0m7 0h0m13 0h0m11 0h0m11 0h0m2 0h0m1 0h0m6 0h0m4 0h0m-84 1h0m2 0h0m22 0h0m3 0h0m7 0h0m11 0h0m3 0h0m4 0h0m13 0h0m4 0h0m-47 1h0m12 0h0m10 0h0m7 0h0m7 0h0m3 0h0m1 0h0m7 0h0m-41 1h0m5 0h0m6 0h0m7 0h0m14 0h0m11 0h0m2 0h0m1 0h0m4 0h0m6 0h0m7 0h0m-59 1h0m2 0h0m4 0h0m10 0h0m3 0h0m1 0h0m7 0h0m2 0h0m9 0h0m7 0h0m3 0h0m4 0h0m4 0h0m-88 1h0m52 0h0m6 0h0m1 0h0m2 0h0m7 0h0m1 0h0m3 0h0m4 0h0m7 0h0m6 0h0m1 0h0m2 0h0m-98 1h0m17 0h0m15 0h0m10 0h0m7 0h0m3 0h0m25 0h0m2 0h0m1 0h0m1 0h0m2 0h0m1 0h0m3 0h0m13 0h0m-23 1h0m6 0h0m10 0h0m4 0h0m3 0h0m1 0h0m-93 1h0m8 0h0m4 0h0m26 0h0m11 0h0m3 0h0m18 0h0m7 0h0m3 0h0m1 0h0m2 0h0m1 0h0m6 0h0m1 0h0m-92 1h0m21 0h0m29 0h0m13 0h0m1 0h0m3 0h0m7 0h0m1 0h0m6 0h0m3 0h0m1 0h0m6 0h0m-88 1h0m8 0h0m14 0h0m3 0h0m4 0h0m37 0h0m10 0h0m14 0h0m1 0h0m-68 1h0m14 0h0m28 0h0m4 0h0m9 0h0m9 0h0m-75 1h0m24 0h0m7 0h0m11 0h0m1 0h0m6 0h0m4 0h0m7 0h0m7 0h0m2 0h0m4 0h0m-70 1h0m3 0h0m4 0h0m20 0h0m28 0h0m3 0h0m3 0h0m1 0h0m7 0h0m4 0h0m3 0h0m-28 1h0m4 0h0m9 0h0m4 0h0m3 0h0m1 0h0m6 0h0m-25 1h0m6 0h0m8 0h0m-28 1h0m6 0h0m3 0h0m11 0h0m8 0h0m2 0h0m4 0h0m-68 1h0m35 0h0m11 0h0m3 0h0m1 0h0m3 0h0m3 0h0m3 0h0m-29 1h0m1 0h0m7 0h0m2 0h0m1 0h0m20 0h0m8 0h0m5 0h0m-124 1h0m101 0h0m11 0h0m-78 1h0m48 0h0m14 0h0m13 0h0m8 0h0m-102 1h0m56 0h0m42 0h0m10 0h0m1 0h0m-13 1h0m1 0h0m2 0h0m-13 1h0m3 0h0m8 0h0m9 0h0m1 0h0m-26 1h0m3 0h0m-50 1h0m46 0h0m3 0h0m17 0h0m1 0h0m-91 1h0m42 0h0m47 0h0m1 0h0m-71 1h0m48 0h0m1 0h0m6 0h0m3 1h0m7 0h0m-40 1h0m36 0h0m13 0h0m1 0h0m2 0h0m4 0h0m-30 2h0m11 0h0m14 0h0m3 0h0m-43 1h0m15 0h0m-36 1h0m55 0h0m5 0h0m3 0h0m-67 1h0m54 0h0m-12 2h0m18 0h0m6 0h0m-15 1h0m4 0h0m5 2h0m10 0h0m-14 1h0m1 0h0m4 1h0m1 0h0m-20 2h0m4 0h0m-22 1h0m42 0h0m-81 1h0m85 1h0m-10 1h0m-26 1h0m24 0h0m0 1h0m6 0h0m-32 1h0m-25 8h0m47 0h0m-21 2h0m3 1h0m34 0h0m-3 2h0m2 3h0m-29 3h0m16 2h0" stroke="#bfbf00" stroke-width="1.05" stroke-linecap="square" fill="none" transform="translate(1 1) scale(2)"/>
<path d="M181 314h0m14 0h0m4 0h0m4 0h0m10 0h0m3 0h0m4 0h0m4 0h0m-36 1h0m1 0h0m31 0h0m-5 1h0m10 0h0m6 0h0m-46 1h0m36 0h0m10 0h0m-26 2h0m27 0h0m4 0h0m0 1h0m-61 1h0m34 0h0m18 0h0m7 0h0m6 0h0m-109 1h0m1 0h0m3 0h0m45 0h0m21 0h0m5 0h0m6 0h0m14 0h0m-57 1h0m46 0h0m14 0h0m10 0h0m3 0h0m-85 1h0m1 0h0m73 0h0m14 0h0m-36 1h0m3 0h0m21 0h0m8 0h0m3 0h0m3 0h0m1 0h0m3 0h0m-112 1h0m55 0h0m27 0h0m25 0h0m-59 1h0m7 0h0m27 0h0m22 0h0m13 0h0m-89 1h0m11 0h0m18 0h0m27 0h0m35 0h0m-64 1h0m22 0h0m24 0h0m18 0h0m-37 1h0m1 0h0m13 0h0m21 0h0m4 0h0m-79 1h0m29 0h0m8 0h0m2 0h0m6 0h0m15 0h0m10 0h0m1 0h0m10 0h0m-49 1h0m10 0h0m1 0h0m9 0h0m1 0h0m7 0h0m3 0h0m13 0h0m7 0h0m-46 1h0m28 0h0m17 0h0m-67 1h0m25 0h0m4 0h0m14 0h0m11 0h0m9 0h0m1 0h0m-37 1h0m1 0h0m2 0h0m7 0h0m4 0h0m4 0h0m16 0h0m-28 1h0m4 0h0m11 0h0m13 0h0m5 0h0m3 0h0m3 0h0m4 0h0m-43 1h0m9 0h0m1 0h0m13 0h0m21 0h0m1 0h0m-33 1h0m10 0h0m1 0h0m-49 1h0m55 0h0m3 0h0m7 0h0m1 0h0m-54 1h0m38 0h0m6 0h0m15 0h0m7 0h0m-77 1h0m21 0h0m6 0h0m42 0h0m8 0h0m7 0h0m-51 1h0m3 0h0m1 0h0m6 0h0m1 0h0m6 0h0m18 0h0m-43 1h0m21 0h0m4 0h0m28 0h0m7 0h0m4 0h0m-116 1h0m65 0h0m1 0h0m2 0h0m1 0h0m13 0h0m24 0h0m1 0h0m10 0h0m-42 1h0m2 0h0m1 0h0m1 0h0m6 0h0m32 0h0m-15 1h0m6 0h0m11 0h0m-30 1h0m14 0h0m7 0h0m12 0h0m2 0h0m1 0h0m-80 1h0m28 0h0m23 0h0m17 0h0m4 0h0m7 0h0m-98 1h0m10 0h0m28 0h0m3 0h0m25 0h0m20 0h0m14 0h0m-101 1h0m2 0h0m54 0h0m45 0h0m3 0h0m-150 1h0m3 0h0m1 0h0m72 0h0m18 0h0m2 0h0m1 0h0m3 0h0m11 0h0m3 0h0m7 0h0m13 0h0m-63 1h0m52 0h0m8 0h0m3 0h0m-25 1h0m3 0h0m1 0h0m6 0h0m-40 1h0m38 0h0m1 0h0m3 0h0m25 0h0m3 0h0m11 0h0m2 0h0m-72 1h0m38 0h0m7 0h0m4 0h0m2 0h0m4 0h0m17 0h0m-50 1h0m1 0h0m6 0h0m7 1h0m2 0h0m5 0h0m11 0h0m14 0h0m-34 1h0m1 0h0m2 0h0m15 0h0m23 0h0m-39 1h0m1 0h0m11 0h0m25 0h0m2 0h0m4 0h0m-54 1h0m22 0h0m3 0h0m21 0h0m-110 1h0m83 0h0m28 0h0m7 0h0m4 0h0m-76 1h0m21 0h0m2 0h0m1 0h0m10 0h0m1 0h0m10 0h0m6 0h0m8 0h0m20 0h0m-77 1h0m27 0h0m17 0h0m1 0h0m24 0h0m7 0h0m-64 1h0m1 0h0m42 0h0m3 0h0m10 0h0m7 0h0m-57 1h0m7 0h0m1 0h0m37 0h0m14 0h0m-50 1h0m29 0h0m21 0h0m-92 1h0m31 0h0m1 0h0m44 0h0m4 0h0m4 0h0m3 0h0m-19 1h0m10 0h0m8 0h0m-49 1h0m3 0h0m3 0h0m1 0h0m4 0h0m2 0h0m1 0h0m7 0h0m10 0h0m13 0h0m-53 1h0m25 0h0m16 0h0m1 0h0m4 0h0m2 0h0m4 0h0m-32 1h0m1 0h0m-13 1h0m1 0h0m3 0h0m1 0h0m41 0h0m6 0h0m1 0h0m-64 1h0m24 0h0m36 0h0m-39 1h0m3 0h0m10 0h0m1 0h0m2 0h0m11 0h0m1 0h0m-6 1h0m-35 1h0m21 0h0m3 0h0m14 0h0m1 0h0m9 0h0m1 0h0m7 0h0m-68 1h0m1 0h0m2 0h0m38 0h0m1 0h0m3 0h0m14 1h0m-39 1h0m-20 1h0m1 0h0m27 0h0m39 0h0m2 0h0m-55 1h0m45 0h0m3 0h0m-1 2h0m3 0h0m-5 2h0m2 0h0m1 0h0m-24 2h0m1 0h0m9 0h0m1 0h0m6 0h0m-26 2h0m31 1h0m1 0h0m6 0h0m1 0h0m3 0h0m-27 2h0m1 0h0m16 0h0m1 0h0m2 1h0m1 0h0m1 1h0m-6 3h0m1 0h0m9 1h0m-9 2h0m3 0h0m1 0h0m2 0h0m1 0h0m-6 2h0m-4 1h0m-153 3h0m154 2h0m-47 5h0m1 0h0" stroke="#808080" stroke-width="1.05" stroke-linecap="square" fill="none" transform="translate(1 1) scale(2)"/>
<path d="M188 314h0m1 0h0m37 0h0m-16 1h0m3 0h0m-23 1h0m31 0h0m-57 1h0m35 0h0m15 0h0m4 0h0m2 0h0m-84 1h0m53 0h0m14 0h0m10 0h0m3 0h0m1 0h0m6 0h0m-19 1h0m3 1h0m4 0h0m18 0h0m3 0h0m-54 1h0m32 0h0m-42 1h0m27 0h0m10 0h0m-57 1h0m53 0h0m3 0h0m4 0h0m6 0h0m4 0h0m20 0h0m8 0h0m-65 1h0m35 0h0m14 0h0m2 0h0m9 0h0m2 0h0m-64 1h0m16 0h0m-11 1h0m59 0h0m-46 1h0m21 0h0m22 1h0m-14 1h0m3 0h0m-24 1h0m3 0h0m6 0h0m11 0h0m25 0h0m13 0h0m-29 1h0m22 0h0m-5 1h0m-46 1h0m20 0h0m10 0h0m21 0h0m14 0h0m-24 1h0m7 0h0m17 0h0m-23 1h0m21 0h0m-21 1h0m11 0h0m18 1h0m-46 1h0m46 0h0m3 0h0m2 0h0m-96 1h0m52 0h0m35 0h0m3 0h0m-78 1h0m63 0h0m-4 1h0m20 0h0m1 0h0m-54 1h0m18 0h0m14 0h0m14 0h0m9 0h0m-73 1h0m70 0h0m17 0h0m-40 1h0m1 0h0m7 0h0m13 0h0m8 0h0m-27 1h0m1 0h0m35 0h0m1 0h0m-9 1h0m4 0h0m-75 1h0m42 0h0m11 0h0m13 0h0m-21 1h0m3 0h0m11 0h0m28 0h0m-58 1h0m1 0h0m44 0h0m14 0h0m-35 1h0m1 0h0m34 0h0m-68 1h0m5 0h0m2 0h0m1 0h0m45 0h0m12 1h0m-69 1h0m48 0h0m10 0h0m25 0h0m-27 1h0m2 0h0m9 0h0m-14 1h0m32 0h0m-6 1h0m4 0h0m-39 1h0m38 0h0m-108 1h0m73 0h0m41 0h0m-53 1h0m10 0h0m-15 1h0m15 0h0m-2 1h0m42 0h0m10 0h0m9 0h0m-13 1h0m-29 2h0m18 0h0m-134 1h0m110 0h0m-12 1h0m23 0h0m2 0h0m32 0h0m-59 1h0m41 0h0m-26 1h0m6 0h0m1 0h0m12 3h0m3 0h0m8 0h0m3 0h0m3 0h0m11 0h0m-50 1h0m16 0h0m-25 1h0m41 0h0m-10 1h0m6 0h0m1 0h0m21 0h0m-61 1h0m7 0h0m18 0h0m23 0h0m-27 1h0m6 0h0m34 1h0m-43 2h0m32 1h0m8 0h0m-17 2h0m-7 1h0m8 0h0m-13 1h0m1 0h0m23 7h0m1 0h0m5 1h0m-108 1h0m67 0h0m40 0h0m-1 5h0m-14 3h0m1 0h0m18 2h0m0 1h0m-38 6h0m34 1h0" stroke="#bf00bf" stroke-width="1.05" stroke-linecap="square" fill="none" transform="translate(1 1) scale(2)"/>
<path d="M179 314h0m30 0h0m3 0h0m7 0h0m-80 1h0m45 0h0m17 0h0m8 0h0m14 0h0m-26 1h0m8 0h0m3 0h0m3 0h0m11 0h0m6 0h0m1 0h0m-51 1h0m17 0h0m1 0h0m21 0h0m15 0h0m-88 1h0m68 0h0m8 0h0m10 0h0m4 0h0m-78 1h0m27 0h0m4 0h0m3 0h0m8 0h0m2 0h0m15 0h0m-36 1h0m14 0h0m5 0h0m10 0h0m10 0h0m3 0h0m1 0h0m3 0h0m3 0h0m10 0h0m-36 1h0m22 0h0m17 0h0m-39 1h0m17 0h0m5 0h0m17 0h0m-47 1h0m11 0h0m16 0h0m4 0h0m10 0h0m10 0h0m-11 1h0m1 0h0m12 0h0m-122 1h0m1 0h0m1 0h0m58 0h0m39 0h0m-44 1h0m42 0h0m13 0h0m3 0h0m1 0h0m6 0h0m4 0h0m1 0h0m-18 1h0m3 0h0m4 0h0m3 0h0m3 0h0m1 0h0m-112 1h0m92 0h0m4 0h0m14 0h0m7 0h0m6 0h0m-45 1h0m11 0h0m4 0h0m17 0h0m-15 1h0m7 0h0m7 0h0m2 0h0m8 0h0m6 0h0m-63 1h0m10 0h0m18 0h0m19 0h0m-27 1h0m3 0h0m1 0h0m20 0h0m7 0h0m1 0h0m13 0h0m-95 1h0m55 0h0m1 0h0m16 0h0m12 0h0m3 0h0m6 0h0m5 0h0m2 0h0m2 0h0m-103 1h0m8 0h0m35 0h0m30 0h0m4 0h0m1 0h0m2 0h0m11 0h0m7 0h0m4 0h0m-34 1h0m28 0h0m-38 1h0m31 0h0m21 0h0m2 1h0m-103 1h0m15 0h0m21 0h0m29 0h0m30 0h0m8 0h0m-30 1h0m35 0h0m-78 1h0m35 0h0m28 0h0m13 0h0m4 0h0m-76 1h0m17 0h0m24 0h0m17 0h0m4 0h0m-26 1h0m14 0h0m3 0h0m24 0h0m1 0h0m-32 1h0m3 0h0m22 0h0m7 0h0m-41 1h0m21 0h0m14 0h0m10 0h0m-139 1h0m59 0h0m37 0h0m22 0h0m3 0h0m5 0h0m6 0h0m4 0h0m-81 1h0m31 0h0m24 0h0m1 0h0m2 0h0m14 0h0m14 0h0m1 0h0m-62 1h0m4 0h0m1 0h0m2 0h0m4 0h0m1 0h0m31 0h0m7 0h0m10 0h0m7 0h0m-98 1h0m17 0h0m1 0h0m13 0h0m1 0h0m2 0h0m5 0h0m42 0h0m7 0h0m7 0h0m9 0h0m-77 1h0m34 0h0m1 0h0m13 0h0m11 0h0m7 0h0m9 0h0m-17 1h0m3 0h0m14 0h0m5 0h0m-44 1h0m17 0h0m8 0h0m7 0h0m9 0h0m1 0h0m-32 1h0m2 0h0m23 0h0m2 0h0m-14 1h0m3 0h0m3 0h0m4 0h0m-60 1h0m27 0h0m32 0h0m2 0h0m4 0h0m-42 1h0m1 0h0m16 0h0m22 0h0m-41 1h0m14 0h0m18 0h0m4 0h0m14 0h0m10 0h0m-33 1h0m4 0h0m11 0h0m8 0h0m3 0h0m3 0h0m7 0h0m4 0h0m-36 1h0m2 0h0m18 0h0m10 0h0m8 0h0m-92 1h0m39 0h0m6 0h0m3 0h0m25 0h0m1 0h0m20 0h0m-63 1h0m31 0h0m4 0h0m2 0h0m1 0h0m7 0h0m13 0h0m8 0h0m-72 1h0m36 0h0m2 0h0m11 0h0m18 0h0m-56 1h0m17 0h0m1 0h0m20 0h0m3 0h0m15 0h0m2 0h0m1 0h0m-58 1h0m7 0h0m18 0h0m4 0h0m13 0h0m4 0h0m-119 1h0m20 0h0m68 0h0m13 0h0m25 0h0m-36 1h0m-9 1h0m21 0h0m4 0h0m3 0h0m6 0h0m6 0h0m6 0h0m-26 1h0m1 0h0m7 0h0m-13 1h0m8 0h0m9 0h0m16 0h0m2 0h0m-48 1h0m41 0h0m10 0h0m-19 1h0m14 0h0m3 0h0m-46 1h0m2 0h0m21 0h0m2 0h0m-14 1h0m17 0h0m6 0h0m7 0h0m-1 1h0m8 0h0m-15 1h0m-99 1h0m79 0h0m15 0h0m7 0h0m13 0h0m-37 1h0m16 0h0m7 0h0m4 0h0m1 1h0m-74 1h0m1 0h0m6 0h0m24 0h0m26 0h0m25 0h0m-88 1h0m83 0h0m2 0h0m1 0h0m-8 1h0m3 0h0m8 0h0m-68 1h0m45 0h0m1 0h0m6 0h0m1 0h0m10 0h0m4 0h0m-12 1h0m-50 1h0m40 1h0m-67 1h0m82 0h0m2 0h0m-6 2h0m-42 1h0m28 0h0m4 0h0m7 0h0m-9 1h0m11 0h0m-19 1h0m-3 2h0m3 3h0m21 1h0m-17 1h0m-21 2h0m27 9h0m20 4h0" stroke="#00bfbf" stroke-width="1.05" stroke-linecap="square" fill="none" transform="translate(1 1) scale(2)"/>
<path d="M150 314h0m11 0h0m10 0h0m3 0h0m18 0h0m4 0h0m10 0h0m11 0h0m6 0h0m-70 1h0m11 0h0m8 0h0m9 0h0m10 0h0m4 0h0m4 0h0m3 0h0m1 0h0m3 0h0m6 0h0m4 0h0m3 0h0m5 0h0m2 0h0m1 0h0m-75 1h0m18 0h0m14 0h0m9 0h0m1 0h0m7 0h0m6 0h0m11 0h0m-89 1h0m1 0h0m4 0h0m31 0h0m10 0h0m17 0h0m5 0h0m6 0h0m4 0h0m2 0h0m2 0h0m13 0h0m4 0h0m2 0h0m-52 1h0m3 0h0m21 0h0m17 0h0m7 0h0m1 0h0m6 0h0m-101 1h0m37 0h0m7 0h0m1 0h0m14 0h0m10 0h0m6 0h0m1 0h0m10 0h0m1 0h0m2 0h0m4 0h0m3 0h0m1 0h0m-38 1h0m23 0h0m1 0h0m16 0h0m4 0h0m4 0h0m-92 1h0m27 0h0m29 0h0m3 0h0m6 0h0m4 0h0m1 0h0m2 0h0m1 0h0m3 0h0m3 0h0m4 0h0m7 0h0m-27 1h0m6 0h0m4 0h0m3 0h0m4 0h0m3 0h0m3 0h0m1 0h0m3 0h0m3 0h0m4 0h0m-105 1h0m6 0h0m62 0h0m4 0h0m11 0h0m6 0h0m3 0h0m1 0h0m4 0h0m7 0h0m-86 1h0m1 0h0m7 0h0m34 0h0m7 0h0m16 0h0m4 0h0m2 0h0m10 0h0m1 0h0m10 0h0m-124 1h0m1 0h0m1 0h0m2 0h0m4 0h0m3 0h0m42 0h0m32 0h0m13 0h0m3 0h0m1 0h0m3 0h0m4 0h0m3 0h0m3 0h0m-88 1h0m3 0h0m36 0h0m13 0h0m4 0h0m6 0h0m11 0h0m3 0h0m8 0h0m6 0h0m11 0h0m-31 1h0m3 0h0m3 0h0m1 0h0m7 0h0m2 0h0m11 0h0m3 0h0m1 0h0m-47 1h0m10 0h0m4 0h0m4 0h0m3 0h0m7 0h0m7 0h0m7 0h0m6 0h0m1 0h0m-99 1h0m3 0h0m1 0h0m6 0h0m57 0h0m18 0h0m6 0h0m1 0h0m6 0h0m1 0h0m2 0h0m-104 1h0m2 0h0m1 0h0m10 0h0m27 0h0m1 0h0m44 0h0m4 0h0m4 0h0m6 0h0m-74 1h0m24 0h0m12 0h0m3 0h0m10 0h0m10 0h0m10 0h0m2 0h0m6 0h0m3 0h0m1 0h0m1 0h0m-34 1h0m28 0h0m1 0h0m3 0h0m4 0h0m3 0h0m-72 1h0m18 0h0m21 0h0m25 0h0m3 0h0m7 0h0m-102 1h0m63 0h0m3 0h0m4 0h0m1 0h0m30 0h0m-87 1h0m27 0h0m3 0h0m25 0h0m3 0h0m7 0h0m4 0h0m3 0h0m3 0h0m1 0h0m3 0h0m4 0h0m2 0h0m5 0h0m2 0h0m1 0h0m-126 1h0m55 0h0m14 0h0m1 0h0m9 0h0m25 0h0m1 0h0m10 0h0m3 0h0m5 0h0m2 0h0m-78 1h0m25 0h0m10 0h0m15 0h0m2 0h0m8 0h0m3 0h0m3 0h0m1 0h0m3 0h0m7 0h0m-50 1h0m25 0h0m2 0h0m1 0h0m1 0h0m6 0h0m3 0h0m4 0h0m4 0h0m4 0h0m2 0h0m8 0h0m-71 1h0m4 0h0m14 0h0m14 0h0m3 0h0m10 0h0m1 0h0m2 0h0m5 0h0m2 0h0m1 0h0m13 0h0m1 0h0m-72 1h0m31 0h0m4 0h0m8 0h0m16 0h0m2 0h0m2 0h0m8 0h0m7 0h0m-70 1h0m2 0h0m21 0h0m4 0h0m1 0h0m3 0h0m7 0h0m6 0h0m4 0h0m4 0h0m7 0h0m6 0h0m3 0h0m1 0h0m3 0h0m-71 1h0m17 0h0m15 0h0m3 0h0m11 0h0m2 0h0m1 0h0m3 0h0m3 0h0m4 0h0m4 0h0m3 0h0m7 0h0m-56 1h0m24 0h0m1 0h0m3 0h0m3 0h0m4 0h0m1 0h0m2 0h0m7 0h0m7 0h0m-56 1h0m3 0h0m14 0h0m4 0h0m13 0h0m7 0h0m4 0h0m3 0h0m10 0h0m1 0h0m3 0h0m4 0h0m-79 1h0m3 0h0m1 0h0m38 0h0m2 0h0m5 0h0m10 0h0m1 0h0m3 0h0m2 0h0m16 0h0m-67 1h0m17 0h0m1 0h0m3 0h0m7 0h0m10 0h0m1 0h0m20 0h0m10 0h0m1 0h0m-58 1h0m4 0h0m3 0h0m3 0h0m31 0h0m1 0h0m1 0h0m3 0h0m1 0h0m6 0h0m2 0h0m-65 1h0m11 0h0m37 0h0m3 0h0m8 0h0m6 0h0m-81 1h0m21 0h0m18 0h0m2 0h0m4 0h0m7 0h0m4 0h0m7 0h0m3 0h0m10 0h0m4 0h0m4 0h0m6 0h0m-150 1h0m3 0h0m1 0h0m101 0h0m3 0h0m1 0h0m2 0h0m1 0h0m1 0h0m9 0h0m8 0h0m3 0h0m3 0h0m1 0h0m3 0h0m4 0h0m9 0h0m-43 1h0m7 0h0m1 0h0m9 0h0m11 0h0m3 0h0m4 0h0m10 0h0m-53 1h0m11 0h0m3 0h0m14 0h0m18 0h0m4 0h0m3 0h0m1 0h0m-102 1h0m24 0h0m24 0h0m13 0h0m4 0h0m18 0h0m6 0h0m1 0h0m2 0h0m1 0h0m3 0h0m1 0h0m2 0h0m4 0h0m1 0h0m-72 1h0m10 0h0m4 0h0m3 0h0m14 0h0m1 0h0m2 0h0m1 0h0m7 0h0m3 0h0m1 0h0m3 0h0m7 0h0m6 0h0m2 0h0m2 0h0m2 0h0m2 0h0m-145 1h0m1 0h0m71 0h0m21 0h0m3 0h0m4 0h0m6 0h0m15 0h0m6 0h0m10 0h0m4 0h0m3 0h0m4 0h0m4 0h0m-100 1h0m46 0h0m4 0h0m9 0h0m1 0h0m17 0h0m3 0h0m1 0h0m2 0h0m7 0h0m4 0h0m1 0h0m2 0h0m4 0h0m-116 1h0m57 0h0m17 0h0m8 0h0m7 0h0m3 0h0m6 0h0m1 0h0m3 0h0m11 0h0m6 0h0m-74 1h0m11 0h0m3 0h0m3 0h0m25 0h0m10 0h0m4 0h0m6 0h0m8 0h0m3 0h0m3 0h0m-112 1h0m34 0h0m14 0h0m8 0h0m23 0h0m6 0h0m2 0h0m4 0h0m7 0h0m4 0h0m2 0h0m1 0h0m11 0h0m-117 1h0m22 0h0m48 0h0m24 0h0m3 0h0m4 0h0m1 0h0m2 0h0m4 0h0m4 0h0m3 0h0m3 0h0m-63 1h0m6 0h0m1 0h0m3 0h0m3 0h0m4 0h0m14 0h0m4 0h0m13 0h0m4 0h0m4 0h0m4 0h0m-91 1h0m2 0h0m13 0h0m25 0h0m21 0h0m4 0h0m4 0h0m16 0h0m1 0h0m-37 1h0m18 0h0m3 0h0m3 0h0m5 0h0m6 0h0m3 0h0m4 0h0m3 0h0m-55 1h0m9 0h0m12 0h0m6 0h0m1 0h0m3 0h0m8 0h0m2 0h0m1 0h0m10 0h0m4 0h0m-55 1h0m14 0h0m7 0h0m4 0h0m3 0h0m1 0h0m10 0h0m4 0h0m2 0h0m1 0h0m4 0h0m3 0h0m-82 1h0m7 0h0m18 0h0m6 0h0m4 0h0m4 0h0m17 0h0m18 0h0m8 0h0m-67 1h0m13 0h0m3 0h0m11 0h0m20 0h0m4 0h0m10 0h0m7 0h0m1 0h0m-134 1h0m118 0h0m6 0h0m1 0h0m3 0h0m-28 1h0m8 0h0m13 0h0m1 0h0m6 0h0m1 0h0m2 0h0m1 0h0m-47 1h0m21 0h0m7 0h0m21 0h0m-145 1h0m74 0h0m39 0h0m2 0h0m1 0h0m18 0h0m6 0h0m-94 1h0m24 0h0m55 0h0m10 0h0m11 0h0m-133 1h0m48 0h0m15 0h0m13 0h0m34 0h0m8 0h0m10 1h0m-91 1h0m27 0h0m35 0h0m27 0h0m1 0h0m3 0h0m-4 1h0m1 0h0m2 0h0m-49 1h0m10 0h0m18 0h0m2 0h0m7 0h0m1 0h0m3 0h0m3 0h0m7 0h0m-95 1h0m64 0h0m10 0h0m1 0h0m2 0h0m4 0h0m6 0h0m1 0h0m7 0h0m-50 1h0m10 0h0m11 0h0m3 0h0m1 0h0m27 0h0m-75 1h0m14 0h0m43 1h0m-64 1h0m47 0h0m1 0h0m6 0h0m18 0h0m3 0h0m3 0h0m4 1h0m-64 1h0m25 0h0m37 0h0m-29 1h0m26 0h0m4 0h0m-5 1h0m6 0h0m-29 1h0m17 1h0m7 0h0m3 0h0m-116 1h0m104 0h0m4 0h0m3 0h0m3 0h0m4 0h0m-13 1h0m-20 1h0m-47 1h0m64 0h0m13 1h0m3 0h0m-25 1h0m-42 1h0m49 0h0m3 0h0m3 0h0m-8 1h0m7 0h0m3 0h0m3 0h0m-39 1h0m25 0h0m-43 1h0m17 0h0m18 0h0m11 0h0m-30 1h0m1 0h0m34 0h0m-87 1h0m59 0h0m25 2h0m-43 2h0m19 1h0m7 0h0m0 4h0m2 15h0m15 2h0m1 0h0" stroke="#bfbf00" stroke-width="1.05" stroke-linecap="square" fill="none" transform="translate(1 1) scale(2)"/>
<path d="M248.2 651.9H256.0" stroke="#00bfbf" stroke-width="1.8" fill="none"/>
<path d="M255.5 651.9H274.5M255.5 635.2H261.3" stroke="#bfbf00" stroke-width="1.8" fill="none"/>
<path d="M261.3 646.0H274.5" stroke="#808080" stroke-width="1.8" fill="none"/>
<path d="M268.6 636.1H274.5" stroke="#bf00bf" stroke-width="1.8" fill="none"/>
<path d="M127.0 647.2h0M147.3 647.2h0M161.6 647.2h0M172.7 647.2h0M181.8 647.2h0M189.5 647.2h0M196.1 647.2h0M189.5 656.5h0M202.0 660.5h0M172.7 669.8h0M147.3 692.2h0M207.3 642.4h0M224.0 628.5h0M233.7 630.3h0M239.2 665.0h0M241.8 665.0h0M244.2 665.0h0" stroke="#bfbf00" stroke-width="1.8" stroke-linecap="square" fill="none"/>
<path d="M161.6 637.3h0M172.7 637.3h0M181.8 637.3h0M196.1 660.3h0" stroke="#00bfbf" stroke-width="1.8" stroke-linecap="square" fill="none"/>
<path d="M189.5 637.3h0M196.1 637.3h0M202.0 637.3h0M207.3 637.3h0M212.0 637.3h0M216.3 637.3h0M220.3 637.3h0M224.0 637.3h0M227.5 637.3h0M127.0 640.7h0M147.3 640.7h0M161.6 640.7h0M172.7 640.7h0M181.8 640.7h0M189.5 640.7h0M196.1 640.7h0M202.0 640.7h0M207.3 640.7h0M212.0 640.7h0M216.3 640.7h0M220.3 640.7h0M224.0 640.7h0M241.8 656.5h0M244.2 656.5h0M246.6 656.5h0M248.8 656.5h0" stroke="#808080" stroke-width="1.8" stroke-linecap="square" fill="none"/>
<path d="M207.3 661.3h0M212.0 661.3h0M216.3 661.3h0M220.3 661.3h0M224.0 661.3h0M227.5 661.3h0M212.0 633.5h0" stroke="#bf00bf" stroke-width="1.8" stroke-linecap="square" fill="none"/>
</g>
<path d="M92.5 52.2H183.6M185.0 53.6H241.9M244.3 87.5H288.5M289.2 108.4H296.4M297.0 149.1H316.7M317.3 171.4H484.0M484.1 227.3H597.0M597.1 240.5H654.5M654.6 243.4H666.3" stroke="#808080" stroke-width="1.4" fill="none"/>
<path d="M92.5 52.2 183.6 52.2 185.0 53.6 241.9 53.6 244.3 87.5 288.5 87.5 289.2 108.4 296.4 108.4 297.0 149.1 316.7 149.1 317.3 171.4 484.0 171.4 484.1 227.3 597.0 227.3 597.1 240.5 654.5 240.5 654.6 243.4 666.3 243.4" stroke="#ff0000" stroke-width="1.4" fill="none" stroke-dasharray="4.4 1.9"/>
<path d="M92.5 346.6H224.8M227.8 353.4H236.5M239.4 362.1H284.2M285.0 452.8H294.8M295.6 402.3H312.3M312.8 361.4H320.7M321.2 424.4H359.9M360.5 421.0H372.6M372.8 396.0H381.3M381.5 430.0H390.5M390.7 496.8H416.5M417.3 432.0H423.4M423.5 443.2H430.5M430.6 484.3H437.8M439.7 411.0H443.3M444.0 409.7H449.3M450.0 407.3H453.4M453.5 424.2H459.0M459.2 390.5H466.1M466.2 438.6H471.4M471.5 483.8H481.0M481.1 433.8H485.9" stroke="#808080" stroke-width="1.4" fill="none"/>
<path d="M92.5 346.6 224.8 346.6 227.8 353.4 236.5 353.4 239.4 362.1 284.2 362.1 285.0 452.8 294.8 452.8 294.8 369.8 295.6 402.3 312.3 402.3 312.8 361.4 320.7 361.4 321.2 424.4 359.9 424.4 360.5 421.0 372.6 421.0 372.8 396.0 381.3 396.0 381.5 430.0 390.5 430.0 390.7 496.8 416.5 496.8 416.6 376.0 417.3 432.0 423.4 432.0 423.5 443.2 430.5 443.2 430.6 484.3 437.8 484.3 437.9 443.4 439.7 411.0 443.3 411.0 443.5 382.0 444.0 409.7 449.3 409.7 449.5 354.4 450.0 407.3 453.4 407.3 453.5 424.2 459.0 424.2 459.2 390.5 466.1 390.5 466.2 438.6 471.4 438.6 471.5 483.8 481.0 483.8 481.1 433.8 485.9 433.8 486.0 462.7" stroke="#ff0000" stroke-width="1.4" fill="none" stroke-dasharray="4.4 1.9"/>
<path d="M92.5 640.5H216.7M220.3 660.2H226.9M230.5 668.4H246.6M248.8 656.7H273.3M274.8 664.2H283.1M284.0 674.2H293.3M293.6 746.7H302.1M303.5 696.0H306.0M306.5 709.5H362.8M363.0 697.8H371.0M371.3 674.1H376.0M376.3 687.4H392.0M394.5 791.3H401.2M403.8 691.0H414.6M414.6 681.0H417.0M420.5 705.0H427.0M427.2 726.3H435.7M442.2 770.0H460.0M460.2 737.5H467.8M472.4 796.0H483.6" stroke="#808080" stroke-width="1.4" fill="none"/>
<path d="M92.5 640.5 216.7 640.5 220.3 660.2 226.9 660.2 230.5 668.4 246.6 668.4 248.8 656.7 273.3 656.7 274.8 664.2 283.1 664.2 284.0 674.2 293.3 674.2 293.6 746.7 302.1 746.7 302.1 664.1 303.5 696.0 306.0 696.0 306.5 709.5 362.8 709.5 363.0 697.8 371.0 697.8 371.3 674.1 376.0 674.1 376.3 687.4 392.0 687.4 392.3 694.8 394.3 694.8 394.5 791.3 401.2 791.3 401.2 680.0 403.8 691.0 414.6 691.0 414.6 681.0 417.0 681.0 418.0 672.5 420.0 672.5 420.5 705.0 427.0 705.0 427.2 726.3 435.7 726.3 435.9 680.4 437.5 670.5 440.0 697.0 442.0 697.0 442.2 770.0 460.0 770.0 460.2 737.5 467.8 737.5 468.0 735.0 470.0 666.0 472.2 680.0 472.4 796.0 483.6 796.0 483.8 700.0" stroke="#ff0000" stroke-width="1.4" fill="none" stroke-dasharray="4.4 1.9"/>
<path d="M486.0 462.7H486.5H487.5H488.5H489.5H490.5H491.5V383.3H492.5H493.5H494.5H495.5V378.0H496.5V423.5H497.5H498.5H499.5H500.5H501.5V386.2H502.5H503.5H504.5H505.5V374.2H506.5H507.5V358.6H508.5H509.5H510.5V343.6V435.5H511.5V379.9V545.6V421.5H512.5H513.5H514.5H515.5V376.4H516.5H517.5H518.5V436.0V344.9H519.5V429.4H520.5H521.5V443.6V354.2H522.5V384.2V497.0V454.4H523.5V402.7H524.5V397.8V360.1V419.2H525.5V444.4H526.5H527.5H528.5H529.5V436.3V398.9H530.5H531.5H532.5V433.7V394.2V396.9V378.1H533.5V435.9H534.5V465.2V378.4H535.5V410.4V362.7H536.5V378.4H537.5V397.7V415.5V387.6V394.2H538.5H539.5V389.1V463.3V419.5V372.4H540.5V368.9V399.2H541.5H542.5V467.9V365.8H543.5V360.4V410.8H544.5V364.0V436.2V364.7H545.5V366.9V423.8H546.5V371.0V373.9V399.4V381.8H547.5V375.8V418.5V440.6V421.1V394.8H548.5V364.9V409.9H549.5V397.9V353.0V444.7V402.3V347.9H550.5V348.0V354.2V364.4V394.6H551.5V405.9H552.5V392.4V469.8V509.7V410.7H553.5H554.5V410.8V374.4H555.5H556.5V379.3V353.0V352.7H557.5V382.2V431.9V344.2H558.5V413.8V418.4V358.0H559.5V421.5V404.8V416.8V456.8V453.8H560.5V402.6V402.2H561.5V398.9V409.0V386.8V388.2V383.5H562.5V442.3V443.5V401.3V348.8H563.5V359.5V459.0V351.3V406.3V424.5V381.1V362.2H564.5V411.7V380.6V434.9H565.5V389.0V361.5V521.3V411.4H566.5V390.7V373.1V449.4V444.4V524.6V401.2H567.5V370.2V450.1V385.7V391.6V381.1V355.5V392.3V382.6H568.5V387.4V436.5H569.5V421.0V371.7V418.2V436.8V387.4V377.1V378.1H570.5V413.1H571.5V453.3V359.3V354.5V359.4H572.5V357.6V457.0V353.2V366.4H573.5V451.3V435.2V370.7H574.5V404.2V386.8V365.8V371.9V399.7V375.1V369.7V369.8H575.5V380.0V458.1V381.7V375.0V385.8V393.8H576.5V408.7V411.9V360.7H577.5V392.2V400.7V409.8V428.1V408.9V403.0H578.5V404.1V396.2V382.0V396.8H579.5V360.1V440.1V448.4V365.8H580.5V403.9V386.5H581.5V391.5V381.0V370.0V411.4V442.2H582.5V445.9V418.5V354.0V383.7V386.7V462.5V392.9H583.5V362.8V399.5V371.7V369.1V382.5V387.6V420.4H584.5V391.9V398.0V361.8H585.5V389.6V422.4V503.6V453.3V369.2H586.5V535.3V449.9V408.5V383.2V419.2V456.6V408.5V357.3V417.4V376.7V358.8V371.2V405.7H587.5V387.7V428.4V364.7V410.0V404.7V368.1V390.9H588.5V382.5V382.7V428.9V451.2V554.9V429.8V398.1V429.0H589.5V362.7V430.8V446.2V442.8V386.0V391.3V352.5H590.5V410.8V367.3V442.7V395.9V414.8V392.4H591.5V364.7V427.8V383.3V428.9V404.0V387.3V360.7V397.1V454.0V524.6V389.2H592.5V420.9V353.9V404.2V358.6V431.0V365.0V344.9H593.5V380.6V357.4V413.1V394.5V411.7V343.9V436.0V402.1V423.8H594.5V362.7V410.6V423.7V375.5V417.9V367.6V413.3H595.5V421.1V445.3V404.2V350.0V376.5V557.5V418.8V350.8V389.7V398.1V356.7V388.8V383.3V375.3V459.4H596.5V380.8V415.3V374.8V415.5V386.5V399.7V402.1V398.9V401.6H597.5V389.5V436.1V381.9V463.4V418.4V363.3V382.7V365.0V406.4V418.7V404.1V376.0V405.7V448.3H598.5V393.7V403.5V382.4V405.1V423.2V406.8V386.0V372.5V365.3H599.5V356.7V403.9V386.7V358.6V439.2V373.1V397.9V447.1V429.7V384.0V378.5V400.9V382.6V389.8V361.2V420.9H600.5V433.0V412.0V422.2V393.2V443.6V365.1V380.1V436.0V395.3V366.7V391.2V397.1V408.0H601.5V376.0V373.3V359.6V448.7V370.6V430.2V371.3V406.2H602.5V354.5V421.1V342.3V357.5V444.3V445.8V388.7V417.3V433.6V383.6V399.8V400.0V521.1H603.5V355.8V426.4V410.9V380.6V446.4V398.1V411.1V358.8V424.5V412.0V392.1V415.1H604.5V414.6V394.5V374.9V435.9V375.0H605.5V368.3V410.5V378.3V405.8V387.7V411.8V398.0V397.0V414.6V346.0V405.8V373.6V393.1V370.4H606.5V395.9V436.7V411.7V392.6V466.7V399.8V386.6V366.6V390.2V404.7V418.2H607.5V409.6V443.1V401.6V476.1V406.5V412.3V354.6V423.1V417.5V398.5V416.5V444.6H608.5V354.2V361.5V435.6V364.2V394.6V401.1V421.8V389.3V352.0V381.3V419.9V410.9V404.8V391.0H609.5V433.8V403.0V434.7V379.0V362.5V405.4V353.6V390.4V397.9V361.4V461.6V424.1V408.3V430.3V397.2V446.0V398.5V381.7V350.9V433.4H610.5V384.5V408.6V464.0V442.7V378.3V404.8V380.6V387.1V378.9V382.3V349.2V369.0V381.7V367.4V414.4V382.8V352.6V488.1H611.5V439.7V346.4V391.5V380.2V415.2V363.1V367.0V420.3V401.8V385.6V451.2V383.9V358.3V379.0V441.2V370.9V393.0H612.5V355.9V407.8V413.8V357.7V383.1V408.0V453.3V393.9V422.4V407.7V371.2V401.1V369.4V398.3V375.5V528.6V364.1H613.5V443.9V388.4V400.2V359.0V451.8V439.5V397.4V402.6V405.1V445.6V439.6V374.3V354.5V414.7V434.1H614.5V371.5V383.9V427.6V362.5V410.9V405.3V359.2V396.4V414.7V395.0V408.0V404.8V384.0V373.0V355.1V452.8V401.1H615.5V405.1V351.2V385.0V374.8V442.3V380.9V356.1V363.8V439.6V386.2V436.2V399.1V420.1V426.9V391.0V430.7V369.0V396.7V451.4H616.5V432.1V364.2V421.2V354.2V403.5V407.9V412.4V408.7V393.7V415.0V369.0V402.9V392.4V360.8V396.3V454.4V432.6H617.5V462.8V441.5V443.1V367.2V420.3V415.6V425.3V394.6V439.1H618.5V390.4V347.8V413.9V365.2V370.7V398.4V412.3V391.2V356.8V399.5V379.5V391.0V432.1V387.1V446.3V438.5V379.2H619.5V359.2V375.1V462.2V391.3V386.8V402.8V425.8V397.1V362.2V389.6V411.7V494.2V364.5V417.2V460.7V366.3V397.4V367.6V430.1V401.5H620.5V382.3V411.4V495.4V384.6V363.0V446.9V449.6V495.7V416.1V413.2V417.1V430.6V401.9V383.8V366.4V385.1V454.3V387.3H621.5V417.6V384.8V380.7V403.6V407.1V429.6V404.4V430.7V464.4V393.2V416.1V353.2V367.3V445.0V434.6V365.4V451.4V398.3V407.9V399.9H622.5V361.7V431.2V422.0V431.8V442.9V426.0V405.4V367.0V371.5V444.1V355.9V416.8V406.5V405.5V359.0V417.0V410.7V478.8V386.5V404.9H623.5V397.9V398.3V389.2V354.5V387.6V383.8V396.0V354.3V366.3V384.1V471.5V435.3V383.4V357.3V436.7H624.5V384.8V417.6V380.3V392.1V445.3V453.8V381.6V396.1V413.0V395.0V370.8V379.1V356.4V375.2V365.9V377.8V358.5V405.9V438.9V469.0H625.5V369.7V398.7V421.6V373.9V433.2V396.7V377.9V410.2V345.2V440.2V371.6V359.4V372.8V381.2V448.9V400.0V400.5V366.3V354.0V401.9H626.5V378.0V367.5V426.4V384.5V353.4V384.4V374.3V409.3V411.1V424.2V376.5V407.3V510.0V432.9V382.8V408.8V380.0V406.5V355.7V411.9H627.5V374.9V446.0V403.5V427.4V446.6V469.4V374.5V372.5V415.3V394.0V367.9V408.7V407.5V389.2V392.0V381.4V381.2V412.4V367.0V414.9H628.5V379.0V417.7V406.2V399.1V353.1V413.9V451.3V442.6V413.9V382.9V397.1V395.3V350.3V432.5V465.7V379.4V364.7V364.7V364.5V432.8H629.5V397.0V441.0V407.4V409.4V393.0V448.1V410.0V397.0V406.0V354.2V408.1V407.3V441.4V415.7V387.9V359.7V408.2V383.0H630.5V346.9V364.5V435.3V387.7V472.0V397.8V383.7V469.6V434.8V527.6V444.8V441.6V435.0V438.9V404.3V410.7V406.5V357.8V371.3V374.2H631.5V403.8V421.6V381.2V442.2V365.1V378.2V402.4V440.1V440.2V404.5V406.6V409.2V420.8V413.8V383.5V407.1H632.5V377.5V375.0V400.9V399.7V405.6V409.6V409.6V411.5V378.1V457.8V393.4V348.2V385.7V394.6V381.3V353.7V354.5V359.7V384.0V389.7H633.5V418.1V385.4V358.1V389.9V397.8V381.2V430.3V343.8V388.2V416.1V451.1V417.5V496.3V428.2V399.9V408.7V384.8V413.8V350.6V383.4H634.5V438.1V406.6V394.4V411.3V362.2V372.7V391.4V391.4V423.4V390.8V403.7V387.5V383.7V442.5V423.9V383.1V421.9V344.9V385.4V391.2H635.5V407.9V378.3V386.7V458.3V414.6V396.4V368.3V393.8V378.7V430.8V445.9V409.7V409.8V403.0V345.7V362.3V439.1V425.8V431.2V359.3H636.5V372.7V383.8V401.8V414.2V410.3V345.8V384.6V344.9V437.9V414.7V357.4V471.8V380.5V399.7V351.6V354.2V401.0V403.9V444.8V388.9H637.5V408.8V401.3V388.7V402.4V450.4V404.0V414.2V399.6V385.0V365.2V392.1V423.7V394.3V381.9V383.5V391.1V407.9V396.2V380.4V453.0H638.5V397.7V401.3V364.7V463.7V400.9V404.2V414.5V401.5V368.9V420.9V409.1V352.5V367.5V362.9V363.8V390.5V356.1V396.7V394.4V446.4H639.5V382.7V352.8V398.6V421.5V431.8V356.6V354.8V408.2V419.0V415.0V445.6V432.1V499.2V375.4V444.1V391.2V392.1V350.3V392.4V388.1H640.5V412.0V416.9V408.9V382.1V382.1V421.1V415.4V356.8V378.9V443.7V400.8V378.7V466.2V355.9V416.3V384.9V399.6V433.5V407.0V377.3H641.5V400.0V420.5V367.4V420.9V442.4V412.7V399.4V461.1V409.9V479.7V393.4V403.0V360.1V409.1V370.6V396.0V479.7V410.1V380.9V421.6H642.5V365.3V449.6V373.3V373.0V406.3V374.6V368.7V366.6V432.5V417.1V367.3V392.3V408.8V406.6V394.9V374.6V419.8V446.5V434.9V412.2H643.5V438.1V434.8V351.7V348.9V414.3V359.9V405.4V365.9V383.0V349.4V431.4V426.6V405.1V383.2V449.0V433.6V405.1V433.6V429.7V427.5H644.5V409.4V360.5V382.2V447.4V412.9V357.1V378.3V404.0V433.6V394.7V412.2V448.4V389.4V425.8V444.7V367.7V407.4V432.1V401.1V393.3H645.5V389.5V374.7V394.9V408.9V444.7V388.9V383.0V418.1V396.5V393.7V416.9V378.8V410.8V442.7V429.5V358.0V477.1V368.1V411.3V374.3V549.6V357.7H646.5V343.4V397.6V439.1V444.7V374.7V392.6V408.2V382.6V362.2V424.4V384.6V364.9V427.9V457.9V366.0V379.0V402.3V385.8V409.6V384.6H647.5V353.2V358.1V399.9V368.4V418.5V352.3V410.0V390.0V386.7V382.0V379.4V367.3V396.4V404.7V391.9V427.7V433.6V415.8V380.6V367.6H648.5V399.4V398.6V394.1V419.4V386.8V381.0V364.8V447.4V371.6V348.7V403.7V400.8V421.7V442.6V420.7V389.2V390.4V362.7V456.5V391.6H649.5V411.4V398.8V393.0V446.0V407.7V400.3V392.1V389.2V402.0V419.3V413.2V394.7V449.9V362.1V345.7V398.2V355.1V417.4V434.0V364.1H650.5V379.2V436.5V432.1V402.7V373.0V379.7V418.5V433.7V346.0V425.4V382.5V430.9V400.0V347.5V395.0V391.9V370.9V357.8V399.8V424.9H651.5V407.2V417.5V344.8V398.9V375.2V441.2V366.4V453.4V384.9V395.4V505.7V376.6V402.8V347.0V413.6V358.3V384.8V397.7V391.1V347.2H652.5V412.2V400.1V453.6V342.0V452.7V374.9V434.8V393.5V438.4V427.8V449.2V367.0V416.8V406.9V393.9V392.9V452.3V355.0V427.5V438.8H653.5V373.9V425.7V430.1V404.7V444.9V362.9V461.7V447.3V488.0V451.7V429.8V397.2V419.7V416.0V417.0V439.1V422.2V385.1V410.3V384.1H654.5V361.6V364.1V517.7V361.8V431.8V414.1V382.6V439.9V497.7V366.6V381.8V381.0V381.4V394.6V407.2V464.5V397.0V363.1V396.8V379.0H655.5V389.4V368.7V402.2V399.2V440.1V387.7V412.2V383.1V368.1V410.2V421.8V359.3V521.9V374.1V382.8V450.9V401.6V397.0V380.6V390.5H656.5V398.1V399.7V403.0V344.2V413.0V434.5V358.7V428.4V414.4V361.3V348.9V370.6V458.1V360.5V370.7V431.5V457.9V382.5V413.6V400.0H657.5V384.8V372.4V374.6V436.1V520.3V389.4V416.3V377.6V390.2V382.1V401.3V391.2V398.5V436.3V355.4V413.9V392.3V387.8V386.6V361.1H658.5V491.4V505.8V470.9V484.4V438.1V418.7V438.2V345.3V367.1V435.8V353.6V403.8V402.9V375.9V409.7V415.4V429.0V346.1V428.4V387.6H659.5V374.0V371.1V350.4V366.3V357.8V401.8V381.1V365.0V442.0V366.9V387.8V406.8V395.3V346.5V412.9V504.0V403.7V451.9V460.0V365.4H660.5V365.9V407.3V384.4V401.5V405.0V431.3V410.7V422.7V483.0V414.5V486.0V384.6V438.6V414.2V369.5V427.7V421.8V382.8V394.5V405.6V566.0V425.7H661.5V395.1V391.4V398.1V404.7V390.3V376.2V398.2V409.7V375.7V423.3V396.3V366.1V409.6V422.4V434.7V450.0V352.0V379.2V368.9V373.7H662.5V415.0V384.8V362.2V396.6V396.3V398.6V381.1V414.4V426.8V386.4V387.5V422.2V368.0V360.5V367.6V454.0V394.6V372.9V397.1V424.0H663.5V363.2V433.2V379.6V386.5V366.7V452.6V437.0V462.7V459.9V422.5V348.4V383.5V388.4V408.3V424.7V403.2V363.5V398.4V396.5V396.7H664.5V376.4V381.1V406.5V354.5V470.5V445.7V395.5V372.4V558.5V448.0V354.2V407.4V426.5V357.5V417.2V408.5V438.5V400.4V424.1V384.7H665.5V342.8V381.3V420.2V438.0V342.3V416.8V400.9V369.8V382.7V379.9V368.5V426.2V364.6V390.7V403.9V406.6V436.7V445.1V416.7V425.1" stroke="#ff0000" stroke-width="1.6" fill="none" stroke-dasharray="4.4 1.9"/>
<path d="M483.8 700.0H484.5H485.5V659.9H486.5H487.5H488.5H489.5V675.7V759.9H490.5V670.8H491.5V752.5V720.7V688.7H492.5H493.5H494.5V729.0H495.5H496.5H497.5H498.5H499.5V675.6V692.8H500.5H501.5V734.4V678.5H502.5H503.5H504.5V709.3H505.5V696.4V764.7V746.6H506.5V654.4V671.4H507.5H508.5V687.1H509.5V680.0H510.5H511.5V671.7H512.5V674.3H513.5V654.4H514.5H515.5V839.6V695.0H516.5V741.3V673.6H517.5H518.5H519.5V649.9H520.5H521.5H522.5V644.9V753.9H523.5H524.5H525.5V661.9H526.5H527.5H528.5V678.0V708.2V705.6H529.5V656.0V642.3H530.5V707.8H531.5V726.6H532.5V685.9H533.5V747.7H534.5V749.3V654.3H535.5H536.5H537.5V731.1H538.5V688.1V679.9V680.6H539.5V812.5V745.4H540.5V716.5V658.0V701.7H541.5V694.5V707.5H542.5V714.9V633.1V802.0V673.8H543.5H544.5V721.8V675.6H545.5V681.4V685.3V733.8H546.5V737.1V672.5V812.4V693.7V730.2V706.4H547.5V695.8V680.9H548.5V709.7V691.6V739.4H549.5H550.5V678.6V721.9V701.3V703.8H551.5V675.9V688.2V672.7V705.1H552.5V741.0V777.0V669.3H553.5V761.7H554.5V703.5V711.3H555.5V707.8V652.1V705.4H556.5V655.2V669.7V663.5V708.5V657.8H557.5V675.3V732.8V640.8H558.5V699.5V711.4H559.5V648.5V708.7V709.1V741.4H560.5V685.8H561.5V685.3V658.0V729.6V692.9H562.5V671.8V682.9H563.5V707.1V699.5V675.1V716.6V720.9H564.5V659.0V676.4V670.0H565.5V660.3H566.5V675.9V805.1V728.3V653.2V742.6V665.8V713.5H567.5V741.8V655.1V694.6V743.8H568.5V740.2V651.0V742.2V699.0V676.9H569.5V713.1V701.9V661.8V677.9V673.9V740.7H570.5V737.3V794.7V701.5H571.5V665.4V807.7V699.2H572.5V657.1V680.9V678.3V679.1V746.1H573.5V724.6V698.5V730.1V711.3V658.0H574.5V697.6V678.9V685.0V680.9H575.5V697.5V808.4V685.2H576.5V722.2V699.1V678.6V668.4V683.2V763.0V689.0V734.8V803.7H577.5V688.3V687.8V693.5V707.5V714.6V804.7V679.4H578.5V790.0V689.7V694.6V727.5V701.0V661.7V734.0V661.4H579.5V698.4V656.3H580.5V698.7V671.8V663.8V742.8V657.0V681.7V703.4H581.5V685.3V725.2V700.3V718.2V696.5H582.5V688.1V685.3V776.1V706.7V677.0H583.5V701.3V658.2V674.9V692.4V684.0V679.5V649.6V688.3V667.9V723.5V715.1V662.1H584.5V677.5V660.3V732.9H585.5V649.2V717.7V656.9V712.2V693.6V793.8V707.0V706.1H586.5V705.8V696.5V680.3V700.8V715.1V650.8H587.5V690.4V738.7V732.4V770.8V695.4V688.8V681.9V691.4V651.0H588.5V657.9V699.6V732.2V676.3V678.8H589.5V681.4V689.6V687.8V713.1V694.9H590.5V678.9V681.3V648.3V759.5V691.2V728.2V658.9V728.5V709.4H591.5V664.0V711.4V669.2V684.8V679.4V679.6V660.5V729.0V727.0V734.6H592.5V707.3V684.1V640.4V688.0V667.3V683.7V667.5V679.1V724.5H593.5V698.8V661.5V711.1V705.6V698.8V694.7V665.4V785.9H594.5V659.1V718.2V703.1V666.7V706.0V671.3V780.8V700.0V786.1H595.5V734.1V698.8V693.7V688.6V714.1V674.3V683.1V754.2V784.7V706.7H596.5V656.3V674.7V713.2V700.5V652.6V667.0V782.0V693.6V675.6V689.4H597.5V681.9V662.0V728.1V671.4V648.4V720.5V693.2V780.6V681.6V700.3H598.5V692.7V682.0V740.8V685.7V731.8V695.3V738.8V692.1V696.2H599.5V659.8V700.6V686.7H600.5V658.5V679.8V663.8V670.6V703.1V663.1V666.9V682.2V719.5V746.1V669.4V732.7V761.4H601.5V676.3V656.0V684.7V674.3V656.2V754.0V669.7V698.3V730.2H602.5V740.3V688.0V696.7V650.4V689.5V657.2V658.0V683.8V663.2V858.0V680.3V712.8V804.8V704.8H603.5V702.9V731.5V668.7V675.6V688.2V694.9V709.2V676.0V650.4V770.8V713.8H604.5V665.3V710.0V679.7V693.4V733.3V649.1V722.4V768.3V731.7V636.2V691.8V697.8V677.0V749.9H605.5V682.4V753.2V713.1V703.0V736.2V721.4V671.1V752.7V654.0V708.7V746.2V686.8V676.2V657.0V756.2V692.1H606.5V750.7V678.6V697.5V678.6V717.4V741.6V675.2V656.5V688.7H607.5V690.3V687.3V716.4V659.2V729.7V690.9V727.0V648.6V679.2V736.7V733.3V687.5V734.7V654.6V717.2V786.8H608.5V694.2V700.6V649.0V707.2V743.4V746.3V675.7V651.8V675.5V779.5V697.4V699.8H609.5V685.4V727.3V755.6V702.5V745.3V703.3V693.7H610.5V665.0V718.2V675.3V687.6V657.3V683.4V677.3V670.8V690.3V704.2V677.7V697.1V677.3V747.3V684.1H611.5V767.0V760.2V718.0V725.7V659.7V672.2V737.0V712.2V677.7V695.4V703.7V711.5H612.5V708.5V657.9V705.3V718.6V763.7V685.6V682.9V676.7V693.6V711.6V743.4V690.8V664.8V731.0V666.5V666.7V648.2H613.5V701.4V639.2V667.8V679.2V689.7V746.5V687.2V681.5V728.1V745.3V689.9V740.2V666.0H614.5V676.9V678.4V699.2V716.3V698.2V649.4V663.8V759.2V678.7V701.3V669.9V738.1V688.5V752.8V696.9H615.5V708.0V733.3V745.5V683.3V677.0V677.4V650.9V733.9V705.9V746.3V723.9V771.4V763.9V693.8V699.3V649.4V657.9V670.1V679.4V691.8H616.5V692.2V723.1V746.2V742.2V677.2V649.3V679.0V658.4V703.3V775.3V756.0V664.6V676.4H617.5V680.7V676.4V680.4V649.3V715.0V652.3V724.1V790.3V728.9V706.9V686.5V655.1V721.4V680.2V675.4V689.8V651.7V686.7V699.4V743.5H618.5V671.7V682.4V719.1V649.2V667.0V685.2V642.6V756.5V731.9V655.5V689.6V744.9V675.2V668.9V729.2V653.0V737.7V686.5V640.2V748.1H619.5V666.9V688.5V713.9V702.9V692.0V688.0V662.9V715.2V657.2V680.2V637.9V715.8V662.6V724.3V666.2V689.2V711.4H620.5V699.4V793.6V678.2V694.9V785.6V683.5V683.8V686.8V653.6V684.2V715.5V688.4V698.7V746.8V673.4V736.3V701.2V679.3H621.5V732.8V689.2V726.0V724.4V769.3V755.9V780.7V713.1V682.8V687.8V696.6V715.4V669.6V736.0V716.5V714.5V716.2V672.9V650.1V653.3H622.5V662.7V693.9V745.7V733.4V689.5V734.8V731.6V665.8V728.9V700.0V724.1V777.3V699.4V694.2V740.7V652.7H623.5V701.4V679.4V688.7V740.3V705.9V671.9V758.7V683.1V726.5V670.6V703.3V677.3V717.4V668.5V655.4V693.1V638.9V699.7V667.2V686.6H624.5V835.3V681.5V691.5V776.9V676.5V681.8V656.4V729.4V691.2V654.7V681.9V740.0V830.6V699.8H625.5V654.7V694.7V735.3V634.9V664.8V726.5V744.5V664.4V741.1V746.9V690.0V685.1V690.8V672.9V674.1V660.1V701.2V737.5V715.1V693.5H626.5V751.8V660.8V714.7V675.7V673.8V634.9V780.0V673.2V711.2V735.0V698.0V650.5V657.1V649.6V653.8V681.0V718.5V677.2V658.3V655.7H627.5V660.6V682.4V692.5V655.3V692.8V775.3V686.6V689.0V670.9V687.9V688.0V651.0V702.1V681.4V719.0V633.7V658.1V713.8V648.3V736.9H628.5V679.8V655.6V698.6V791.9V758.5V708.3V657.1V660.0V689.2V676.2V674.1V727.4V728.4V708.2V736.2V682.6V679.0V743.3V774.7V674.3H629.5V661.3V693.8V702.3V674.2V703.0V742.8V699.6V651.2V673.1V694.0V712.1V659.4V765.8V709.1V659.8V716.1V673.5V669.9V643.2V732.8H630.5V721.1V679.8V666.3V684.9V719.1V663.0V688.7V719.5V652.2V684.3V739.0V669.5V702.0V663.3V679.7V796.7V756.3V689.2V650.7V664.7H631.5V666.3V677.0V654.1V668.5V771.9V728.1V683.4V652.0V732.6V721.5V721.8V676.9V674.2V709.1V745.2V700.8V686.0V695.0V694.1V729.6H632.5V690.9V704.8V721.3V674.7V653.9V644.1V708.1V660.5V679.5V688.8V667.2V693.0V659.4V682.3V653.3V676.9V654.4V688.3V710.0V689.8H633.5V691.1V698.3V723.1V690.6V738.5V695.4V708.4V739.0V658.5V653.1V746.7V675.0V730.7V680.4V681.6V684.9V687.5V758.0V688.9V677.5H634.5V689.8V744.1V697.0V764.9V721.0V740.1V716.0V651.8V696.8V722.5V652.0V675.3V678.5V677.3V722.0V681.8V775.1V735.4V687.1V693.1H635.5V698.1V661.4V678.8V670.2V776.3V686.7V698.2V707.4V730.3V687.3V663.2V691.0V671.1V695.8V643.3V700.1V664.1V707.3V673.5V672.6H636.5V679.3V691.3V655.5V702.4V668.1V681.9V728.4V681.4V708.2V657.6V665.6V653.9V667.7V774.2V733.2V741.4V683.4V757.6V705.5V749.3H637.5V675.7V673.6V714.5V743.8V663.5V669.4V678.7V699.3V702.4V755.4V659.9V744.8V648.8V639.7V695.0V679.0V737.4V694.0V729.5V790.3H638.5V698.4V679.1V678.2V760.6V653.9V737.6V680.7V673.6V718.4V699.7V721.4V684.6V698.4V815.2V699.8V669.0V762.1V720.9V665.9V649.7H639.5V650.6V685.7V739.9V692.0V747.7V677.7V780.4V658.3V670.3V705.4V741.7V715.8V690.9V702.4V717.7V742.3V654.3V694.3V666.6V713.0H640.5V696.7V725.4V708.9V695.3V723.9V671.8V717.5V732.1V680.7V675.7V702.0V728.3V650.5V694.4V726.8V791.5V707.8V706.6V672.6V655.2H641.5V667.6V758.1V703.2V758.2V676.5V735.8V743.5V644.4V654.3V728.3V682.6V695.1V677.5V695.8V697.4V729.3V679.1V716.0V668.2V653.3H642.5V652.7V709.7V680.1V750.6V707.7V655.3V695.1V713.9V701.3V661.6V739.6V686.1V704.8V803.5V674.0V704.7V685.1V708.4V655.3V673.2V807.0V683.4H643.5V682.5V679.9V716.1V696.9V762.9V697.4V693.4V743.8V653.9V701.9V694.4V691.2V717.8V651.5V755.3V731.1V703.6V655.4V711.4V741.4H644.5V691.9V734.0V701.6V713.1V718.8V717.6V712.1V680.1V692.0V738.1V696.0V681.6V700.7V676.0V729.3V675.9V678.3V649.0V664.5V709.8H645.5V699.4V730.5V664.3V826.9V686.5V771.2V697.9V682.8V673.0V649.4V762.5V686.9V739.9V648.0V679.3V742.5V694.1V728.0V704.3V752.1H646.5V659.7V672.1V688.1V706.9V729.8V660.5V662.4V772.8V703.6V696.3V679.6V656.9V761.8V719.2V713.2V660.3V698.3V724.0V674.8V633.1H647.5V653.6V686.9V717.0V713.6V654.5V696.4V753.7V681.4V650.4V650.0V698.5V700.7V746.4V743.4V653.8V681.8V647.7V761.5V829.1V635.2H648.5V671.3V734.0V704.7V694.4V702.7V704.8V743.2V683.7V666.2V693.0V672.2V685.1V728.5V744.4V764.8V700.3V749.0V703.8V706.9V701.4H649.5V710.9V757.9V733.1V649.9V679.4V737.0V655.8V644.2V747.3V753.1V676.1V721.2V721.6V699.1V685.4V713.0V672.6V691.3V740.0V691.6H650.5V730.3V682.7V685.0V707.3V707.6V685.4V694.9V708.8V690.9V663.1V691.2V762.2V678.9V690.0V705.0V730.8V675.0V658.6V717.7V692.9V819.6V700.0H651.5V652.7V743.2V730.7V720.0V672.8V770.3V741.1V732.6V673.2V714.0V700.6V701.3V735.7V660.7V755.2V729.7V679.0V680.7V806.7V744.7H652.5V698.9V748.2V751.4V652.5V707.8V650.2V719.7V770.9V666.7V729.6V675.5V642.9V724.4V688.7V709.7V677.5V735.9V679.7V749.2V654.2H653.5V682.6V671.7V703.7V688.9V648.9V715.1V694.5V726.8V674.3V681.6V678.5V762.7V698.9V693.3V685.3V705.9V699.5V706.5V676.0V705.9H654.5V695.1V660.2V690.5V699.6V721.3V686.9V804.0V792.3V689.2V673.8V745.8V727.2V677.5V732.2V692.7V681.8V650.1V683.1V713.7V694.3H655.5V703.0V755.6V692.5V678.6V703.1V710.1V807.2V673.5V655.0V652.9V820.9V700.3V707.1V739.0V705.3V772.8V679.7V689.1V686.9V676.7H656.5V759.3V706.7V705.6V680.6V758.1V650.5V671.4V773.0V660.2V690.4V700.7V693.3V704.9V688.5V648.9V677.5V742.0V785.8V699.5V652.3H657.5V746.3V718.2V671.9V651.5V758.8V710.5V672.2V739.7V715.0V674.9V685.1V696.9V814.8V648.7V699.6V760.7V663.8V715.7V719.0V684.1H658.5V659.7V729.8V677.8V712.2V701.9V678.6V774.3V673.5V671.1V697.2V654.3V741.7V775.5V671.0V694.2V652.6V814.3V681.2V691.4V688.2H659.5V727.0V684.9V741.6V716.3V774.0V655.6V658.8V749.3V702.1V689.2V719.7V683.4V661.2V687.2V791.5V669.9V679.9V657.6V665.1V708.6H660.5V659.1V717.5V704.1V704.0V706.4V666.9V748.6V757.8V711.7V668.5V686.0V669.1V769.0V718.3V700.8V670.8V710.2V678.6V680.7V673.7H661.5V678.0V678.2V673.2V773.9V697.0V696.9V758.0V657.3V729.9V757.6V680.5V693.4V668.1V677.7V707.7V675.7V712.0V649.1V656.3V730.9H662.5V664.8V690.0V681.9V695.4V699.6V765.7V668.0V702.3V653.8V648.5V663.7V739.1V678.1V751.9V668.2V733.8V667.8V718.4V760.7V686.9V859.6V709.1H663.5V694.1V694.0V763.7V710.0V858.0V731.3V731.4V665.5V712.7V740.3V758.3V681.9V749.8V670.6V699.7V678.2V718.0V685.2V738.0V716.3H664.5V694.4V675.9V733.9V677.1V733.3V700.7V643.1V699.1V757.0V675.4V667.9V649.7V728.6V657.0V742.4V710.0V681.9V661.4V655.7V719.4H665.5V791.5V690.3V675.3V636.1V676.3V718.9V655.9V703.9V696.1V670.2V632.3V680.7V676.0V675.1V782.0V688.8V674.4V740.5V738.7V795.6" stroke="#ff0000" stroke-width="1.6" fill="none" stroke-dasharray="4.4 1.9"/>
<rect x="92.50" y="23.00" width="573.80" height="250.60" fill="none" stroke="#000" stroke-width="0.85"/>
<path d="M92.50 273.60v3.5 M127.05 273.60v2 M147.25 273.60v2 M161.59 273.60v2 M172.71 273.60v2 M181.80 273.60v2 M189.48 273.60v2 M196.14 273.60v2 M202.01 273.60v2 M207.26 273.60v3.5 M241.81 273.60v2 M262.01 273.60v2 M276.35 273.60v2 M287.47 273.60v2 M296.56 273.60v2 M304.24 273.60v2 M310.90 273.60v2 M316.77 273.60v2 M322.02 273.60v3.5 M356.57 273.60v2 M376.77 273.60v2 M391.11 273.60v2 M402.23 273.60v2 M411.32 273.60v2 M419.00 273.60v2 M425.66 273.60v2 M431.53 273.60v2 M436.78 273.60v3.5 M471.33 273.60v2 M491.53 273.60v2 M505.87 273.60v2 M516.99 273.60v2 M526.08 273.60v2 M533.76 273.60v2 M540.42 273.60v2 M546.29 273.60v2 M551.54 273.60v3.5 M586.09 273.60v2 M606.29 273.60v2 M620.63 273.60v2 M631.75 273.60v2 M640.84 273.60v2 M648.52 273.60v2 M655.18 273.60v2 M661.05 273.60v2 M666.30 273.60v3.5 M92.50 72.50h-3.5 M92.50 173.10h-3.5 M92.50 273.70h-3.5" stroke="#000" stroke-width="0.85" fill="none"/>
<text x="38.75" y="80.30" font-size="22.2" textLength="25.55" lengthAdjust="spacingAndGlyphs">10</text>
<text x="65.75" y="72.60" font-size="14.8" textLength="11.30" lengthAdjust="spacingAndGlyphs">−</text>
<text x="78.39" y="72.20" font-size="14.8">1</text>
<text x="38.75" y="180.90" font-size="22.2" textLength="25.55" lengthAdjust="spacingAndGlyphs">10</text>
<text x="65.75" y="173.20" font-size="14.8" textLength="11.30" lengthAdjust="spacingAndGlyphs">−</text>
<text x="78.32" y="172.80" font-size="14.8">3</text>
<text x="38.75" y="281.50" font-size="22.2" textLength="25.55" lengthAdjust="spacingAndGlyphs">10</text>
<text x="65.75" y="273.80" font-size="14.8" textLength="11.30" lengthAdjust="spacingAndGlyphs">−</text>
<text x="78.29" y="273.40" font-size="14.8">5</text>
<text transform="rotate(-90)" x="-226.52" y="17.7" font-size="22.2" textLength="155.27" lengthAdjust="spacingAndGlyphs">Decay rate, Δ<tspan font-style="italic">α</tspan></text>
<rect x="92.50" y="317.10" width="573.80" height="250.60" fill="none" stroke="#000" stroke-width="0.85"/>
<path d="M92.50 567.70v3.5 M127.05 567.70v2 M147.25 567.70v2 M161.59 567.70v2 M172.71 567.70v2 M181.80 567.70v2 M189.48 567.70v2 M196.14 567.70v2 M202.01 567.70v2 M207.26 567.70v3.5 M241.81 567.70v2 M262.01 567.70v2 M276.35 567.70v2 M287.47 567.70v2 M296.56 567.70v2 M304.24 567.70v2 M310.90 567.70v2 M316.77 567.70v2 M322.02 567.70v3.5 M356.57 567.70v2 M376.77 567.70v2 M391.11 567.70v2 M402.23 567.70v2 M411.32 567.70v2 M419.00 567.70v2 M425.66 567.70v2 M431.53 567.70v2 M436.78 567.70v3.5 M471.33 567.70v2 M491.53 567.70v2 M505.87 567.70v2 M516.99 567.70v2 M526.08 567.70v2 M533.76 567.70v2 M540.42 567.70v2 M546.29 567.70v2 M551.54 567.70v3.5 M586.09 567.70v2 M606.29 567.70v2 M620.63 567.70v2 M631.75 567.70v2 M640.84 567.70v2 M648.52 567.70v2 M655.18 567.70v2 M661.05 567.70v2 M666.30 567.70v3.5 M92.50 366.60h-3.5 M92.50 467.20h-3.5 M92.50 567.80h-3.5" stroke="#000" stroke-width="0.85" fill="none"/>
<text x="38.75" y="374.40" font-size="22.2" textLength="25.55" lengthAdjust="spacingAndGlyphs">10</text>
<text x="65.75" y="366.70" font-size="14.8" textLength="11.30" lengthAdjust="spacingAndGlyphs">−</text>
<text x="78.39" y="366.30" font-size="14.8">1</text>
<text x="38.75" y="475.00" font-size="22.2" textLength="25.55" lengthAdjust="spacingAndGlyphs">10</text>
<text x="65.75" y="467.30" font-size="14.8" textLength="11.30" lengthAdjust="spacingAndGlyphs">−</text>
<text x="78.32" y="466.90" font-size="14.8">3</text>
<text x="38.75" y="575.60" font-size="22.2" textLength="25.55" lengthAdjust="spacingAndGlyphs">10</text>
<text x="65.75" y="567.90" font-size="14.8" textLength="11.30" lengthAdjust="spacingAndGlyphs">−</text>
<text x="78.29" y="567.50" font-size="14.8">5</text>
<text transform="rotate(-90)" x="-520.62" y="17.7" font-size="22.2" textLength="155.27" lengthAdjust="spacingAndGlyphs">Decay rate, Δ<tspan font-style="italic">α</tspan></text>
<rect x="92.50" y="611.40" width="573.80" height="250.60" fill="none" stroke="#000" stroke-width="0.85"/>
<path d="M92.50 862.00v3.5 M127.05 862.00v2 M147.25 862.00v2 M161.59 862.00v2 M172.71 862.00v2 M181.80 862.00v2 M189.48 862.00v2 M196.14 862.00v2 M202.01 862.00v2 M207.26 862.00v3.5 M241.81 862.00v2 M262.01 862.00v2 M276.35 862.00v2 M287.47 862.00v2 M296.56 862.00v2 M304.24 862.00v2 M310.90 862.00v2 M316.77 862.00v2 M322.02 862.00v3.5 M356.57 862.00v2 M376.77 862.00v2 M391.11 862.00v2 M402.23 862.00v2 M411.32 862.00v2 M419.00 862.00v2 M425.66 862.00v2 M431.53 862.00v2 M436.78 862.00v3.5 M471.33 862.00v2 M491.53 862.00v2 M505.87 862.00v2 M516.99 862.00v2 M526.08 862.00v2 M533.76 862.00v2 M540.42 862.00v2 M546.29 862.00v2 M551.54 862.00v3.5 M586.09 862.00v2 M606.29 862.00v2 M620.63 862.00v2 M631.75 862.00v2 M640.84 862.00v2 M648.52 862.00v2 M655.18 862.00v2 M661.05 862.00v2 M666.30 862.00v3.5 M92.50 660.90h-3.5 M92.50 761.50h-3.5 M92.50 862.10h-3.5" stroke="#000" stroke-width="0.85" fill="none"/>
<text x="38.75" y="668.70" font-size="22.2" textLength="25.55" lengthAdjust="spacingAndGlyphs">10</text>
<text x="65.75" y="661.00" font-size="14.8" textLength="11.30" lengthAdjust="spacingAndGlyphs">−</text>
<text x="78.39" y="660.60" font-size="14.8">1</text>
<text x="38.75" y="769.30" font-size="22.2" textLength="25.55" lengthAdjust="spacingAndGlyphs">10</text>
<text x="65.75" y="761.60" font-size="14.8" textLength="11.30" lengthAdjust="spacingAndGlyphs">−</text>
<text x="78.32" y="761.20" font-size="14.8">3</text>
<text x="38.75" y="869.90" font-size="22.2" textLength="25.55" lengthAdjust="spacingAndGlyphs">10</text>
<text x="65.75" y="862.20" font-size="14.8" textLength="11.30" lengthAdjust="spacingAndGlyphs">−</text>
<text x="78.29" y="861.80" font-size="14.8">5</text>
<text transform="rotate(-90)" x="-814.92" y="17.7" font-size="22.2" textLength="155.27" lengthAdjust="spacingAndGlyphs">Decay rate, Δ<tspan font-style="italic">α</tspan></text>
<text x="75.11" y="883.80" font-size="22.2" textLength="24.65" lengthAdjust="spacingAndGlyphs">10</text>
<text x="101.82" y="876.00" font-size="14.8">0</text>
<text x="189.87" y="883.80" font-size="22.2" textLength="24.65" lengthAdjust="spacingAndGlyphs">10</text>
<text x="216.03" y="876.00" font-size="14.8">1</text>
<text x="304.63" y="883.80" font-size="22.2" textLength="24.65" lengthAdjust="spacingAndGlyphs">10</text>
<text x="331.18" y="876.00" font-size="14.8">2</text>
<text x="419.39" y="883.80" font-size="22.2" textLength="24.65" lengthAdjust="spacingAndGlyphs">10</text>
<text x="446.12" y="876.00" font-size="14.8">3</text>
<text x="534.15" y="883.80" font-size="22.2" textLength="24.65" lengthAdjust="spacingAndGlyphs">10</text>
<text x="561.10" y="876.00" font-size="14.8">4</text>
<text x="648.91" y="883.80" font-size="22.2" textLength="24.65" lengthAdjust="spacingAndGlyphs">10</text>
<text x="675.61" y="876.00" font-size="14.8">5</text>
<path d="M112.70 244.35V212.40H121.19V211.40H129.68V176.30H138.17V187.30H146.66V159.50H155.15V180.20H163.64V155.40H172.12V181.90H180.62V161.60H189.11V192.40H197.60V175.80H206.09V213.20H214.58V201.50H223.06V240.20H231.56V228.00H240.05V244.35" fill="none" stroke="#1f77b4" stroke-width="1.05" stroke-opacity="0.78"/>
<rect x="106.5" y="151.5" width="139.85" height="92.85" fill="none" stroke="#000" stroke-width="0.85"/>
<path d="M108.45 244.35v2.4 M193.35 244.35v2.4 M246.35 242.83h1.6 M246.35 239.86h1.6 M246.35 237.44h1.6 M246.35 235.39h1.6 M246.35 233.62h1.6 M246.35 232.05h1.6 M246.35 230.65h2.8 M246.35 221.44h1.6 M246.35 216.05h1.6 M246.35 212.23h1.6 M246.35 209.26h1.6 M246.35 206.84h1.6 M246.35 204.79h1.6 M246.35 203.02h1.6 M246.35 201.45h1.6 M246.35 200.05h2.8 M246.35 190.84h1.6 M246.35 185.45h1.6 M246.35 181.63h1.6 M246.35 178.66h1.6 M246.35 176.24h1.6 M246.35 174.19h1.6 M246.35 172.42h1.6 M246.35 170.85h1.6 M246.35 169.45h2.8 M246.35 160.24h1.6 M246.35 154.85h1.6" stroke="#000" stroke-width="0.7" fill="none"/>
<text x="104.41" y="260.35" font-size="14.9">0</text>
<text x="184.73" y="260.35" font-size="14.9" textLength="17.07" lengthAdjust="spacingAndGlyphs">10</text>
<text x="252.34" y="175.55" font-size="14.9" textLength="16.96" lengthAdjust="spacingAndGlyphs">10</text>
<text x="270.44" y="169.75" font-size="10.8" textLength="6.61" lengthAdjust="spacingAndGlyphs">−</text>
<text x="277.82" y="169.65" font-size="10.8">1</text>
<text x="252.34" y="206.15" font-size="14.9" textLength="16.96" lengthAdjust="spacingAndGlyphs">10</text>
<text x="270.44" y="200.35" font-size="10.8" textLength="6.61" lengthAdjust="spacingAndGlyphs">−</text>
<text x="277.84" y="200.25" font-size="10.8">2</text>
<text x="252.34" y="236.75" font-size="14.9" textLength="16.96" lengthAdjust="spacingAndGlyphs">10</text>
<text x="270.44" y="230.95" font-size="10.8" textLength="6.61" lengthAdjust="spacingAndGlyphs">−</text>
<text x="277.77" y="230.85" font-size="10.8">3</text>
<text x="101.71" y="146.00" font-size="17.2" textLength="148.10" lengthAdjust="spacingAndGlyphs">Species richness</text>
<path d="M112.70 537.40V470.00H121.19V464.40H129.68V449.20H138.17V458.10H146.66V448.40H155.15V466.80H163.64V460.40H172.12V486.50H180.62V484.20H189.11V517.00H197.60V511.50H206.09V533.50H214.58V537.40" fill="none" stroke="#1f77b4" stroke-width="1.05" stroke-opacity="0.78"/>
<rect x="106.5" y="444.4" width="139.85" height="93.00" fill="none" stroke="#000" stroke-width="0.85"/>
<path d="M108.45 537.40v2.4 M193.35 537.40v2.4 M246.35 505.40h2.8 M246.35 459.90h2.8" stroke="#000" stroke-width="0.7" fill="none"/>
<text x="104.41" y="553.40" font-size="14.9">0</text>
<text x="184.73" y="553.40" font-size="14.9" textLength="17.07" lengthAdjust="spacingAndGlyphs">10</text>
<text x="252.34" y="466.00" font-size="14.9" textLength="16.96" lengthAdjust="spacingAndGlyphs">10</text>
<text x="270.44" y="460.20" font-size="10.8" textLength="6.61" lengthAdjust="spacingAndGlyphs">−</text>
<text x="277.82" y="460.10" font-size="10.8">1</text>
<text x="252.34" y="511.50" font-size="14.9" textLength="16.96" lengthAdjust="spacingAndGlyphs">10</text>
<text x="270.44" y="505.70" font-size="10.8" textLength="6.61" lengthAdjust="spacingAndGlyphs">−</text>
<text x="277.77" y="505.60" font-size="10.8">3</text>
<text x="101.71" y="438.90" font-size="17.2" textLength="148.10" lengthAdjust="spacingAndGlyphs">Species richness</text>
<path d="M112.70 830.45V772.90H121.19V764.60H129.68V742.30H138.17V754.10H146.66V741.40H155.15V765.70H163.64V758.90H172.12V790.80H180.62V787.50H189.11V826.30H197.60V815.40H206.09V830.45" fill="none" stroke="#1f77b4" stroke-width="1.05" stroke-opacity="0.78"/>
<rect x="106.5" y="737.6" width="139.85" height="92.85" fill="none" stroke="#000" stroke-width="0.85"/>
<path d="M108.45 830.45v2.4 M193.35 830.45v2.4 M246.35 827.55h1.6 M246.35 825.14h1.6 M246.35 823.11h1.6 M246.35 821.35h1.6 M246.35 819.79h1.6 M246.35 818.40h2.8 M246.35 809.25h1.6 M246.35 803.90h1.6 M246.35 800.10h1.6 M246.35 797.15h1.6 M246.35 794.74h1.6 M246.35 792.71h1.6 M246.35 790.95h1.6 M246.35 789.39h1.6 M246.35 788.00h2.8 M246.35 778.85h1.6 M246.35 773.50h1.6 M246.35 769.70h1.6 M246.35 766.75h1.6 M246.35 764.34h1.6 M246.35 762.31h1.6 M246.35 760.55h1.6 M246.35 758.99h1.6 M246.35 757.60h2.8 M246.35 748.45h1.6 M246.35 743.10h1.6 M246.35 739.30h1.6" stroke="#000" stroke-width="0.7" fill="none"/>
<text x="104.41" y="846.45" font-size="14.9">0</text>
<text x="184.73" y="846.45" font-size="14.9" textLength="17.07" lengthAdjust="spacingAndGlyphs">10</text>
<text x="252.34" y="763.70" font-size="14.9" textLength="16.96" lengthAdjust="spacingAndGlyphs">10</text>
<text x="270.44" y="757.90" font-size="10.8" textLength="6.61" lengthAdjust="spacingAndGlyphs">−</text>
<text x="277.82" y="757.80" font-size="10.8">1</text>
<text x="252.34" y="794.10" font-size="14.9" textLength="16.96" lengthAdjust="spacingAndGlyphs">10</text>
<text x="270.44" y="788.30" font-size="10.8" textLength="6.61" lengthAdjust="spacingAndGlyphs">−</text>
<text x="277.84" y="788.20" font-size="10.8">2</text>
<text x="252.34" y="824.50" font-size="14.9" textLength="16.96" lengthAdjust="spacingAndGlyphs">10</text>
<text x="270.44" y="818.70" font-size="10.8" textLength="6.61" lengthAdjust="spacingAndGlyphs">−</text>
<text x="277.77" y="818.60" font-size="10.8">3</text>
<text x="101.71" y="732.10" font-size="17.2" textLength="148.10" lengthAdjust="spacingAndGlyphs">Species richness</text>
</svg></body></html>
